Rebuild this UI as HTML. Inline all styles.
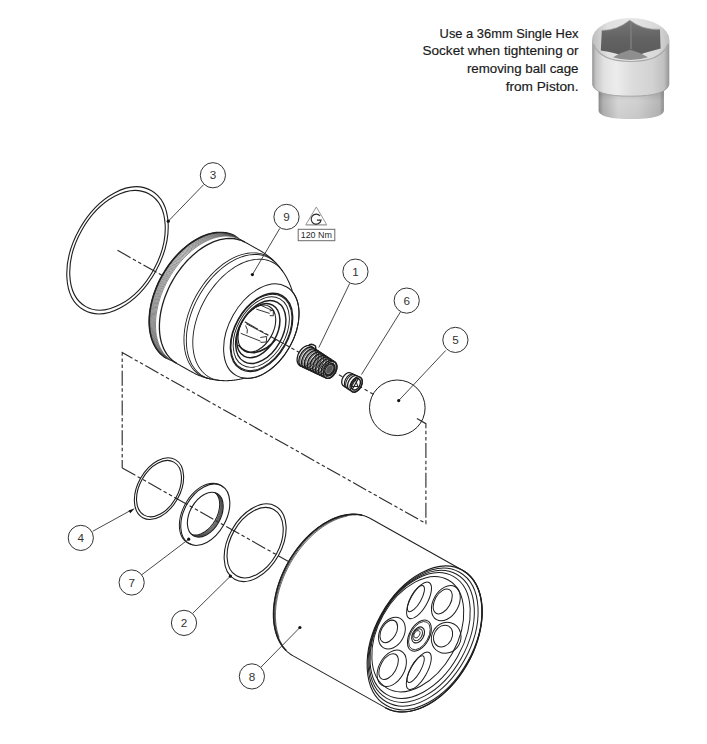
<!DOCTYPE html><html><head><meta charset="utf-8"><style>html,body{margin:0;padding:0;background:#fff;}svg{display:block;font-family:"Liberation Sans",sans-serif;}</style></head><body>
<svg width="707" height="744" viewBox="0 0 707 744">
<rect width="707" height="744" fill="#fff"/>
<text x="439.6" y="37.6" font-size="13.4" fill="#1a1a1a" stroke="#1a1a1a" stroke-width="0.18" textLength="138.9" lengthAdjust="spacingAndGlyphs">Use a 36mm Single Hex</text>
<text x="422.5" y="54.9" font-size="13.4" fill="#1a1a1a" stroke="#1a1a1a" stroke-width="0.18" textLength="156" lengthAdjust="spacingAndGlyphs">Socket when tightening or</text>
<text x="466.9" y="72.6" font-size="13.4" fill="#1a1a1a" stroke="#1a1a1a" stroke-width="0.18" textLength="111.6" lengthAdjust="spacingAndGlyphs">removing ball cage</text>
<text x="505.7" y="91.1" font-size="13.4" fill="#1a1a1a" stroke="#1a1a1a" stroke-width="0.18" textLength="72.8" lengthAdjust="spacingAndGlyphs">from Piston.</text>
<defs><linearGradient id="ug" x1="592" x2="669.5" y1="0" y2="0" gradientUnits="userSpaceOnUse"><stop offset="0" stop-color="#909090"/><stop offset="0.05" stop-color="#c4c4c4"/><stop offset="0.16" stop-color="#e2e2e2"/><stop offset="0.32" stop-color="#ececec"/><stop offset="0.52" stop-color="#dcdcdc"/><stop offset="0.78" stop-color="#d2d2d2"/><stop offset="0.93" stop-color="#c0c0c0"/><stop offset="1" stop-color="#929292"/></linearGradient><linearGradient id="lg" x1="598.5" x2="664" y1="0" y2="0" gradientUnits="userSpaceOnUse"><stop offset="0" stop-color="#8c8c8c"/><stop offset="0.07" stop-color="#b4b4b4"/><stop offset="0.3" stop-color="#dadada"/><stop offset="0.6" stop-color="#d4d4d4"/><stop offset="0.93" stop-color="#bababa"/><stop offset="1" stop-color="#909090"/></linearGradient><linearGradient id="lgs" x1="0" x2="0" y1="86" y2="119" gradientUnits="userSpaceOnUse"><stop offset="0" stop-color="#000" stop-opacity="0.18"/><stop offset="0.45" stop-color="#000" stop-opacity="0.02"/><stop offset="1" stop-color="#000" stop-opacity="0.06"/></linearGradient><linearGradient id="tg" x1="0" x2="1" y1="0" y2="0"><stop offset="0" stop-color="#bcbcbc"/><stop offset="0.2" stop-color="#e0e0e0"/><stop offset="0.5" stop-color="#e6e6e6"/><stop offset="0.85" stop-color="#d8d8d8"/><stop offset="1" stop-color="#c0c0c0"/></linearGradient><linearGradient id="hg" x1="0" x2="0" y1="20" y2="58" gradientUnits="userSpaceOnUse"><stop offset="0" stop-color="#767676"/><stop offset="0.5" stop-color="#626262"/><stop offset="1" stop-color="#5a5a5a"/></linearGradient></defs>
<path d="M598.6,84 L598.6,111 Q600.5,119 631.2,119 Q662,119 663.9,111 L663.9,84 Z" fill="url(#lg)"/>
<path d="M598.6,84 L598.6,111 Q600.5,119 631.2,119 Q662,119 663.9,111 L663.9,84 Z" fill="url(#lgs)"/>
<path d="M592.2,39.8 L592.2,84 Q594,96.2 630.6,96.2 Q667.5,96.2 669.3,84 L669.3,39.8 Z" fill="url(#ug)"/>
<path d="M592.6,84 Q594.3,96.2 630.6,96.2 Q667.2,96.2 668.9,84" fill="none" stroke="#9a9a9a" stroke-width="0.8"/>
<ellipse cx="630.7" cy="39.8" rx="38.6" ry="21.7" fill="url(#tg)"/>
<path d="M593.5,44 Q600,61.5 630.7,61.5 Q661,61.5 668,44" fill="none" stroke="#a8a8a8" stroke-width="1.2"/>
<path d="M629.8,20.3 Q617,30.5 601.8,30.5 L600.8,50.5 Q616,52.5 629.8,58.5 Q644,52.5 660.6,48.6 L660,29.3 Q643,30.5 629.8,20.3 Z" fill="url(#hg)"/>
<path d="M613,57.2 Q622,52 630.3,49.8 Q639,52 648,57.2 Q640,59.8 630.3,60.1 Q621,59.8 613,57.2 Z" fill="#8e8e8e"/>
<line x1="631" y1="22" x2="631" y2="49" stroke="#7c7c7c" stroke-width="1.6"/>
<path d="M601.8,30.5 Q617,30.5 629.8,20.3 Q643,30.5 660,29.3" fill="none" stroke="#9a9a9a" stroke-width="0.8"/>
<g fill="none" stroke="#2e2e2e" stroke-width="1.15" stroke-dasharray="15 2.6 3.5 2.6 3.5 2.6">
<path d="M416.9,418.4 L425.9,423.7 L425.9,523.5 L122.2,352.6 L122.2,468"/>
</g>
<g transform="translate(122.3,468.0) rotate(29.35)" fill="none" stroke="#1e1e1e" >
<path d="M0,0 L230,0" stroke="#2e2e2e" stroke-width="1.15" stroke-dasharray="15 2.6 3.5 2.6 3.5 2.6"/>
<ellipse cx="42.1" cy="0" rx="21.15" ry="33.3" stroke-width="1.1" />
<ellipse cx="42.1" cy="0" rx="19.3" ry="30.4" stroke-width="1.1" />
<ellipse cx="95.2" cy="0" rx="21.08" ry="33.2" stroke-width="1.1" />
<path d="M97.26,32.7 94.55,33.17 91.83,33.08 89.14,32.45 86.52,31.27 84.02,29.57 81.68,27.38 79.53,24.73 77.63,21.67 75.99,18.24 74.64,14.52 73.61,10.54 72.91,6.4 72.56,2.14 72.56,-2.14 72.91,-6.4 73.61,-10.54 74.64,-14.52 75.99,-18.24 77.63,-21.67 79.53,-24.73 81.68,-27.38 84.02,-29.57 86.52,-31.27 89.14,-32.45 91.83,-33.08 94.55,-33.17 97.26,-32.7" stroke-width="1.0" />
<defs><clipPath id="w7c"><ellipse cx="95.2" cy="0" rx="15.37" ry="24.2"/></clipPath></defs>
<ellipse cx="95.2" cy="0" rx="15.37" ry="24.2" stroke-width="1.1" />
<g clip-path="url(#w7c)"><path d="M93.41,-24.11 96.09,-24.11 98.73,-23.38 101.24,-21.93 103.56,-19.82 105.62,-17.11 107.34,-13.88 108.68,-10.23 109.59,-6.26 110.06,-2.11 110.06,2.11 109.59,6.26 108.68,10.23 107.34,13.88 105.62,17.11 103.56,19.82 101.24,21.93 98.73,23.38 96.09,24.11 93.41,24.11" stroke-width="0.5" stroke="#333"/><path d="M92.96,-24.11 95.64,-24.11 98.28,-23.38 100.79,-21.93 103.11,-19.82 105.17,-17.11 106.89,-13.88 108.23,-10.23 109.14,-6.26 109.61,-2.11 109.61,2.11 109.14,6.26 108.23,10.23 106.89,13.88 105.17,17.11 103.11,19.82 100.79,21.93 98.28,23.38 95.64,24.11 92.96,24.11" stroke-width="0.5" stroke="#333"/><path d="M92.51,-24.11 95.19,-24.11 97.83,-23.38 100.34,-21.93 102.66,-19.82 104.72,-17.11 106.44,-13.88 107.78,-10.23 108.69,-6.26 109.16,-2.11 109.16,2.11 108.69,6.26 107.78,10.23 106.44,13.88 104.72,17.11 102.66,19.82 100.34,21.93 97.83,23.38 95.19,24.11 92.51,24.11" stroke-width="0.5" stroke="#333"/><path d="M92.06,-24.11 94.74,-24.11 97.38,-23.38 99.89,-21.93 102.21,-19.82 104.27,-17.11 105.99,-13.88 107.33,-10.23 108.24,-6.26 108.71,-2.11 108.71,2.11 108.24,6.26 107.33,10.23 105.99,13.88 104.27,17.11 102.21,19.82 99.89,21.93 97.38,23.38 94.74,24.11 92.06,24.11" stroke-width="0.5" stroke="#333"/><path d="M91.61,-24.11 94.29,-24.11 96.93,-23.38 99.44,-21.93 101.76,-19.82 103.82,-17.11 105.54,-13.88 106.88,-10.23 107.79,-6.26 108.26,-2.11 108.26,2.11 107.79,6.26 106.88,10.23 105.54,13.88 103.82,17.11 101.76,19.82 99.44,21.93 96.93,23.38 94.29,24.11 91.61,24.11" stroke-width="0.5" stroke="#333"/><path d="M91.16,-24.11 93.84,-24.11 96.48,-23.38 98.99,-21.93 101.31,-19.82 103.37,-17.11 105.09,-13.88 106.43,-10.23 107.34,-6.26 107.81,-2.11 107.81,2.11 107.34,6.26 106.43,10.23 105.09,13.88 103.37,17.11 101.31,19.82 98.99,21.93 96.48,23.38 93.84,24.11 91.16,24.11" stroke-width="0.5" stroke="#333"/><path d="M90.71,-24.11 93.39,-24.11 96.03,-23.38 98.54,-21.93 100.86,-19.82 102.92,-17.11 104.64,-13.88 105.98,-10.23 106.89,-6.26 107.36,-2.11 107.36,2.11 106.89,6.26 105.98,10.23 104.64,13.88 102.92,17.11 100.86,19.82 98.54,21.93 96.03,23.38 93.39,24.11 90.71,24.11" stroke-width="0.5" stroke="#333"/><path d="M88.53,-23.83 91.2,-24.2 93.87,-23.83 96.46,-22.74 98.88,-20.96 101.08,-18.54 102.97,-15.56 104.51,-12.1 105.64,-8.28 106.33,-4.2 106.57,0 106.33,4.2 105.64,8.28 104.51,12.1 102.97,15.56 101.08,18.54 98.88,20.96 96.46,22.74 93.87,23.83 91.2,24.2 88.53,23.83" stroke-width="1.0" /></g>
<ellipse cx="152.4" cy="0" rx="26.61" ry="41.9" stroke-width="1.1" />
<ellipse cx="152.4" cy="0" rx="24.13" ry="38" stroke-width="1.1" />
<path d="M241,80 239.25,79.95 237.51,79.81 235.77,79.57 234.04,79.23 232.31,78.8 230.6,78.28 228.89,77.66 227.21,76.95 225.54,76.14 223.89,75.25 222.26,74.26 220.65,73.19 219.06,72.02 217.51,70.78 215.98,69.44 214.48,68.03 213.02,66.53 211.59,64.95 210.19,63.3 208.84,61.56 207.52,59.76 206.24,57.88 205.01,55.94 203.81,53.93 202.67,51.85 201.57,49.71 200.52,47.52 199.52,45.26 198.57,42.96 197.67,40.6 196.82,38.19 196.03,35.74 195.29,33.25 194.61,30.72 193.98,28.15 193.41,25.55 192.9,22.92 192.45,20.26 192.06,17.58 191.72,14.88 191.45,12.17 191.24,9.44 191.08,6.7 190.99,3.95 190.96,1.2 190.99,-1.55 191.08,-4.3 191.24,-7.04 191.45,-9.77 191.72,-12.48 192.06,-15.18 192.45,-17.86 192.9,-20.52 193.41,-23.15 193.98,-25.75 194.61,-28.32 195.29,-30.85 196.03,-33.34 196.82,-35.79 197.67,-38.2 198.57,-40.56 199.52,-42.86 200.52,-45.12 201.57,-47.31 202.67,-49.45 203.81,-51.53 205.01,-53.54 206.24,-55.48 207.52,-57.36 208.84,-59.16 210.19,-60.9 211.59,-62.55 213.02,-64.13 214.48,-65.63 215.98,-67.04 217.51,-68.38 219.06,-69.62 220.65,-70.79 222.26,-71.86 223.89,-72.85 225.54,-73.74 227.21,-74.55 228.89,-75.26 230.6,-75.88 232.31,-76.4 234.04,-76.83 235.77,-77.17 237.51,-77.41 239.25,-77.55 241,-77.6 346.7,-77.6 346.7,-77.6 348.45,-77.55 350.19,-77.41 351.93,-77.17 353.66,-76.83 355.39,-76.4 357.1,-75.88 358.81,-75.26 360.49,-74.55 362.16,-73.74 363.81,-72.85 365.44,-71.86 367.05,-70.79 368.64,-69.62 370.19,-68.38 371.72,-67.04 373.22,-65.63 374.68,-64.13 376.11,-62.55 377.51,-60.9 378.86,-59.16 380.18,-57.36 381.46,-55.48 382.69,-53.54 383.89,-51.53 385.03,-49.45 386.13,-47.31 387.18,-45.12 388.18,-42.86 389.13,-40.56 390.03,-38.2 390.88,-35.79 391.67,-33.34 392.41,-30.85 393.09,-28.32 393.72,-25.75 394.29,-23.15 394.8,-20.52 395.25,-17.86 395.64,-15.18 395.98,-12.48 396.25,-9.77 396.46,-7.04 396.62,-4.3 396.71,-1.55 396.74,1.2 396.71,3.95 396.62,6.7 396.46,9.44 396.25,12.17 395.98,14.88 395.64,17.58 395.25,20.26 394.8,22.92 394.29,25.55 393.72,28.15 393.09,30.72 392.41,33.25 391.67,35.74 390.88,38.19 390.03,40.6 389.13,42.96 388.18,45.26 387.18,47.52 386.13,49.71 385.03,51.85 383.89,53.93 382.69,55.94 381.46,57.88 380.18,59.76 378.86,61.56 377.51,63.3 376.11,64.95 374.68,66.53 373.22,68.03 371.72,69.44 370.19,70.78 368.64,72.02 367.05,73.19 365.44,74.26 363.81,75.25 362.16,76.14 360.49,76.95 358.81,77.66 357.1,78.28 355.39,78.8 353.66,79.23 351.93,79.57 350.19,79.81 348.45,79.95 346.7,80 241,80Z" fill="#fff" stroke-width="1.0"/>
<path d="M232.31,78.8 230.03,78.08 227.77,77.2 225.54,76.14 223.34,74.93 221.18,73.56 219.06,72.02 217,70.34 214.98,68.51 213.02,66.53 211.12,64.41 209.28,62.15 207.52,59.76 205.82,57.24 204.21,54.61 202.67,51.85 201.21,48.99 199.84,46.02 198.57,42.96 197.38,39.8 196.28,36.57 195.29,33.25 194.39,29.87 193.59,26.42 192.9,22.92 192.31,19.37 191.83,15.79 191.45,12.17 191.18,8.52 191.02,4.87 190.96,1.2 191.02,-2.47 191.18,-6.12 191.45,-9.77 191.83,-13.39 192.31,-16.97 192.9,-20.52 193.59,-24.02 194.39,-27.47 195.29,-30.85 196.28,-34.17 197.38,-37.4 198.57,-40.56 199.84,-43.62 201.21,-46.59 202.67,-49.45 204.21,-52.21 205.82,-54.84 207.52,-57.36 209.28,-59.75 211.12,-62.01 213.02,-64.13 214.98,-66.11 217,-67.94 219.06,-69.62 221.18,-71.16 223.34,-72.53 225.54,-73.74 227.77,-74.8 230.03,-75.68 232.31,-76.4" stroke-width="1.5" />
<path d="M226.74,76.14 224.76,75.06 222.81,73.84 220.89,72.5 219.02,71.03 217.18,69.44 215.39,67.73 213.64,65.91 211.95,63.97 210.3,61.92 208.72,59.76 207.19,57.5 205.72,55.14 204.32,52.69 202.99,50.15 201.72,47.52 200.52,44.81 199.4,42.02 198.35,39.16 197.38,36.24 196.49,33.25 195.68,30.21 194.95,27.11 194.3,23.98 193.73,20.8 193.26,17.58 192.86,14.34 192.56,11.08 192.34,7.79 192.21,4.5 192.16,1.2 192.21,-2.1 192.34,-5.39 192.56,-8.68 192.86,-11.94 193.26,-15.18 193.73,-18.4 194.3,-21.58 194.95,-24.71 195.68,-27.81 196.49,-30.85 197.38,-33.84 198.35,-36.76 199.4,-39.62 200.52,-42.41 201.72,-45.12 202.99,-47.75 204.32,-50.29 205.72,-52.74 207.19,-55.1 208.72,-57.36 210.3,-59.52 211.95,-61.57 213.64,-63.51 215.39,-65.33 217.18,-67.04 219.02,-68.63 220.89,-70.1 222.81,-71.44 224.76,-72.66 226.74,-73.74" stroke-width="0.7" />
<path d="M219.71,70.78 218.13,69.4 216.59,67.93 215.07,66.37 213.6,64.73 212.16,63.01 210.77,61.21 209.42,59.33 208.11,57.37 206.84,55.34 205.63,53.24 204.46,51.07 203.34,48.84 202.28,46.55 201.27,44.19 200.31,41.79 199.41,39.32 198.56,36.81 197.78,34.25 197.05,31.65 196.38,29.01 195.78,26.33 195.23,23.62 194.75,20.89 194.33,18.12 193.97,15.33 193.68,12.53 193.45,9.71 193.29,6.88 193.19,4.04 193.16,1.2 193.19,-1.64 193.29,-4.48 193.45,-7.31 193.68,-10.13 193.97,-12.93 194.33,-15.72 194.75,-18.49 195.23,-21.22 195.78,-23.93 196.38,-26.61 197.05,-29.25 197.78,-31.85 198.56,-34.41 199.41,-36.92 200.31,-39.39 201.27,-41.79 202.28,-44.15 203.34,-46.44 204.46,-48.67 205.63,-50.84 206.84,-52.94 208.11,-54.97 209.42,-56.93 210.77,-58.81 212.16,-60.61 213.6,-62.33 215.07,-63.97 216.59,-65.53 218.13,-67 219.71,-68.38" stroke-width="0.6" />
<path d="M346.7,-77.6 348.45,-77.55 350.19,-77.41 351.93,-77.17 353.66,-76.83 355.39,-76.4 357.1,-75.88 358.81,-75.26 360.49,-74.55 362.16,-73.74 363.81,-72.85 365.44,-71.86 367.05,-70.79 368.64,-69.62 370.19,-68.38 371.72,-67.04 373.22,-65.63 374.68,-64.13 376.11,-62.55 377.51,-60.9 378.86,-59.16 380.18,-57.36 381.46,-55.48 382.69,-53.54 383.89,-51.53 385.03,-49.45 386.13,-47.31 387.18,-45.12 388.18,-42.86 389.13,-40.56 390.03,-38.2 390.88,-35.79 391.67,-33.34 392.41,-30.85 393.09,-28.32 393.72,-25.75 394.29,-23.15 394.8,-20.52 395.25,-17.86 395.64,-15.18 395.98,-12.48 396.25,-9.77 396.46,-7.04 396.62,-4.3 396.71,-1.55 396.74,1.2 396.71,3.95 396.62,6.7 396.46,9.44 396.25,12.17 395.98,14.88 395.64,17.58 395.25,20.26 394.8,22.92 394.29,25.55 393.72,28.15 393.09,30.72 392.41,33.25 391.67,35.74 390.88,38.19 390.03,40.6 389.13,42.96 388.18,45.26 387.18,47.52 386.13,49.71 385.03,51.85 383.89,53.93 382.69,55.94 381.46,57.88 380.18,59.76 378.86,61.56 377.51,63.3 376.11,64.95 374.68,66.53 373.22,68.03 371.72,69.44 370.19,70.78 368.64,72.02 367.05,73.19 365.44,74.26 363.81,75.25 362.16,76.14 360.49,76.95 358.81,77.66 357.1,78.28 355.39,78.8 353.66,79.23 351.93,79.57 350.19,79.81 348.45,79.95 346.7,80" stroke-width="1.3" />
<ellipse cx="346.7" cy="0" rx="49.28" ry="77.6" stroke-width="1.1" />
<ellipse cx="345.1" cy="0" rx="47.24" ry="74.4" stroke-width="1.0" />
<ellipse cx="343.5" cy="0" rx="45.21" ry="71.2" stroke-width="1.0" />
<ellipse cx="341.7" cy="0" rx="43.05" ry="67.8" stroke-width="1.0" />
<ellipse cx="339" cy="0" rx="39.5" ry="62.2" stroke-width="1.0" />
</g>
<g fill="none" stroke="#1e1e1e"><g transform="translate(419.05,600.35) rotate(29.35)"><ellipse cx="0" cy="0" rx="8.4" ry="20.5" stroke-width="1.0"/><ellipse cx="-3.6" cy="0" rx="5.21" ry="14.76" stroke-width="1.0"/></g>
<g transform="translate(445.85,603.2) rotate(29.35)"><ellipse cx="0" cy="0" rx="12.7" ry="18.9" stroke-width="1.0"/><ellipse cx="-3.6" cy="0" rx="7.87" ry="13.61" stroke-width="1.0"/></g>
<g transform="translate(446.2,637.8) rotate(29.35)"><ellipse cx="0" cy="0" rx="14.5" ry="15.8" stroke-width="1.0"/><ellipse cx="-3.6" cy="0" rx="8.99" ry="11.38" stroke-width="1.0"/></g>
<g transform="translate(418.8,670.85) rotate(29.35)"><ellipse cx="0" cy="0" rx="8.1" ry="21" stroke-width="1.0"/><ellipse cx="-3.6" cy="0" rx="5.02" ry="15.12" stroke-width="1.0"/></g>
<g transform="translate(391.75,668.35) rotate(29.35)"><ellipse cx="0" cy="0" rx="12.7" ry="19.6" stroke-width="1.0"/><ellipse cx="-3.6" cy="0" rx="7.87" ry="14.11" stroke-width="1.0"/></g>
<g transform="translate(391.9,633.15) rotate(29.35)"><ellipse cx="0" cy="0" rx="12.1" ry="16.9" stroke-width="1.0"/><ellipse cx="-3.6" cy="0" rx="7.5" ry="12.17" stroke-width="1.0"/></g>
<g transform="translate(419.4,635.65) rotate(29.35)"><ellipse rx="9.9" ry="16.9" stroke-width="1.0"/><ellipse rx="8.9" ry="15.4" stroke-width="0.8"/><ellipse cx="-1.5" rx="5.6" ry="8.6" stroke-width="1.1"/><ellipse cx="-2" rx="4.2" ry="6.4" stroke-width="0.9"/><ellipse cx="-2.8" rx="2.6" ry="4" stroke-width="0.8"/></g></g>
<g transform="translate(117.5,250.3) rotate(29.35)" fill="none" stroke="#1e1e1e" >
<path d="M0,0 L51,0" stroke="#2e2e2e" stroke-width="1.15" stroke-dasharray="15 2.6 3.5 2.6 3.5 2.6"/>
<ellipse cx="0" cy="0" rx="43.56" ry="68.6" stroke-width="1.1" />
<ellipse cx="0" cy="0" rx="41.02" ry="64.6" stroke-width="1.1" />
<path d="M197.38,0 197.38,0.59 197.38,1.18 197.37,1.76 197.35,2.35 197.33,2.94 197.31,3.53 197.28,4.11 197.25,4.7 197.21,5.29 197.17,5.88 197.12,6.46 197.07,7.05 197.02,7.64 196.96,8.22 196.9,8.81 196.83,9.39 196.76,9.98 196.68,10.56 196.6,11.15 196.52,11.73 196.43,12.31 196.33,12.89 196.23,13.48 196.13,14.06 196.02,14.64 195.91,15.22 195.79,15.8 195.67,16.37 195.54,16.95 195.41,17.53 195.28,18.1 195.14,18.68 194.99,19.25 194.84,19.82 194.68,20.39 194.52,20.96 194.36,21.53 194.19,22.1 194.01,22.67 193.83,23.23 193.64,23.8 193.45,24.36 193.26,24.92 193.06,25.48 192.85,26.03 192.64,26.59 192.42,27.14 192.2,27.69 191.97,28.24 191.73,28.79 191.49,29.33 191.25,29.87 191,30.41 190.74,30.95 190.48,31.48 190.21,32.01 189.94,32.54 189.66,33.07 189.37,33.59 189.08,34.11 188.78,34.62 188.47,35.13 188.16,35.64 187.85,36.15 187.52,36.65 187.19,37.14 186.86,37.63 186.51,38.12 186.17,38.6 185.81,39.08 185.45,39.55 185.08,40.02 184.7,40.48 184.32,40.93 183.93,41.38 183.53,41.82 183.13,42.26 182.72,42.69 182.3,43.11 181.88,43.53 181.44,43.94 181,44.34 180.56,44.73 180.1,45.11 179.64,45.49 179.17,45.86 178.7,46.21 178.22,46.56 177.72,46.9 177.23,47.23 176.72,47.54 176.21,47.85 175.69,48.14 175.16,48.43 174.62,48.7 174.08,48.95 173.53,49.2 172.98,49.45 172.57,49.85 172.16,50.25 171.75,50.64 171.33,51.03 170.9,51.42 170.48,51.81 170.05,52.19 169.61,52.57 169.18,52.95 168.74,53.32 168.29,53.69 167.85,54.05 167.4,54.41 166.94,54.77 166.49,55.13 166.03,55.48 165.56,55.83 165.1,56.17 164.63,56.51 164.16,56.85 163.68,57.18 163.2,57.51 162.72,57.83 162.24,58.16 161.75,58.47 161.26,58.79 160.76,59.1 160.27,59.4 159.77,59.71 159.27,60 158.76,60.3 158.25,60.59 157.74,60.87 157.23,61.16 156.71,61.43 156.19,61.71 155.67,61.98 155.15,62.24 154.62,62.5 154.09,62.76 153.56,63.01 153.02,63.26 152.49,63.5 151.95,63.74 151.41,63.98 150.86,64.21 150.32,64.43 149.77,64.65 149.22,64.87 148.66,65.08 148.11,65.29 147.55,65.49 146.99,65.69 146.43,65.89 145.86,66.08 145.3,66.26 144.73,66.44 144.16,66.62 143.59,66.79 143.01,66.95 142.44,67.11 141.86,67.27 141.28,67.42 140.7,67.57 140.12,67.71 139.53,67.84 138.95,67.98 138.36,68.1 137.77,68.22 137.18,68.34 136.59,68.45 136,68.56 135.4,68.66 134.81,68.76 134.21,68.85 133.61,68.93 133.01,69.01 132.41,69.09 131.81,69.16 131.21,69.23 130.6,69.29 130,69.34 129.39,69.39 128.79,69.44 128.18,69.47 127.57,69.51 126.96,69.54 126.35,69.56 125.74,69.58 125.13,69.59 124.52,69.6 123.91,69.6 123.3,69.6 122.68,69.6 122.07,69.6 121.45,69.6 120.84,69.6 120.22,69.6 119.6,69.6 118.98,69.6 118.35,69.6 117.73,69.6 117.1,69.6 116.47,69.6 115.84,69.6 115.21,69.6 114.57,69.6 113.93,69.6 113.29,69.6 112.65,69.6 112,69.6 111.35,69.6 110.7,69.6 110.04,69.6 109.38,69.6 108.72,69.6 108.06,69.6 107.39,69.6 106.71,69.6 106.03,69.6 105.35,69.6 104.67,69.6 103.98,69.6 103.28,69.6 102.58,69.6 101.88,69.6 101.17,69.6 100.45,69.62 99.68,69.73 98.91,69.83 98.14,69.9 97.38,69.96 96.62,69.99 95.86,70 95.1,69.99 94.35,69.96 93.6,69.91 92.86,69.85 92.12,69.76 91.39,69.65 90.66,69.53 89.94,69.39 89.22,69.23 88.51,69.05 87.8,68.86 87.1,68.65 86.41,68.42 85.72,68.18 85.04,67.92 84.37,67.65 83.71,67.36 83.05,67.06 82.39,66.74 81.75,66.41 81.11,66.07 80.48,65.71 79.86,65.34 79.24,64.96 78.64,64.57 78.04,64.17 77.45,63.75 76.86,63.33 76.28,62.89 75.72,62.45 75.15,61.99 74.6,61.53 74.06,61.05 73.52,60.57 72.99,60.08 72.47,59.58 71.95,59.07 71.44,58.56 70.94,58.03 70.45,57.5 69.97,56.97 69.49,56.42 69.02,55.87 68.56,55.32 68.11,54.76 67.66,54.19 67.22,53.62 66.79,53.04 66.37,52.46 65.95,51.87 65.54,51.27 65.14,50.68 64.74,50.08 64.35,49.47 63.97,48.86 63.59,48.25 63.23,47.63 62.86,47.01 62.51,46.38 62.16,45.76 61.82,45.13 61.48,44.49 61.16,43.86 60.83,43.22 60.52,42.58 60.21,41.93 59.91,41.29 59.61,40.64 59.32,39.99 59.03,39.34 58.75,38.68 58.48,38.03 58.21,37.37 57.95,36.71 57.7,36.05 57.45,35.39 57.2,34.72 56.97,34.06 56.73,33.39 56.51,32.72 56.28,32.05 56.07,31.38 55.86,30.71 55.65,30.04 55.45,29.37 55.26,28.69 55.07,28.02 54.88,27.34 54.7,26.66 54.53,25.99 54.36,25.31 54.19,24.63 54.03,23.95 53.88,23.27 53.73,22.59 53.58,21.91 53.44,21.23 53.31,20.55 53.18,19.87 53.05,19.19 52.93,18.5 52.81,17.82 52.7,17.14 52.6,16.45 52.49,15.77 52.39,15.08 52.3,14.4 52.21,13.72 52.13,13.03 52.05,12.35 51.97,11.66 51.9,10.98 51.83,10.29 51.77,9.61 51.71,8.92 51.66,8.23 51.61,7.55 51.56,6.86 51.52,6.18 51.49,5.49 51.45,4.8 51.43,4.12 51.4,3.43 51.38,2.75 51.37,2.06 51.36,1.37 51.35,0.69 51.35,0 51.35,-0.69 51.36,-1.37 51.37,-2.06 51.38,-2.75 51.4,-3.43 51.43,-4.12 51.45,-4.8 51.49,-5.49 51.52,-6.18 51.56,-6.86 51.61,-7.55 51.66,-8.23 51.71,-8.92 51.77,-9.61 51.83,-10.29 51.9,-10.98 51.97,-11.66 52.05,-12.35 52.13,-13.03 52.21,-13.72 52.3,-14.4 52.39,-15.08 52.49,-15.77 52.6,-16.45 52.7,-17.14 52.81,-17.82 52.93,-18.5 53.05,-19.19 53.18,-19.87 53.31,-20.55 53.44,-21.23 53.58,-21.91 53.73,-22.59 53.88,-23.27 54.03,-23.95 54.19,-24.63 54.36,-25.31 54.53,-25.99 54.7,-26.66 54.88,-27.34 55.07,-28.02 55.26,-28.69 55.45,-29.37 55.65,-30.04 55.86,-30.71 56.07,-31.38 56.28,-32.05 56.51,-32.72 56.73,-33.39 56.97,-34.06 57.2,-34.72 57.45,-35.39 57.7,-36.05 57.95,-36.71 58.21,-37.37 58.48,-38.03 58.75,-38.68 59.03,-39.34 59.32,-39.99 59.61,-40.64 59.91,-41.29 60.21,-41.93 60.52,-42.58 60.83,-43.22 61.16,-43.86 61.48,-44.49 61.82,-45.13 62.16,-45.76 62.51,-46.38 62.86,-47.01 63.23,-47.63 63.59,-48.25 63.97,-48.86 64.35,-49.47 64.74,-50.08 65.14,-50.68 65.54,-51.27 65.95,-51.87 66.37,-52.46 66.79,-53.04 67.22,-53.62 67.66,-54.19 68.11,-54.76 68.56,-55.32 69.02,-55.87 69.49,-56.42 69.97,-56.97 70.45,-57.5 70.94,-58.03 71.44,-58.56 71.95,-59.07 72.47,-59.58 72.99,-60.08 73.52,-60.57 74.06,-61.05 74.6,-61.53 75.15,-61.99 75.72,-62.45 76.28,-62.89 76.86,-63.33 77.45,-63.75 78.04,-64.17 78.64,-64.57 79.24,-64.96 79.86,-65.34 80.48,-65.71 81.11,-66.07 81.75,-66.41 82.39,-66.74 83.05,-67.06 83.71,-67.36 84.37,-67.65 85.04,-67.92 85.72,-68.18 86.41,-68.42 87.1,-68.65 87.8,-68.86 88.51,-69.05 89.22,-69.23 89.94,-69.39 90.66,-69.53 91.39,-69.65 92.12,-69.76 92.86,-69.85 93.6,-69.91 94.35,-69.96 95.1,-69.99 95.86,-70 96.62,-69.99 97.38,-69.96 98.14,-69.9 98.91,-69.83 99.68,-69.73 100.45,-69.62 101.17,-69.6 101.88,-69.6 102.58,-69.6 103.28,-69.6 103.98,-69.6 104.67,-69.6 105.35,-69.6 106.03,-69.6 106.71,-69.6 107.39,-69.6 108.06,-69.6 108.72,-69.6 109.38,-69.6 110.04,-69.6 110.7,-69.6 111.35,-69.6 112,-69.6 112.65,-69.6 113.29,-69.6 113.93,-69.6 114.57,-69.6 115.21,-69.6 115.84,-69.6 116.47,-69.6 117.1,-69.6 117.73,-69.6 118.35,-69.6 118.98,-69.6 119.6,-69.6 120.22,-69.6 120.84,-69.6 121.45,-69.6 122.07,-69.6 122.68,-69.6 123.3,-69.6 123.91,-69.6 124.52,-69.6 125.13,-69.59 125.74,-69.58 126.35,-69.56 126.96,-69.54 127.57,-69.51 128.18,-69.47 128.79,-69.44 129.39,-69.39 130,-69.34 130.6,-69.29 131.21,-69.23 131.81,-69.16 132.41,-69.09 133.01,-69.01 133.61,-68.93 134.21,-68.85 134.81,-68.76 135.4,-68.66 136,-68.56 136.59,-68.45 137.18,-68.34 137.77,-68.22 138.36,-68.1 138.95,-67.98 139.53,-67.84 140.12,-67.71 140.7,-67.57 141.28,-67.42 141.86,-67.27 142.44,-67.11 143.01,-66.95 143.59,-66.79 144.16,-66.62 144.73,-66.44 145.3,-66.26 145.86,-66.08 146.43,-65.89 146.99,-65.69 147.55,-65.49 148.11,-65.29 148.66,-65.08 149.22,-64.87 149.77,-64.65 150.32,-64.43 150.86,-64.21 151.41,-63.98 151.95,-63.74 152.49,-63.5 153.02,-63.26 153.56,-63.01 154.09,-62.76 154.62,-62.5 155.15,-62.24 155.67,-61.98 156.19,-61.71 156.71,-61.43 157.23,-61.16 157.74,-60.87 158.25,-60.59 158.76,-60.3 159.27,-60 159.77,-59.71 160.27,-59.4 160.76,-59.1 161.26,-58.79 161.75,-58.47 162.24,-58.16 162.72,-57.83 163.2,-57.51 163.68,-57.18 164.16,-56.85 164.63,-56.51 165.1,-56.17 165.56,-55.83 166.03,-55.48 166.49,-55.13 166.94,-54.77 167.4,-54.41 167.85,-54.05 168.29,-53.69 168.74,-53.32 169.18,-52.95 169.61,-52.57 170.05,-52.19 170.48,-51.81 170.9,-51.42 171.33,-51.03 171.75,-50.64 172.16,-50.25 172.57,-49.85 172.98,-49.45 173.53,-49.2 174.08,-48.95 174.62,-48.7 175.16,-48.43 175.69,-48.14 176.21,-47.85 176.72,-47.54 177.23,-47.23 177.72,-46.9 178.22,-46.56 178.7,-46.21 179.17,-45.86 179.64,-45.49 180.1,-45.11 180.56,-44.73 181,-44.34 181.44,-43.94 181.88,-43.53 182.3,-43.11 182.72,-42.69 183.13,-42.26 183.53,-41.82 183.93,-41.38 184.32,-40.93 184.7,-40.48 185.08,-40.02 185.45,-39.55 185.81,-39.08 186.17,-38.6 186.51,-38.12 186.86,-37.63 187.19,-37.14 187.52,-36.65 187.85,-36.15 188.16,-35.64 188.47,-35.13 188.78,-34.62 189.08,-34.11 189.37,-33.59 189.66,-33.07 189.94,-32.54 190.21,-32.01 190.48,-31.48 190.74,-30.95 191,-30.41 191.25,-29.87 191.49,-29.33 191.73,-28.79 191.97,-28.24 192.2,-27.69 192.42,-27.14 192.64,-26.59 192.85,-26.03 193.06,-25.48 193.26,-24.92 193.45,-24.36 193.64,-23.8 193.83,-23.23 194.01,-22.67 194.19,-22.1 194.36,-21.53 194.52,-20.96 194.68,-20.39 194.84,-19.82 194.99,-19.25 195.14,-18.68 195.28,-18.1 195.41,-17.53 195.54,-16.95 195.67,-16.37 195.79,-15.8 195.91,-15.22 196.02,-14.64 196.13,-14.06 196.23,-13.48 196.33,-12.89 196.43,-12.31 196.52,-11.73 196.6,-11.15 196.68,-10.56 196.76,-9.98 196.83,-9.39 196.9,-8.81 196.96,-8.22 197.02,-7.64 197.07,-7.05 197.12,-6.46 197.17,-5.88 197.21,-5.29 197.25,-4.7 197.28,-4.11 197.31,-3.53 197.33,-2.94 197.35,-2.35 197.37,-1.76 197.38,-1.18 197.38,-0.59Z" fill="#fff" stroke-width="1.05"/>
<path d="M95.8,70 93.12,69.87 90.44,69.49 87.79,68.85 85.16,67.97 82.58,66.83 80.04,65.45 77.56,63.83 75.14,61.98 72.8,59.9 70.55,57.61 68.39,55.1 66.32,52.4 64.37,49.5 62.53,46.42 60.81,43.17 59.22,39.76 57.76,36.21 56.44,32.53 55.27,28.73 54.24,24.82 53.36,20.83 52.64,16.75 52.08,12.62 51.67,8.44 51.43,4.23 51.35,0 51.43,-4.23 51.67,-8.44 52.08,-12.62 52.64,-16.75 53.36,-20.83 54.24,-24.82 55.27,-28.73 56.44,-32.53 57.76,-36.21 59.22,-39.76 60.81,-43.17 62.53,-46.42 64.37,-49.5 66.32,-52.4 68.39,-55.1 70.55,-57.61 72.8,-59.9 75.14,-61.98 77.56,-63.83 80.04,-65.45 82.58,-66.83 85.16,-67.97 87.79,-68.85 90.44,-69.49 93.12,-69.87 95.8,-70" stroke-width="1.7" />
<path d="M94.48,69.7 91.8,69.35 89.13,68.75 86.5,67.89 83.9,66.78 81.35,65.42 78.86,63.82 76.43,61.99 74.08,59.93 71.81,57.65 69.63,55.15 67.56,52.45 65.59,49.56 63.74,46.49 62.01,43.24 60.4,39.84 58.94,36.28 57.61,32.6 56.42,28.79 55.39,24.88 54.51,20.87 53.78,16.79 53.21,12.65 52.8,8.46 52.56,4.24 52.48,0 52.56,-4.24 52.8,-8.46 53.21,-12.65 53.78,-16.79 54.51,-20.87 55.39,-24.88 56.42,-28.79 57.61,-32.6 58.94,-36.28 60.4,-39.84 62.01,-43.24 63.74,-46.49 65.59,-49.56 67.56,-52.45 69.63,-55.15 71.81,-57.65 74.08,-59.93 76.43,-61.99 78.86,-63.82 81.35,-65.42 83.9,-66.78 86.5,-67.89 89.13,-68.75 91.8,-69.35 94.48,-69.7" stroke-width="0.55" stroke="#444"/>
<path d="M95.48,69.7 92.8,69.35 90.13,68.75 87.5,67.89 84.9,66.78 82.35,65.42 79.86,63.82 77.43,61.99 75.08,59.93 72.81,57.65 70.63,55.15 68.56,52.45 66.59,49.56 64.74,46.49 63.01,43.24 61.4,39.84 59.94,36.28 58.61,32.6 57.42,28.79 56.39,24.88 55.51,20.87 54.78,16.79 54.21,12.65 53.8,8.46 53.56,4.24 53.48,0 53.56,-4.24 53.8,-8.46 54.21,-12.65 54.78,-16.79 55.51,-20.87 56.39,-24.88 57.42,-28.79 58.61,-32.6 59.94,-36.28 61.4,-39.84 63.01,-43.24 64.74,-46.49 66.59,-49.56 68.56,-52.45 70.63,-55.15 72.81,-57.65 75.08,-59.93 77.43,-61.99 79.86,-63.82 82.35,-65.42 84.9,-66.78 87.5,-67.89 90.13,-68.75 92.8,-69.35 95.48,-69.7" stroke-width="0.55" stroke="#444"/>
<path d="M96.48,69.7 93.8,69.35 91.13,68.75 88.5,67.89 85.9,66.78 83.35,65.42 80.86,63.82 78.43,61.99 76.08,59.93 73.81,57.65 71.63,55.15 69.56,52.45 67.59,49.56 65.74,46.49 64.01,43.24 62.4,39.84 60.94,36.28 59.61,32.6 58.42,28.79 57.39,24.88 56.51,20.87 55.78,16.79 55.21,12.65 54.8,8.46 54.56,4.24 54.48,0 54.56,-4.24 54.8,-8.46 55.21,-12.65 55.78,-16.79 56.51,-20.87 57.39,-24.88 58.42,-28.79 59.61,-32.6 60.94,-36.28 62.4,-39.84 64.01,-43.24 65.74,-46.49 67.59,-49.56 69.56,-52.45 71.63,-55.15 73.81,-57.65 76.08,-59.93 78.43,-61.99 80.86,-63.82 83.35,-65.42 85.9,-66.78 88.5,-67.89 91.13,-68.75 93.8,-69.35 96.48,-69.7" stroke-width="0.55" stroke="#444"/>
<path d="M97.48,69.7 94.8,69.35 92.13,68.75 89.5,67.89 86.9,66.78 84.35,65.42 81.86,63.82 79.43,61.99 77.08,59.93 74.81,57.65 72.63,55.15 70.56,52.45 68.59,49.56 66.74,46.49 65.01,43.24 63.4,39.84 61.94,36.28 60.61,32.6 59.42,28.79 58.39,24.88 57.51,20.87 56.78,16.79 56.21,12.65 55.8,8.46 55.56,4.24 55.48,0 55.56,-4.24 55.8,-8.46 56.21,-12.65 56.78,-16.79 57.51,-20.87 58.39,-24.88 59.42,-28.79 60.61,-32.6 61.94,-36.28 63.4,-39.84 65.01,-43.24 66.74,-46.49 68.59,-49.56 70.56,-52.45 72.63,-55.15 74.81,-57.65 77.08,-59.93 79.43,-61.99 81.86,-63.82 84.35,-65.42 86.9,-66.78 89.5,-67.89 92.13,-68.75 94.8,-69.35 97.48,-69.7" stroke-width="0.55" stroke="#444"/>
<path d="M98.48,69.7 95.8,69.35 93.13,68.75 90.5,67.89 87.9,66.78 85.35,65.42 82.86,63.82 80.43,61.99 78.08,59.93 75.81,57.65 73.63,55.15 71.56,52.45 69.59,49.56 67.74,46.49 66.01,43.24 64.4,39.84 62.94,36.28 61.61,32.6 60.42,28.79 59.39,24.88 58.51,20.87 57.78,16.79 57.21,12.65 56.8,8.46 56.56,4.24 56.48,0 56.56,-4.24 56.8,-8.46 57.21,-12.65 57.78,-16.79 58.51,-20.87 59.39,-24.88 60.42,-28.79 61.61,-32.6 62.94,-36.28 64.4,-39.84 66.01,-43.24 67.74,-46.49 69.59,-49.56 71.56,-52.45 73.63,-55.15 75.81,-57.65 78.08,-59.93 80.43,-61.99 82.86,-63.82 85.35,-65.42 87.9,-66.78 90.5,-67.89 93.13,-68.75 95.8,-69.35 98.48,-69.7" stroke-width="0.55" stroke="#444"/>
<path d="M99.48,69.7 96.8,69.35 94.13,68.75 91.5,67.89 88.9,66.78 86.35,65.42 83.86,63.82 81.43,61.99 79.08,59.93 76.81,57.65 74.63,55.15 72.56,52.45 70.59,49.56 68.74,46.49 67.01,43.24 65.4,39.84 63.94,36.28 62.61,32.6 61.42,28.79 60.39,24.88 59.51,20.87 58.78,16.79 58.21,12.65 57.8,8.46 57.56,4.24 57.48,0 57.56,-4.24 57.8,-8.46 58.21,-12.65 58.78,-16.79 59.51,-20.87 60.39,-24.88 61.42,-28.79 62.61,-32.6 63.94,-36.28 65.4,-39.84 67.01,-43.24 68.74,-46.49 70.59,-49.56 72.56,-52.45 74.63,-55.15 76.81,-57.65 79.08,-59.93 81.43,-61.99 83.86,-63.82 86.35,-65.42 88.9,-66.78 91.5,-67.89 94.13,-68.75 96.8,-69.35 99.48,-69.7" stroke-width="0.55" stroke="#444"/>
<path d="M100.48,69.7 97.8,69.35 95.13,68.75 92.5,67.89 89.9,66.78 87.35,65.42 84.86,63.82 82.43,61.99 80.08,59.93 77.81,57.65 75.63,55.15 73.56,52.45 71.59,49.56 69.74,46.49 68.01,43.24 66.4,39.84 64.94,36.28 63.61,32.6 62.42,28.79 61.39,24.88 60.51,20.87 59.78,16.79 59.21,12.65 58.8,8.46 58.56,4.24 58.48,0 58.56,-4.24 58.8,-8.46 59.21,-12.65 59.78,-16.79 60.51,-20.87 61.39,-24.88 62.42,-28.79 63.61,-32.6 64.94,-36.28 66.4,-39.84 68.01,-43.24 69.74,-46.49 71.59,-49.56 73.56,-52.45 75.63,-55.15 77.81,-57.65 80.08,-59.93 82.43,-61.99 84.86,-63.82 87.35,-65.42 89.9,-66.78 92.5,-67.89 95.13,-68.75 97.8,-69.35 100.48,-69.7" stroke-width="0.55" stroke="#444"/>
<path d="M107,69.5 104.34,69.37 101.68,68.99 99.04,68.36 96.44,67.48 93.87,66.35 91.35,64.98 88.89,63.38 86.49,61.54 84.17,59.48 81.93,57.2 79.78,54.71 77.73,52.02 75.79,49.14 73.97,46.09 72.26,42.86 70.68,39.48 69.23,35.95 67.92,32.3 66.76,28.52 65.74,24.65 64.87,20.68 64.15,16.63 63.59,12.53 63.19,8.38 62.95,4.2 62.87,0 62.95,-4.2 63.19,-8.38 63.59,-12.53 64.15,-16.63 64.87,-20.68 65.74,-24.65 66.76,-28.52 67.92,-32.3 69.23,-35.95 70.68,-39.48 72.26,-42.86 73.97,-46.09 75.79,-49.14 77.73,-52.02 79.78,-54.71 81.93,-57.2 84.17,-59.48 86.49,-61.54 88.89,-63.38 91.35,-64.98 93.87,-66.35 96.44,-67.48 99.04,-68.36 101.68,-68.99 104.34,-69.37 107,-69.5" stroke-width="1.3" />
<path d="M141.09,67.47 138.43,68.01 135.76,68.29 133.08,68.31 130.4,68.07 127.74,67.57 125.1,66.82 122.5,65.8 119.94,64.54 117.44,63.03 115,61.28 112.63,59.29 110.34,57.08 108.15,54.65 106.06,52.02 104.07,49.18 102.2,46.16 100.45,42.96 98.83,39.59 97.35,36.08 96,32.42 94.8,28.65 93.76,24.76 92.86,20.78 92.13,16.72 91.55,12.6 91.14,8.42 90.89,4.22 90.81,0 90.89,-4.22 91.14,-8.42 91.55,-12.6 92.13,-16.72 92.86,-20.78 93.76,-24.76 94.8,-28.65 96,-32.42 97.35,-36.08 98.83,-39.59 100.45,-42.96 102.2,-46.16 104.07,-49.18 106.06,-52.02 108.15,-54.65 110.34,-57.08 112.63,-59.29 115,-61.28 117.44,-63.03 119.94,-64.54 122.5,-65.8 125.1,-66.82 127.74,-67.57 130.4,-68.07 133.08,-68.31 135.76,-68.29 138.43,-68.01 141.09,-67.47" stroke-width="0.9" />
<path d="M144.78,66.43 142.15,67.12 139.5,67.55 136.83,67.72 134.17,67.63 131.51,67.28 128.87,66.68 126.27,65.82 123.7,64.7 121.17,63.34 118.71,61.73 116.32,59.89 114,57.81 111.77,55.51 109.63,53.01 107.6,50.29 105.67,47.38 103.87,44.3 102.19,41.04 100.64,37.62 99.23,34.06 97.96,30.37 96.84,26.56 95.87,22.65 95.06,18.65 94.4,14.58 93.91,10.45 93.58,6.29 93.42,2.1 93.42,-2.1 93.58,-6.29 93.91,-10.45 94.4,-14.58 95.06,-18.65 95.87,-22.65 96.84,-26.56 97.96,-30.37 99.23,-34.06 100.64,-37.62 102.19,-41.04 103.87,-44.3 105.67,-47.38 107.6,-50.29 109.63,-53.01 111.77,-55.51 114,-57.81 116.32,-59.89 118.71,-61.73 121.17,-63.34 123.7,-64.7 126.27,-65.82 128.87,-66.68 131.51,-67.28 134.17,-67.63 136.83,-67.72 139.5,-67.55 142.15,-67.12 144.78,-66.43" stroke-width="0.9" />
<path d="M154.16,62.72 151.57,63.83 148.95,64.67 146.29,65.23 143.62,65.53 140.94,65.56 138.26,65.32 135.6,64.8 132.96,64.02 130.37,62.97 127.82,61.66 125.33,60.1 122.91,58.29 120.57,56.23 118.31,53.94 116.16,51.43 114.11,48.71 112.18,45.78 110.37,42.66 108.69,39.37 107.15,35.91 105.76,32.31 104.51,28.57 103.42,24.71 102.49,20.75 101.73,16.7 101.13,12.59 100.7,8.42 100.44,4.22 100.35,0 100.44,-4.22 100.7,-8.42 101.13,-12.59 101.73,-16.7 102.49,-20.75 103.42,-24.71 104.51,-28.57 105.76,-32.31 107.15,-35.91 108.69,-39.37 110.37,-42.66 112.18,-45.78 114.11,-48.71 116.16,-51.43 118.31,-53.94 120.57,-56.23 122.91,-58.29 125.33,-60.1 127.82,-61.66 130.37,-62.97 132.96,-64.02 135.6,-64.8 138.26,-65.32 140.94,-65.56 143.62,-65.53 146.29,-65.23 148.95,-64.67 151.57,-63.83 154.16,-62.72" stroke-width="0.9" />
<ellipse cx="165" cy="0" rx="32.38" ry="51" stroke-width="1.0" />
<defs><clipPath id="bc3"><ellipse cx="164.9" cy="1" rx="21.59" ry="34"/></clipPath><clipPath id="bc4"><ellipse cx="162.1" cy="1" rx="18.54" ry="29.2"/></clipPath></defs>
<ellipse cx="165.8" cy="1" rx="26.8" ry="42.2" stroke-width="1.3" />
<ellipse cx="165.7" cy="1" rx="26.16" ry="41.2" stroke-width="1.0" />
<ellipse cx="165.4" cy="0.8" rx="24.13" ry="38" stroke-width="0.9" />
<ellipse cx="164.9" cy="1" rx="21.59" ry="34" stroke-width="1.4" />
<g clip-path="url(#bc3)"><ellipse cx="162.1" cy="1" rx="18.54" ry="29.2" stroke-width="1.5" /></g>
<g clip-path="url(#bc4)"><ellipse cx="159.9" cy="0" rx="16.19" ry="25.5" stroke-width="1.1" /></g>
</g>
<g fill="none" stroke="#1e1e1e" stroke-width="0.9">
<path d="M256.4,309.2 L269.7,313.4 M261.3,305.5 L272.1,310.4 M269.7,311 L273.3,310.2 L273.3,315.8 L269.7,315.6"/>
<path d="M246.1,323.7 L267.9,335.2 M240.7,333.3 L260.6,341.2 M245.5,325.5 Q248.5,330 247,333.5 M260.3,337.5 L266.7,336.5 L266.3,342 L260.6,342.4"/>
<path d="M238.5,345 Q244,352.5 254,352.8 Q268,350 276,339" stroke-width="1.6"/>
</g>
<g transform="translate(117.5,250.3) rotate(29.35)" fill="none" stroke="#1e1e1e" >
<path d="M146,0 L213,0" stroke="#2e2e2e" stroke-width="1.15" stroke-dasharray="15 2.6 3.5 2.6 3.5 2.6"/>
<path d="M247,0 L251,0 M254,0 L258,0 M277,0 L280.5,0 M283.5,0 L287,0 M290,0 L293.5,0" stroke="#2e2e2e" stroke-width="1.15"/>
<path d="M215.5,11.2 213.66,10.82 211.94,9.7 210.47,7.92 209.34,5.6 208.63,2.9 208.39,0 208.63,-2.9 209.34,-5.6 210.47,-7.92 211.94,-9.7 213.66,-10.82 215.5,-11.2 244,-9.2 244,-9.2 245.51,-8.89 246.92,-7.97 248.13,-6.51 249.06,-4.6 249.64,-2.38 249.84,0 249.64,2.38 249.06,4.6 248.13,6.51 246.92,7.97 245.51,8.89 244,9.2 215.5,11.2Z" fill="#fff" stroke-width="1.3"/>
<path d="M223.19,0 223.19,0.1 223.19,0.19 223.19,0.29 223.2,0.39 223.2,0.49 223.2,0.58 223.2,0.68 223.2,0.78 223.2,0.88 223.2,0.97 223.2,1.07 223.19,1.17 223.19,1.26 223.19,1.36 223.18,1.46 223.18,1.55 223.18,1.65 223.17,1.74 223.16,1.84 223.16,1.94 223.15,2.03 223.14,2.13 223.13,2.22 223.13,2.32 223.12,2.41 223.11,2.51 223.1,2.6 223.09,2.7 223.08,2.79 223.06,2.89 223.05,2.98 223.04,3.07 223.03,3.17 223.01,3.26 223,3.35 222.98,3.44 222.97,3.54 222.95,3.63 222.93,3.72 222.92,3.81 222.9,3.9 222.88,3.99 222.86,4.08 222.85,4.18 222.83,4.26 222.81,4.35 222.79,4.44 222.76,4.53 222.74,4.62 222.72,4.71 222.7,4.8 222.68,4.88 222.65,4.97 222.63,5.06 222.6,5.14 222.58,5.23 222.55,5.32 222.53,5.4 222.5,5.49 222.48,5.57 222.45,5.65 222.42,5.74 222.39,5.82 222.37,5.9 222.34,5.98 222.31,6.07 222.28,6.15 222.25,6.23 222.22,6.31 222.18,6.39 222.15,6.47 222.12,6.55 222.09,6.62 222.06,6.7 222.02,6.78 221.99,6.86 221.95,6.93 221.92,7.01 221.89,7.08 221.85,7.16 221.81,7.23 221.78,7.3 221.74,7.38 221.7,7.45 221.67,7.52 221.63,7.59 221.59,7.66 221.55,7.73 221.51,7.8 221.47,7.87 221.43,7.94 221.39,8.01 221.35,8.07 221.31,8.14 221.27,8.21 221.23,8.27 221.19,8.34 221.14,8.4 221.1,8.46 221.06,8.53 221.02,8.59 220.97,8.65 220.93,8.71 220.88,8.77 220.84,8.83 220.79,8.89 220.75,8.94 220.7,9 220.66,9.06 220.61,9.11 220.56,9.17 220.52,9.22 220.47,9.28 220.42,9.33 220.37,9.38 220.33,9.43 220.28,9.48 220.23,9.53 220.18,9.58 220.13,9.63 220.08,9.68 220.03,9.73 219.98,9.77 219.93,9.82 219.88,9.86 219.83,9.91 219.78,9.95 219.73,10 219.68,10.04 219.63,10.08 219.57,10.12 219.52,10.16 219.47,10.2 219.42,10.23 219.36,10.27 219.31,10.31 219.26,10.34 219.2,10.38 219.15,10.41 219.1,10.45 219.04,10.48 218.99,10.51 218.94,10.54 218.88,10.57 218.83,10.6 218.77,10.63 218.72,10.66 218.66,10.68 218.61,10.71 218.55,10.74 218.5,10.76 218.44,10.78 218.38,10.81 218.33,10.83 218.27,10.85 218.22,10.87 218.16,10.89 218.1,10.91 218.05,10.93 217.99,10.94 217.94,10.96 217.88,10.97 217.82,10.99 217.77,11 217.71,11.01 217.65,11.03 217.59,11.04 217.54,11.05 217.48,11.06 217.42,11.07 217.37,11.07 217.31,11.08 217.25,11.09 217.19,11.09 217.14,11.1 217.08,11.1 217.02,11.1 216.96,11.1 216.91,11.11 216.85,11.11 216.79,11.1 216.74,11.1" stroke-width="0.9" stroke="#3a3a3a"/><path d="M218.22,-11 218.28,-11 218.35,-11 218.42,-11 218.48,-11 218.55,-11 218.61,-10.99 218.68,-10.99 218.74,-10.98 218.81,-10.98 218.87,-10.97 218.94,-10.96 219,-10.96 219.07,-10.95 219.13,-10.94 219.19,-10.93 219.26,-10.91 219.32,-10.9 219.39,-10.89 219.45,-10.87 219.52,-10.86 219.58,-10.84 219.65,-10.83 219.71,-10.81 219.77,-10.79 219.84,-10.77 219.9,-10.75 219.96,-10.73 220.03,-10.71 220.09,-10.69 220.16,-10.67 220.22,-10.64 220.28,-10.62 220.34,-10.59 220.41,-10.56 220.47,-10.54 220.53,-10.51 220.59,-10.48 220.66,-10.45 220.72,-10.42 220.78,-10.39 220.84,-10.36 220.9,-10.33 220.96,-10.29 221.03,-10.26 221.09,-10.22 221.15,-10.19 221.21,-10.15 221.27,-10.11 221.33,-10.08 221.39,-10.04 221.45,-10 221.51,-9.96 221.57,-9.91 221.62,-9.87 221.68,-9.83 221.74,-9.79 221.8,-9.74 221.86,-9.7 221.92,-9.65 221.97,-9.61 222.03,-9.56 222.09,-9.51 222.14,-9.46 222.2,-9.41 222.26,-9.36 222.31,-9.31 222.37,-9.26 222.42,-9.21 222.48,-9.16 222.53,-9.1 222.59,-9.05 222.64,-8.99 222.69,-8.94 222.75,-8.88 222.8,-8.83 222.85,-8.77 222.91,-8.71 222.96,-8.65 223.01,-8.59 223.06,-8.53 223.11,-8.47 223.16,-8.41 223.21,-8.35 223.26,-8.28 223.31,-8.22 223.36,-8.16 223.41,-8.09 223.46,-8.03 223.51,-7.96 223.56,-7.89 223.61,-7.83 223.65,-7.76 223.7,-7.69 223.75,-7.62 223.79,-7.55 223.84,-7.48 223.88,-7.41 223.93,-7.34 223.97,-7.27 224.02,-7.2 224.06,-7.13 224.1,-7.05 224.15,-6.98 224.19,-6.9 224.23,-6.83 224.27,-6.75 224.31,-6.68 224.35,-6.6 224.39,-6.52 224.43,-6.45 224.47,-6.37 224.51,-6.29 224.55,-6.21 224.59,-6.13 224.63,-6.05 224.67,-5.97 224.7,-5.89 224.74,-5.81 224.77,-5.73 224.81,-5.65 224.85,-5.57 224.88,-5.48 224.91,-5.4 224.95,-5.32 224.98,-5.23 225.01,-5.15 225.05,-5.06 225.08,-4.98 225.11,-4.89 225.14,-4.81 225.17,-4.72 225.2,-4.63 225.23,-4.55 225.26,-4.46 225.29,-4.37 225.32,-4.28 225.34,-4.19 225.37,-4.11 225.4,-4.02 225.42,-3.93 225.45,-3.84 225.47,-3.75 225.5,-3.66 225.52,-3.57 225.54,-3.48 225.57,-3.39 225.59,-3.3 225.61,-3.2 225.63,-3.11 225.65,-3.02 225.68,-2.93 225.7,-2.84 225.71,-2.74 225.73,-2.65 225.75,-2.56 225.77,-2.46 225.79,-2.37 225.8,-2.28 225.82,-2.18 225.84,-2.09 225.85,-2 225.87,-1.9 225.88,-1.81 225.89,-1.71 225.91,-1.62 225.92,-1.52 225.93,-1.43 225.94,-1.33 225.96,-1.24 225.97,-1.14 225.98,-1.05 225.99,-0.95 225.99,-0.86 226,-0.76 226.01,-0.67 226.02,-0.57 226.03,-0.48 226.03,-0.38 226.04,-0.29 226.04,-0.19 226.05,-0.1 226.05,-0 226.06,0.1 226.06,0.19 226.06,0.29 226.06,0.38 226.06,0.48 226.07,0.57 226.07,0.67 226.07,0.76 226.07,0.86 226.06,0.95 226.06,1.05 226.06,1.14 226.06,1.24 226.06,1.33 226.05,1.43 226.05,1.52 226.04,1.62 226.04,1.71 226.03,1.81 226.03,1.9 226.02,1.99 226.01,2.09 226,2.18 226,2.27 225.99,2.37 225.98,2.46 225.97,2.55 225.96,2.65 225.95,2.74 225.93,2.83 225.92,2.92 225.91,3.01 225.9,3.11 225.88,3.2 225.87,3.29 225.85,3.38 225.84,3.47 225.82,3.56 225.81,3.65 225.79,3.74 225.78,3.83 225.76,3.92 225.74,4.01 225.72,4.1 225.7,4.18 225.68,4.27 225.66,4.36 225.64,4.45 225.62,4.53 225.6,4.62 225.58,4.71 225.56,4.79 225.53,4.88 225.51,4.96 225.49,5.05 225.46,5.13 225.44,5.22 225.41,5.3 225.39,5.38 225.36,5.46 225.33,5.55 225.31,5.63 225.28,5.71 225.25,5.79 225.22,5.87 225.19,5.95 225.17,6.03 225.14,6.11 225.11,6.19 225.08,6.27 225.04,6.35 225.01,6.42 224.98,6.5 224.95,6.58 224.92,6.65 224.88,6.73 224.85,6.8 224.82,6.88 224.78,6.95 224.75,7.02 224.71,7.09 224.68,7.17 224.64,7.24 224.6,7.31 224.57,7.38 224.53,7.45 224.49,7.52 224.46,7.59 224.42,7.65 224.38,7.72 224.34,7.79 224.3,7.86 224.26,7.92 224.22,7.99 224.18,8.05 224.14,8.11 224.1,8.18 224.06,8.24 224.02,8.3 223.97,8.36 223.93,8.42 223.89,8.48 223.84,8.54 223.8,8.6 223.76,8.66 223.71,8.72 223.67,8.77 223.62,8.83 223.58,8.89 223.53,8.94 223.49,9 223.44,9.05 223.4,9.1 223.35,9.15 223.3,9.2 223.26,9.26 223.21,9.3 223.16,9.35 223.11,9.4 223.06,9.45 223.02,9.5 222.97,9.54 222.92,9.59 222.87,9.63 222.82,9.68 222.77,9.72 222.72,9.76 222.67,9.81 222.62,9.85 222.57,9.89 222.52,9.93 222.47,9.97 222.42,10 222.36,10.04 222.31,10.08 222.26,10.11 222.21,10.15 222.16,10.18 222.1,10.22 222.05,10.25 222,10.28 221.95,10.31 221.89,10.34 221.84,10.37 221.79,10.4 221.73,10.43 221.68,10.46 221.63,10.48 221.57,10.51 221.52,10.53 221.46,10.56 221.41,10.58 221.35,10.6 221.3,10.62 221.24,10.64 221.19,10.66 221.13,10.68 221.08,10.7 221.02,10.72 220.97,10.73 220.91,10.75 220.86,10.77 220.8,10.78 220.75,10.79 220.69,10.81 220.64,10.82 220.58,10.83 220.52,10.84 220.47,10.85 220.41,10.86 220.36,10.86 220.3,10.87 220.24,10.88 220.19,10.88 220.13,10.89 220.07,10.89 220.02,10.89 219.96,10.89 219.91,10.89 219.85,10.89 219.79,10.89 219.74,10.89" stroke-width="0.9" stroke="#3a3a3a"/><path d="M221.22,-10.79 221.29,-10.79 221.35,-10.79 221.41,-10.79 221.48,-10.79 221.54,-10.78 221.61,-10.78 221.67,-10.78 221.73,-10.77 221.8,-10.77 221.86,-10.76 221.92,-10.75 221.99,-10.75 222.05,-10.74 222.12,-10.73 222.18,-10.72 222.24,-10.7 222.31,-10.69 222.37,-10.68 222.43,-10.67 222.5,-10.65 222.56,-10.64 222.62,-10.62 222.69,-10.6 222.75,-10.58 222.81,-10.57 222.87,-10.55 222.94,-10.53 223,-10.51 223.06,-10.48 223.12,-10.46 223.18,-10.44 223.25,-10.41 223.31,-10.39 223.37,-10.36 223.43,-10.34 223.49,-10.31 223.55,-10.28 223.62,-10.25 223.68,-10.22 223.74,-10.19 223.8,-10.16 223.86,-10.13 223.92,-10.09 223.98,-10.06 224.04,-10.03 224.1,-9.99 224.16,-9.96 224.22,-9.92 224.27,-9.88 224.33,-9.84 224.39,-9.8 224.45,-9.77 224.51,-9.72 224.57,-9.68 224.62,-9.64 224.68,-9.6 224.74,-9.56 224.79,-9.51 224.85,-9.47 224.91,-9.42 224.96,-9.38 225.02,-9.33 225.08,-9.28 225.13,-9.23 225.19,-9.18 225.24,-9.13 225.3,-9.08 225.35,-9.03 225.4,-8.98 225.46,-8.93 225.51,-8.88 225.56,-8.82 225.62,-8.77 225.67,-8.71 225.72,-8.66 225.77,-8.6 225.82,-8.54 225.88,-8.48 225.93,-8.43 225.98,-8.37 226.03,-8.31 226.08,-8.25 226.13,-8.19 226.18,-8.12 226.23,-8.06 226.27,-8 226.32,-7.94 226.37,-7.87 226.42,-7.81 226.46,-7.74 226.51,-7.68 226.56,-7.61 226.6,-7.54 226.65,-7.48 226.69,-7.41 226.74,-7.34 226.78,-7.27 226.83,-7.2 226.87,-7.13 226.92,-7.06 226.96,-6.99 227,-6.92 227.04,-6.84 227.08,-6.77 227.13,-6.7 227.17,-6.62 227.21,-6.55 227.25,-6.47 227.29,-6.4 227.33,-6.32 227.37,-6.25 227.4,-6.17 227.44,-6.09 227.48,-6.02 227.52,-5.94 227.55,-5.86 227.59,-5.78 227.63,-5.7 227.66,-5.62 227.7,-5.54 227.73,-5.46 227.76,-5.38 227.8,-5.3 227.83,-5.21 227.86,-5.13 227.9,-5.05 227.93,-4.97 227.96,-4.88 227.99,-4.8 228.02,-4.71 228.05,-4.63 228.08,-4.54 228.11,-4.46 228.14,-4.37 228.16,-4.29 228.19,-4.2 228.22,-4.11 228.25,-4.03 228.27,-3.94 228.3,-3.85 228.32,-3.76 228.35,-3.68 228.37,-3.59 228.39,-3.5 228.42,-3.41 228.44,-3.32 228.46,-3.23 228.48,-3.14 228.51,-3.05 228.53,-2.96 228.55,-2.87 228.57,-2.78 228.59,-2.69 228.6,-2.6 228.62,-2.51 228.64,-2.42 228.66,-2.33 228.67,-2.23 228.69,-2.14 228.7,-2.05 228.72,-1.96 228.73,-1.87 228.75,-1.77 228.76,-1.68 228.78,-1.59 228.79,-1.49 228.8,-1.4 228.81,-1.31 228.82,-1.22 228.83,-1.12 228.84,-1.03 228.85,-0.94 228.86,-0.84 228.87,-0.75 228.88,-0.66 228.88,-0.56 228.89,-0.47 228.9,-0.37 228.9,-0.28 228.91,-0.19 228.91,-0.09 228.92,-0 228.92,0.09 228.92,0.19 228.93,0.28 228.93,0.37 228.93,0.47 228.93,0.56 228.93,0.66 228.93,0.75 228.93,0.84 228.93,0.94 228.93,1.03 228.93,1.12 228.93,1.22 228.92,1.31 228.92,1.4 228.92,1.49 228.91,1.59 228.91,1.68 228.9,1.77 228.89,1.86 228.89,1.96 228.88,2.05 228.87,2.14 228.86,2.23 228.86,2.32 228.85,2.41 228.84,2.5 228.83,2.6 228.82,2.69 228.81,2.78 228.79,2.87 228.78,2.96 228.77,3.05 228.76,3.14 228.74,3.23 228.73,3.31 228.71,3.4 228.7,3.49 228.68,3.58 228.67,3.67 228.65,3.76 228.63,3.84 228.62,3.93 228.6,4.02 228.58,4.1 228.56,4.19 228.54,4.28 228.52,4.36 228.5,4.45 228.48,4.53 228.46,4.62 228.44,4.7 228.41,4.78 228.39,4.87 228.37,4.95 228.34,5.03 228.32,5.12 228.3,5.2 228.27,5.28 228.24,5.36 228.22,5.44 228.19,5.52 228.17,5.6 228.14,5.68 228.11,5.76 228.08,5.84 228.05,5.92 228.03,5.99 228,6.07 227.97,6.15 227.94,6.22 227.9,6.3 227.87,6.37 227.84,6.45 227.81,6.52 227.78,6.6 227.75,6.67 227.71,6.74 227.68,6.81 227.64,6.89 227.61,6.96 227.58,7.03 227.54,7.1 227.51,7.17 227.47,7.24 227.43,7.31 227.4,7.37 227.36,7.44 227.32,7.51 227.28,7.57 227.25,7.64 227.21,7.7 227.17,7.77 227.13,7.83 227.09,7.9 227.05,7.96 227.01,8.02 226.97,8.08 226.93,8.14 226.89,8.2 226.85,8.26 226.8,8.32 226.76,8.38 226.72,8.44 226.68,8.49 226.63,8.55 226.59,8.61 226.55,8.66 226.5,8.72 226.46,8.77 226.41,8.82 226.37,8.87 226.32,8.93 226.28,8.98 226.23,9.03 226.18,9.08 226.14,9.13 226.09,9.17 226.04,9.22 226,9.27 225.95,9.31 225.9,9.36 225.85,9.4 225.81,9.45 225.76,9.49 225.71,9.53 225.66,9.58 225.61,9.62 225.56,9.66 225.51,9.7 225.46,9.74 225.41,9.77 225.36,9.81 225.31,9.85 225.26,9.88 225.21,9.92 225.16,9.95 225.11,9.99 225.06,10.02 225.01,10.05 224.95,10.08 224.9,10.11 224.85,10.14 224.8,10.17 224.75,10.2 224.69,10.23 224.64,10.25 224.59,10.28 224.54,10.3 224.48,10.33 224.43,10.35 224.38,10.37 224.32,10.4 224.27,10.42 224.22,10.44 224.16,10.46 224.11,10.48 224.05,10.49 224,10.51 223.95,10.53 223.89,10.54 223.84,10.56 223.78,10.57 223.73,10.58 223.67,10.6 223.62,10.61 223.56,10.62 223.51,10.63 223.45,10.64 223.4,10.65 223.34,10.65 223.29,10.66 223.24,10.67 223.18,10.67 223.13,10.68 223.07,10.68 223.02,10.68 222.96,10.68 222.91,10.68 222.85,10.68 222.79,10.68 222.74,10.68" stroke-width="0.9" stroke="#3a3a3a"/><path d="M224.22,-10.58 224.29,-10.58 224.35,-10.58 224.41,-10.58 224.48,-10.58 224.54,-10.57 224.6,-10.57 224.66,-10.57 224.73,-10.56 224.79,-10.56 224.85,-10.55 224.91,-10.54 224.98,-10.54 225.04,-10.53 225.1,-10.52 225.16,-10.51 225.23,-10.5 225.29,-10.48 225.35,-10.47 225.41,-10.46 225.48,-10.44 225.54,-10.43 225.6,-10.41 225.66,-10.4 225.72,-10.38 225.78,-10.36 225.85,-10.34 225.91,-10.32 225.97,-10.3 226.03,-10.28 226.09,-10.26 226.15,-10.23 226.21,-10.21 226.27,-10.19 226.33,-10.16 226.39,-10.13 226.45,-10.11 226.51,-10.08 226.57,-10.05 226.63,-10.02 226.69,-9.99 226.75,-9.96 226.81,-9.93 226.87,-9.9 226.93,-9.86 226.99,-9.83 227.05,-9.8 227.11,-9.76 227.16,-9.73 227.22,-9.69 227.28,-9.65 227.34,-9.61 227.39,-9.57 227.45,-9.53 227.51,-9.49 227.56,-9.45 227.62,-9.41 227.68,-9.37 227.73,-9.33 227.79,-9.28 227.84,-9.24 227.9,-9.19 227.95,-9.15 228.01,-9.1 228.06,-9.05 228.12,-9 228.17,-8.96 228.22,-8.91 228.28,-8.86 228.33,-8.81 228.38,-8.75 228.44,-8.7 228.49,-8.65 228.54,-8.6 228.59,-8.54 228.64,-8.49 228.69,-8.43 228.74,-8.38 228.79,-8.32 228.84,-8.26 228.89,-8.2 228.94,-8.15 228.99,-8.09 229.04,-8.03 229.09,-7.97 229.14,-7.9 229.18,-7.84 229.23,-7.78 229.28,-7.72 229.33,-7.66 229.37,-7.59 229.42,-7.53 229.46,-7.46 229.51,-7.4 229.55,-7.33 229.6,-7.26 229.64,-7.2 229.69,-7.13 229.73,-7.06 229.77,-6.99 229.81,-6.92 229.86,-6.85 229.9,-6.78 229.94,-6.71 229.98,-6.64 230.02,-6.57 230.06,-6.49 230.1,-6.42 230.14,-6.35 230.18,-6.27 230.22,-6.2 230.26,-6.12 230.29,-6.05 230.33,-5.97 230.37,-5.9 230.41,-5.82 230.44,-5.74 230.48,-5.67 230.51,-5.59 230.55,-5.51 230.58,-5.43 230.61,-5.35 230.65,-5.27 230.68,-5.19 230.71,-5.11 230.75,-5.03 230.78,-4.95 230.81,-4.87 230.84,-4.79 230.87,-4.7 230.9,-4.62 230.93,-4.54 230.96,-4.45 230.99,-4.37 231.01,-4.29 231.04,-4.2 231.07,-4.12 231.1,-4.03 231.12,-3.95 231.15,-3.86 231.17,-3.78 231.2,-3.69 231.22,-3.6 231.25,-3.52 231.27,-3.43 231.29,-3.34 231.31,-3.26 231.34,-3.17 231.36,-3.08 231.38,-2.99 231.4,-2.9 231.42,-2.82 231.44,-2.73 231.46,-2.64 231.47,-2.55 231.49,-2.46 231.51,-2.37 231.53,-2.28 231.54,-2.19 231.56,-2.1 231.57,-2.01 231.59,-1.92 231.6,-1.83 231.62,-1.74 231.63,-1.65 231.64,-1.56 231.66,-1.47 231.67,-1.37 231.68,-1.28 231.69,-1.19 231.7,-1.1 231.71,-1.01 231.72,-0.92 231.73,-0.83 231.74,-0.73 231.74,-0.64 231.75,-0.55 231.76,-0.46 231.76,-0.37 231.77,-0.28 231.78,-0.18 231.78,-0.09 231.78,-0 231.79,0.09 231.79,0.18 231.79,0.28 231.8,0.37 231.8,0.46 231.8,0.55 231.8,0.64 231.8,0.73 231.8,0.83 231.8,0.92 231.8,1.01 231.8,1.1 231.79,1.19 231.79,1.28 231.79,1.37 231.78,1.46 231.78,1.56 231.77,1.65 231.77,1.74 231.76,1.83 231.76,1.92 231.75,2.01 231.74,2.1 231.73,2.19 231.73,2.28 231.72,2.37 231.71,2.46 231.7,2.54 231.69,2.63 231.68,2.72 231.66,2.81 231.65,2.9 231.64,2.99 231.63,3.07 231.61,3.16 231.6,3.25 231.59,3.34 231.57,3.42 231.56,3.51 231.54,3.6 231.52,3.68 231.51,3.77 231.49,3.85 231.47,3.94 231.46,4.02 231.44,4.11 231.42,4.19 231.4,4.28 231.38,4.36 231.36,4.44 231.34,4.53 231.32,4.61 231.29,4.69 231.27,4.77 231.25,4.85 231.23,4.93 231.2,5.01 231.18,5.1 231.15,5.17 231.13,5.25 231.1,5.33 231.08,5.41 231.05,5.49 231.03,5.57 231,5.65 230.97,5.72 230.94,5.8 230.91,5.88 230.89,5.95 230.86,6.03 230.83,6.1 230.8,6.17 230.77,6.25 230.74,6.32 230.7,6.39 230.67,6.47 230.64,6.54 230.61,6.61 230.58,6.68 230.54,6.75 230.51,6.82 230.47,6.89 230.44,6.96 230.41,7.03 230.37,7.09 230.34,7.16 230.3,7.23 230.26,7.29 230.23,7.36 230.19,7.42 230.15,7.49 230.11,7.55 230.08,7.62 230.04,7.68 230,7.74 229.96,7.8 229.92,7.86 229.88,7.92 229.84,7.98 229.8,8.04 229.76,8.1 229.72,8.16 229.68,8.21 229.64,8.27 229.59,8.33 229.55,8.38 229.51,8.44 229.47,8.49 229.42,8.54 229.38,8.6 229.34,8.65 229.29,8.7 229.25,8.75 229.2,8.8 229.16,8.85 229.11,8.9 229.07,8.95 229.02,8.99 228.98,9.04 228.93,9.09 228.88,9.13 228.84,9.18 228.79,9.22 228.74,9.26 228.7,9.3 228.65,9.35 228.6,9.39 228.55,9.43 228.5,9.47 228.46,9.51 228.41,9.54 228.36,9.58 228.31,9.62 228.26,9.65 228.21,9.69 228.16,9.72 228.11,9.76 228.06,9.79 228.01,9.82 227.96,9.85 227.91,9.88 227.86,9.91 227.81,9.94 227.76,9.97 227.71,10 227.65,10.03 227.6,10.05 227.55,10.08 227.5,10.1 227.45,10.13 227.4,10.15 227.34,10.17 227.29,10.19 227.24,10.21 227.19,10.23 227.13,10.25 227.08,10.27 227.03,10.29 226.98,10.3 226.92,10.32 226.87,10.34 226.82,10.35 226.76,10.36 226.71,10.38 226.66,10.39 226.6,10.4 226.55,10.41 226.5,10.42 226.44,10.43 226.39,10.44 226.33,10.44 226.28,10.45 226.23,10.46 226.17,10.46 226.12,10.47 226.07,10.47 226.01,10.47 225.96,10.47 225.9,10.47 225.85,10.47 225.8,10.47 225.74,10.47" stroke-width="0.9" stroke="#3a3a3a"/><path d="M227.23,-10.37 227.29,-10.37 227.35,-10.37 227.41,-10.37 227.47,-10.37 227.53,-10.36 227.6,-10.36 227.66,-10.36 227.72,-10.35 227.78,-10.35 227.84,-10.34 227.9,-10.33 227.97,-10.33 228.03,-10.32 228.09,-10.31 228.15,-10.3 228.21,-10.29 228.27,-10.28 228.33,-10.26 228.39,-10.25 228.45,-10.24 228.52,-10.22 228.58,-10.21 228.64,-10.19 228.7,-10.17 228.76,-10.15 228.82,-10.13 228.88,-10.12 228.94,-10.1 229,-10.07 229.06,-10.05 229.12,-10.03 229.18,-10.01 229.24,-9.98 229.3,-9.96 229.36,-9.93 229.41,-9.91 229.47,-9.88 229.53,-9.85 229.59,-9.82 229.65,-9.79 229.71,-9.76 229.77,-9.73 229.82,-9.7 229.88,-9.67 229.94,-9.64 230,-9.6 230.05,-9.57 230.11,-9.53 230.17,-9.5 230.22,-9.46 230.28,-9.42 230.34,-9.38 230.39,-9.34 230.45,-9.31 230.5,-9.27 230.56,-9.22 230.61,-9.18 230.67,-9.14 230.72,-9.1 230.78,-9.05 230.83,-9.01 230.89,-8.96 230.94,-8.92 230.99,-8.87 231.05,-8.82 231.1,-8.78 231.15,-8.73 231.2,-8.68 231.26,-8.63 231.31,-8.58 231.36,-8.53 231.41,-8.48 231.46,-8.42 231.51,-8.37 231.56,-8.32 231.61,-8.26 231.66,-8.21 231.71,-8.15 231.76,-8.1 231.81,-8.04 231.86,-7.98 231.91,-7.92 231.95,-7.87 232,-7.81 232.05,-7.75 232.1,-7.69 232.14,-7.63 232.19,-7.56 232.23,-7.5 232.28,-7.44 232.32,-7.38 232.37,-7.31 232.41,-7.25 232.46,-7.18 232.5,-7.12 232.54,-7.05 232.59,-6.99 232.63,-6.92 232.67,-6.85 232.71,-6.78 232.75,-6.71 232.8,-6.65 232.84,-6.58 232.88,-6.51 232.92,-6.44 232.96,-6.36 233,-6.29 233.03,-6.22 233.07,-6.15 233.11,-6.08 233.15,-6 233.18,-5.93 233.22,-5.85 233.26,-5.78 233.29,-5.7 233.33,-5.63 233.36,-5.55 233.4,-5.48 233.43,-5.4 233.47,-5.32 233.5,-5.24 233.53,-5.17 233.56,-5.09 233.6,-5.01 233.63,-4.93 233.66,-4.85 233.69,-4.77 233.72,-4.69 233.75,-4.61 233.78,-4.53 233.81,-4.45 233.84,-4.37 233.86,-4.28 233.89,-4.2 233.92,-4.12 233.95,-4.04 233.97,-3.95 234,-3.87 234.02,-3.79 234.05,-3.7 234.07,-3.62 234.1,-3.53 234.12,-3.45 234.14,-3.36 234.16,-3.28 234.19,-3.19 234.21,-3.11 234.23,-3.02 234.25,-2.93 234.27,-2.85 234.29,-2.76 234.31,-2.67 234.33,-2.58 234.34,-2.5 234.36,-2.41 234.38,-2.32 234.4,-2.23 234.41,-2.15 234.43,-2.06 234.44,-1.97 234.46,-1.88 234.47,-1.79 234.49,-1.7 234.5,-1.61 234.51,-1.53 234.52,-1.44 234.53,-1.35 234.55,-1.26 234.56,-1.17 234.57,-1.08 234.58,-0.99 234.59,-0.9 234.59,-0.81 234.6,-0.72 234.61,-0.63 234.62,-0.54 234.62,-0.45 234.63,-0.36 234.64,-0.27 234.64,-0.18 234.65,-0.09 234.65,-0 234.65,0.09 234.66,0.18 234.66,0.27 234.66,0.36 234.66,0.45 234.67,0.54 234.67,0.63 234.67,0.72 234.67,0.81 234.67,0.9 234.66,0.99 234.66,1.08 234.66,1.17 234.66,1.26 234.65,1.35 234.65,1.44 234.65,1.52 234.64,1.61 234.64,1.7 234.63,1.79 234.62,1.88 234.62,1.97 234.61,2.06 234.6,2.14 234.59,2.23 234.59,2.32 234.58,2.41 234.57,2.49 234.56,2.58 234.55,2.67 234.54,2.75 234.52,2.84 234.51,2.93 234.5,3.01 234.49,3.1 234.47,3.18 234.46,3.27 234.45,3.35 234.43,3.44 234.42,3.52 234.4,3.61 234.38,3.69 234.37,3.78 234.35,3.86 234.33,3.94 234.31,4.03 234.3,4.11 234.28,4.19 234.26,4.27 234.24,4.35 234.22,4.43 234.2,4.52 234.17,4.6 234.15,4.68 234.13,4.76 234.11,4.84 234.08,4.91 234.06,4.99 234.04,5.07 234.01,5.15 233.99,5.23 233.96,5.3 233.94,5.38 233.91,5.46 233.89,5.53 233.86,5.61 233.83,5.68 233.8,5.76 233.78,5.83 233.75,5.91 233.72,5.98 233.69,6.05 233.66,6.12 233.63,6.2 233.6,6.27 233.57,6.34 233.54,6.41 233.5,6.48 233.47,6.55 233.44,6.62 233.41,6.68 233.37,6.75 233.34,6.82 233.31,6.89 233.27,6.95 233.24,7.02 233.2,7.08 233.17,7.15 233.13,7.21 233.1,7.28 233.06,7.34 233.02,7.4 232.98,7.46 232.95,7.52 232.91,7.59 232.87,7.65 232.83,7.7 232.79,7.76 232.75,7.82 232.72,7.88 232.68,7.94 232.64,7.99 232.6,8.05 232.55,8.1 232.51,8.16 232.47,8.21 232.43,8.27 232.39,8.32 232.35,8.37 232.3,8.42 232.26,8.47 232.22,8.53 232.17,8.57 232.13,8.62 232.09,8.67 232.04,8.72 232,8.77 231.95,8.81 231.91,8.86 231.86,8.9 231.82,8.95 231.77,8.99 231.73,9.03 231.68,9.08 231.63,9.12 231.59,9.16 231.54,9.2 231.49,9.24 231.45,9.28 231.4,9.31 231.35,9.35 231.3,9.39 231.26,9.42 231.21,9.46 231.16,9.49 231.11,9.53 231.06,9.56 231.01,9.59 230.96,9.62 230.91,9.66 230.87,9.69 230.82,9.71 230.77,9.74 230.72,9.77 230.67,9.8 230.62,9.82 230.57,9.85 230.51,9.87 230.46,9.9 230.41,9.92 230.36,9.94 230.31,9.97 230.26,9.99 230.21,10.01 230.16,10.03 230.11,10.05 230.05,10.06 230,10.08 229.95,10.1 229.9,10.11 229.85,10.13 229.8,10.14 229.74,10.16 229.69,10.17 229.64,10.18 229.59,10.19 229.53,10.2 229.48,10.21 229.43,10.22 229.38,10.23 229.32,10.23 229.27,10.24 229.22,10.25 229.17,10.25 229.11,10.25 229.06,10.26 229.01,10.26 228.96,10.26 228.9,10.26 228.85,10.26 228.8,10.26 228.74,10.26" stroke-width="0.9" stroke="#3a3a3a"/><path d="M230.23,-10.16 230.29,-10.16 230.35,-10.16 230.41,-10.16 230.47,-10.16 230.53,-10.15 230.59,-10.15 230.65,-10.15 230.71,-10.14 230.77,-10.14 230.83,-10.13 230.89,-10.12 230.95,-10.12 231.01,-10.11 231.07,-10.1 231.13,-10.09 231.19,-10.08 231.25,-10.07 231.31,-10.05 231.37,-10.04 231.43,-10.03 231.49,-10.01 231.55,-10 231.61,-9.98 231.67,-9.96 231.73,-9.95 231.79,-9.93 231.85,-9.91 231.91,-9.89 231.97,-9.87 232.03,-9.85 232.08,-9.83 232.14,-9.8 232.2,-9.78 232.26,-9.76 232.32,-9.73 232.38,-9.7 232.43,-9.68 232.49,-9.65 232.55,-9.62 232.61,-9.59 232.66,-9.56 232.72,-9.53 232.78,-9.5 232.83,-9.47 232.89,-9.44 232.95,-9.41 233,-9.37 233.06,-9.34 233.11,-9.3 233.17,-9.27 233.23,-9.23 233.28,-9.19 233.34,-9.15 233.39,-9.12 233.44,-9.08 233.5,-9.04 233.55,-9 233.61,-8.95 233.66,-8.91 233.71,-8.87 233.77,-8.83 233.82,-8.78 233.87,-8.74 233.92,-8.69 233.98,-8.65 234.03,-8.6 234.08,-8.55 234.13,-8.5 234.18,-8.45 234.23,-8.4 234.28,-8.35 234.33,-8.3 234.38,-8.25 234.43,-8.2 234.48,-8.15 234.53,-8.1 234.58,-8.04 234.63,-7.99 234.68,-7.93 234.73,-7.88 234.77,-7.82 234.82,-7.76 234.87,-7.71 234.91,-7.65 234.96,-7.59 235.01,-7.53 235.05,-7.47 235.1,-7.41 235.14,-7.35 235.19,-7.29 235.23,-7.23 235.27,-7.16 235.32,-7.1 235.36,-7.04 235.4,-6.97 235.45,-6.91 235.49,-6.84 235.53,-6.78 235.57,-6.71 235.61,-6.65 235.65,-6.58 235.69,-6.51 235.73,-6.44 235.77,-6.37 235.81,-6.3 235.85,-6.24 235.89,-6.17 235.93,-6.09 235.96,-6.02 236,-5.95 236.04,-5.88 236.08,-5.81 236.11,-5.74 236.15,-5.66 236.18,-5.59 236.22,-5.51 236.25,-5.44 236.29,-5.36 236.32,-5.29 236.35,-5.21 236.38,-5.14 236.42,-5.06 236.45,-4.98 236.48,-4.91 236.51,-4.83 236.54,-4.75 236.57,-4.67 236.6,-4.59 236.63,-4.52 236.66,-4.44 236.69,-4.36 236.72,-4.28 236.74,-4.2 236.77,-4.12 236.8,-4.03 236.82,-3.95 236.85,-3.87 236.87,-3.79 236.9,-3.71 236.92,-3.63 236.95,-3.54 236.97,-3.46 236.99,-3.38 237.02,-3.29 237.04,-3.21 237.06,-3.13 237.08,-3.04 237.1,-2.96 237.12,-2.87 237.14,-2.79 237.16,-2.7 237.18,-2.62 237.2,-2.53 237.21,-2.45 237.23,-2.36 237.25,-2.27 237.27,-2.19 237.28,-2.1 237.3,-2.02 237.31,-1.93 237.33,-1.84 237.34,-1.76 237.35,-1.67 237.37,-1.58 237.38,-1.49 237.39,-1.41 237.4,-1.32 237.41,-1.23 237.42,-1.14 237.43,-1.06 237.44,-0.97 237.45,-0.88 237.46,-0.79 237.47,-0.71 237.48,-0.62 237.48,-0.53 237.49,-0.44 237.5,-0.35 237.5,-0.26 237.51,-0.18 237.51,-0.09 237.52,-0 237.52,0.09 237.52,0.18 237.53,0.26 237.53,0.35 237.53,0.44 237.53,0.53 237.53,0.62 237.53,0.7 237.53,0.79 237.53,0.88 237.53,0.97 237.53,1.06 237.53,1.14 237.52,1.23 237.52,1.32 237.52,1.41 237.51,1.49 237.51,1.58 237.5,1.67 237.5,1.75 237.49,1.84 237.49,1.93 237.48,2.01 237.47,2.1 237.46,2.19 237.46,2.27 237.45,2.36 237.44,2.44 237.43,2.53 237.42,2.61 237.41,2.7 237.4,2.78 237.38,2.87 237.37,2.95 237.36,3.04 237.35,3.12 237.33,3.2 237.32,3.29 237.3,3.37 237.29,3.45 237.27,3.53 237.26,3.62 237.24,3.7 237.23,3.78 237.21,3.86 237.19,3.94 237.17,4.02 237.15,4.1 237.13,4.18 237.12,4.26 237.1,4.34 237.08,4.42 237.05,4.5 237.03,4.58 237.01,4.66 236.99,4.74 236.97,4.81 236.94,4.89 236.92,4.97 236.9,5.04 236.87,5.12 236.85,5.2 236.82,5.27 236.8,5.35 236.77,5.42 236.75,5.49 236.72,5.57 236.69,5.64 236.67,5.71 236.64,5.78 236.61,5.86 236.58,5.93 236.55,6 236.52,6.07 236.49,6.14 236.46,6.21 236.43,6.28 236.4,6.35 236.37,6.41 236.34,6.48 236.31,6.55 236.27,6.61 236.24,6.68 236.21,6.75 236.17,6.81 236.14,6.87 236.11,6.94 236.07,7 236.04,7.06 236,7.13 235.96,7.19 235.93,7.25 235.89,7.31 235.86,7.37 235.82,7.43 235.78,7.49 235.74,7.55 235.71,7.6 235.67,7.66 235.63,7.72 235.59,7.77 235.55,7.83 235.51,7.88 235.47,7.94 235.43,7.99 235.39,8.05 235.35,8.1 235.31,8.15 235.27,8.2 235.23,8.25 235.19,8.3 235.14,8.35 235.1,8.4 235.06,8.45 235.02,8.49 234.97,8.54 234.93,8.59 234.89,8.63 234.84,8.68 234.8,8.72 234.75,8.76 234.71,8.81 234.66,8.85 234.62,8.89 234.57,8.93 234.53,8.97 234.48,9.01 234.44,9.05 234.39,9.09 234.34,9.12 234.3,9.16 234.25,9.2 234.2,9.23 234.16,9.27 234.11,9.3 234.06,9.33 234.01,9.36 233.97,9.4 233.92,9.43 233.87,9.46 233.82,9.49 233.77,9.52 233.72,9.54 233.67,9.57 233.63,9.6 233.58,9.62 233.53,9.65 233.48,9.67 233.43,9.7 233.38,9.72 233.33,9.74 233.28,9.76 233.23,9.78 233.18,9.8 233.13,9.82 233.08,9.84 233.03,9.86 232.98,9.87 232.93,9.89 232.88,9.91 232.82,9.92 232.77,9.93 232.72,9.95 232.67,9.96 232.62,9.97 232.57,9.98 232.52,9.99 232.47,10 232.42,10.01 232.36,10.02 232.31,10.02 232.26,10.03 232.21,10.04 232.16,10.04 232.11,10.04 232.06,10.05 232,10.05 231.95,10.05 231.9,10.05 231.85,10.05 231.8,10.05 231.75,10.05" stroke-width="0.9" stroke="#3a3a3a"/><path d="M233.23,-9.95 233.29,-9.95 233.35,-9.95 233.41,-9.95 233.47,-9.95 233.53,-9.94 233.59,-9.94 233.65,-9.94 233.71,-9.93 233.76,-9.93 233.82,-9.92 233.88,-9.91 233.94,-9.91 234,-9.9 234.06,-9.89 234.12,-9.88 234.18,-9.87 234.24,-9.86 234.3,-9.85 234.35,-9.83 234.41,-9.82 234.47,-9.81 234.53,-9.79 234.59,-9.77 234.65,-9.76 234.7,-9.74 234.76,-9.72 234.82,-9.7 234.88,-9.69 234.94,-9.66 234.99,-9.64 235.05,-9.62 235.11,-9.6 235.17,-9.58 235.22,-9.55 235.28,-9.53 235.34,-9.5 235.39,-9.48 235.45,-9.45 235.51,-9.42 235.56,-9.39 235.62,-9.37 235.67,-9.34 235.73,-9.31 235.79,-9.28 235.84,-9.24 235.9,-9.21 235.95,-9.18 236.01,-9.14 236.06,-9.11 236.12,-9.07 236.17,-9.04 236.22,-9 236.28,-8.96 236.33,-8.93 236.38,-8.89 236.44,-8.85 236.49,-8.81 236.54,-8.77 236.6,-8.73 236.65,-8.69 236.7,-8.64 236.75,-8.6 236.8,-8.56 236.86,-8.51 236.91,-8.47 236.96,-8.42 237.01,-8.37 237.06,-8.33 237.11,-8.28 237.16,-8.23 237.21,-8.18 237.26,-8.13 237.31,-8.08 237.35,-8.03 237.4,-7.98 237.45,-7.93 237.5,-7.87 237.55,-7.82 237.59,-7.77 237.64,-7.71 237.69,-7.66 237.73,-7.6 237.78,-7.55 237.83,-7.49 237.87,-7.43 237.92,-7.37 237.96,-7.32 238.01,-7.26 238.05,-7.2 238.09,-7.14 238.14,-7.08 238.18,-7.02 238.22,-6.95 238.26,-6.89 238.31,-6.83 238.35,-6.77 238.39,-6.7 238.43,-6.64 238.47,-6.57 238.51,-6.51 238.55,-6.44 238.59,-6.38 238.63,-6.31 238.67,-6.24 238.71,-6.17 238.75,-6.11 238.78,-6.04 238.82,-5.97 238.86,-5.9 238.89,-5.83 238.93,-5.76 238.97,-5.69 239,-5.62 239.04,-5.54 239.07,-5.47 239.1,-5.4 239.14,-5.33 239.17,-5.25 239.2,-5.18 239.24,-5.11 239.27,-5.03 239.3,-4.96 239.33,-4.88 239.36,-4.81 239.39,-4.73 239.42,-4.65 239.45,-4.58 239.48,-4.5 239.51,-4.42 239.54,-4.34 239.57,-4.27 239.59,-4.19 239.62,-4.11 239.65,-4.03 239.67,-3.95 239.7,-3.87 239.73,-3.79 239.75,-3.71 239.77,-3.63 239.8,-3.55 239.82,-3.47 239.84,-3.39 239.87,-3.31 239.89,-3.23 239.91,-3.14 239.93,-3.06 239.95,-2.98 239.97,-2.9 239.99,-2.81 240.01,-2.73 240.03,-2.65 240.05,-2.56 240.07,-2.48 240.08,-2.4 240.1,-2.31 240.12,-2.23 240.13,-2.14 240.15,-2.06 240.17,-1.97 240.18,-1.89 240.19,-1.8 240.21,-1.72 240.22,-1.63 240.23,-1.55 240.25,-1.46 240.26,-1.38 240.27,-1.29 240.28,-1.21 240.29,-1.12 240.3,-1.03 240.31,-0.95 240.32,-0.86 240.33,-0.78 240.34,-0.69 240.34,-0.6 240.35,-0.52 240.36,-0.43 240.36,-0.35 240.37,-0.26 240.37,-0.17 240.38,-0.09 240.38,-0 240.39,0.09 240.39,0.17 240.39,0.26 240.4,0.35 240.4,0.43 240.4,0.52 240.4,0.6 240.4,0.69 240.4,0.78 240.4,0.86 240.4,0.95 240.4,1.03 240.39,1.12 240.39,1.21 240.39,1.29 240.39,1.38 240.38,1.46 240.38,1.55 240.37,1.63 240.37,1.72 240.36,1.8 240.36,1.89 240.35,1.97 240.34,2.06 240.33,2.14 240.33,2.22 240.32,2.31 240.31,2.39 240.3,2.48 240.29,2.56 240.28,2.64 240.27,2.72 240.26,2.81 240.24,2.89 240.23,2.97 240.22,3.05 240.21,3.14 240.19,3.22 240.18,3.3 240.16,3.38 240.15,3.46 240.13,3.54 240.12,3.62 240.1,3.7 240.08,3.78 240.07,3.86 240.05,3.94 240.03,4.02 240.01,4.1 239.99,4.18 239.98,4.25 239.96,4.33 239.94,4.41 239.91,4.48 239.89,4.56 239.87,4.64 239.85,4.71 239.83,4.79 239.8,4.86 239.78,4.94 239.76,5.01 239.73,5.09 239.71,5.16 239.69,5.23 239.66,5.31 239.63,5.38 239.61,5.45 239.58,5.52 239.56,5.59 239.53,5.66 239.5,5.73 239.47,5.8 239.44,5.87 239.42,5.94 239.39,6.01 239.36,6.08 239.33,6.15 239.3,6.21 239.27,6.28 239.24,6.35 239.2,6.41 239.17,6.48 239.14,6.54 239.11,6.6 239.07,6.67 239.04,6.73 239.01,6.79 238.97,6.86 238.94,6.92 238.91,6.98 238.87,7.04 238.84,7.1 238.8,7.16 238.76,7.22 238.73,7.27 238.69,7.33 238.66,7.39 238.62,7.45 238.58,7.5 238.54,7.56 238.51,7.61 238.47,7.67 238.43,7.72 238.39,7.77 238.35,7.83 238.31,7.88 238.27,7.93 238.23,7.98 238.19,8.03 238.15,8.08 238.11,8.13 238.07,8.18 238.03,8.22 237.99,8.27 237.94,8.32 237.9,8.36 237.86,8.41 237.82,8.45 237.77,8.5 237.73,8.54 237.69,8.58 237.64,8.62 237.6,8.66 237.56,8.7 237.51,8.74 237.47,8.78 237.42,8.82 237.38,8.86 237.33,8.9 237.29,8.93 237.24,8.97 237.2,9 237.15,9.04 237.1,9.07 237.06,9.11 237.01,9.14 236.96,9.17 236.92,9.2 236.87,9.23 236.82,9.26 236.78,9.29 236.73,9.32 236.68,9.34 236.63,9.37 236.59,9.4 236.54,9.42 236.49,9.45 236.44,9.47 236.39,9.49 236.34,9.52 236.3,9.54 236.25,9.56 236.2,9.58 236.15,9.6 236.1,9.62 236.05,9.63 236,9.65 235.95,9.67 235.9,9.68 235.85,9.7 235.8,9.71 235.75,9.73 235.7,9.74 235.65,9.75 235.6,9.76 235.55,9.77 235.5,9.78 235.45,9.79 235.4,9.8 235.35,9.81 235.3,9.81 235.25,9.82 235.2,9.83 235.15,9.83 235.1,9.83 235.05,9.84 235,9.84 234.95,9.84 234.9,9.84 234.85,9.84 234.8,9.84 234.75,9.84" stroke-width="0.9" stroke="#3a3a3a"/><path d="M236.23,-9.74 236.29,-9.74 236.35,-9.74 236.41,-9.74 236.47,-9.73 236.52,-9.73 236.58,-9.73 236.64,-9.73 236.7,-9.72 236.76,-9.72 236.81,-9.71 236.87,-9.7 236.93,-9.7 236.99,-9.69 237.05,-9.68 237.1,-9.67 237.16,-9.66 237.22,-9.65 237.28,-9.64 237.33,-9.62 237.39,-9.61 237.45,-9.6 237.51,-9.58 237.56,-9.57 237.62,-9.55 237.68,-9.53 237.73,-9.52 237.79,-9.5 237.85,-9.48 237.9,-9.46 237.96,-9.44 238.02,-9.42 238.07,-9.4 238.13,-9.37 238.19,-9.35 238.24,-9.33 238.3,-9.3 238.35,-9.28 238.41,-9.25 238.46,-9.22 238.52,-9.2 238.57,-9.17 238.63,-9.14 238.68,-9.11 238.74,-9.08 238.79,-9.05 238.85,-9.02 238.9,-8.98 238.95,-8.95 239.01,-8.92 239.06,-8.88 239.11,-8.85 239.17,-8.81 239.22,-8.77 239.27,-8.74 239.33,-8.7 239.38,-8.66 239.43,-8.62 239.48,-8.58 239.53,-8.54 239.58,-8.5 239.64,-8.46 239.69,-8.42 239.74,-8.37 239.79,-8.33 239.84,-8.29 239.89,-8.24 239.94,-8.2 239.99,-8.15 240.03,-8.1 240.08,-8.06 240.13,-8.01 240.18,-7.96 240.23,-7.91 240.28,-7.86 240.32,-7.81 240.37,-7.76 240.42,-7.71 240.46,-7.66 240.51,-7.6 240.56,-7.55 240.6,-7.5 240.65,-7.44 240.69,-7.39 240.74,-7.33 240.78,-7.27 240.83,-7.22 240.87,-7.16 240.91,-7.1 240.96,-7.04 241,-6.99 241.04,-6.93 241.09,-6.87 241.13,-6.81 241.17,-6.75 241.21,-6.68 241.25,-6.62 241.29,-6.56 241.33,-6.5 241.37,-6.43 241.41,-6.37 241.45,-6.3 241.49,-6.24 241.53,-6.17 241.57,-6.11 241.6,-6.04 241.64,-5.98 241.68,-5.91 241.71,-5.84 241.75,-5.77 241.79,-5.7 241.82,-5.64 241.86,-5.57 241.89,-5.5 241.93,-5.43 241.96,-5.36 241.99,-5.28 242.03,-5.21 242.06,-5.14 242.09,-5.07 242.12,-5 242.15,-4.92 242.19,-4.85 242.22,-4.78 242.25,-4.7 242.28,-4.63 242.31,-4.55 242.33,-4.48 242.36,-4.4 242.39,-4.33 242.42,-4.25 242.45,-4.18 242.47,-4.1 242.5,-4.02 242.53,-3.94 242.55,-3.87 242.58,-3.79 242.6,-3.71 242.63,-3.63 242.65,-3.55 242.67,-3.47 242.7,-3.4 242.72,-3.32 242.74,-3.24 242.76,-3.16 242.78,-3.08 242.8,-3 242.83,-2.92 242.85,-2.83 242.86,-2.75 242.88,-2.67 242.9,-2.59 242.92,-2.51 242.94,-2.43 242.96,-2.34 242.97,-2.26 242.99,-2.18 243,-2.1 243.02,-2.01 243.03,-1.93 243.05,-1.85 243.06,-1.77 243.08,-1.68 243.09,-1.6 243.1,-1.52 243.11,-1.43 243.13,-1.35 243.14,-1.26 243.15,-1.18 243.16,-1.1 243.17,-1.01 243.18,-0.93 243.19,-0.84 243.19,-0.76 243.2,-0.68 243.21,-0.59 243.22,-0.51 243.22,-0.42 243.23,-0.34 243.24,-0.25 243.24,-0.17 243.25,-0.08 243.25,-0 243.25,0.08 243.26,0.17 243.26,0.25 243.26,0.34 243.26,0.42 243.26,0.51 243.27,0.59 243.27,0.68 243.27,0.76 243.27,0.84 243.26,0.93 243.26,1.01 243.26,1.1 243.26,1.18 243.26,1.26 243.25,1.35 243.25,1.43 243.25,1.51 243.24,1.6 243.24,1.68 243.23,1.76 243.22,1.85 243.22,1.93 243.21,2.01 243.2,2.09 243.2,2.18 243.19,2.26 243.18,2.34 243.17,2.42 243.16,2.5 243.15,2.59 243.14,2.67 243.13,2.75 243.12,2.83 243.1,2.91 243.09,2.99 243.08,3.07 243.07,3.15 243.05,3.23 243.04,3.31 243.02,3.39 243.01,3.47 242.99,3.54 242.98,3.62 242.96,3.7 242.94,3.78 242.93,3.86 242.91,3.93 242.89,4.01 242.87,4.09 242.85,4.16 242.84,4.24 242.82,4.31 242.8,4.39 242.77,4.46 242.75,4.54 242.73,4.61 242.71,4.69 242.69,4.76 242.67,4.83 242.64,4.91 242.62,4.98 242.6,5.05 242.57,5.12 242.55,5.19 242.52,5.26 242.5,5.33 242.47,5.4 242.44,5.47 242.42,5.54 242.39,5.61 242.36,5.68 242.34,5.75 242.31,5.82 242.28,5.88 242.25,5.95 242.22,6.01 242.19,6.08 242.16,6.15 242.13,6.21 242.1,6.27 242.07,6.34 242.04,6.4 242.01,6.46 241.98,6.53 241.94,6.59 241.91,6.65 241.88,6.71 241.85,6.77 241.81,6.83 241.78,6.89 241.74,6.95 241.71,7 241.67,7.06 241.64,7.12 241.6,7.18 241.57,7.23 241.53,7.29 241.49,7.34 241.46,7.4 241.42,7.45 241.38,7.5 241.35,7.56 241.31,7.61 241.27,7.66 241.23,7.71 241.19,7.76 241.15,7.81 241.11,7.86 241.07,7.91 241.03,7.95 240.99,8 240.95,8.05 240.91,8.09 240.87,8.14 240.83,8.18 240.79,8.23 240.75,8.27 240.71,8.31 240.66,8.36 240.62,8.4 240.58,8.44 240.54,8.48 240.49,8.52 240.45,8.56 240.41,8.6 240.36,8.63 240.32,8.67 240.27,8.71 240.23,8.74 240.19,8.78 240.14,8.81 240.1,8.85 240.05,8.88 240.01,8.91 239.96,8.94 239.92,8.97 239.87,9 239.82,9.03 239.78,9.06 239.73,9.09 239.69,9.12 239.64,9.14 239.59,9.17 239.55,9.2 239.5,9.22 239.45,9.24 239.4,9.27 239.36,9.29 239.31,9.31 239.26,9.33 239.21,9.35 239.17,9.37 239.12,9.39 239.07,9.41 239.02,9.43 238.97,9.44 238.93,9.46 238.88,9.48 238.83,9.49 238.78,9.5 238.73,9.52 238.68,9.53 238.63,9.54 238.59,9.55 238.54,9.56 238.49,9.57 238.44,9.58 238.39,9.59 238.34,9.6 238.29,9.6 238.24,9.61 238.19,9.62 238.15,9.62 238.1,9.62 238.05,9.63 238,9.63 237.95,9.63 237.9,9.63 237.85,9.63 237.8,9.63 237.75,9.63" stroke-width="0.9" stroke="#3a3a3a"/><path d="M239.24,-9.53 239.29,-9.53 239.35,-9.53 239.41,-9.53 239.46,-9.52 239.52,-9.52 239.58,-9.52 239.63,-9.52 239.69,-9.51 239.75,-9.51 239.81,-9.5 239.86,-9.49 239.92,-9.49 239.98,-9.48 240.03,-9.47 240.09,-9.46 240.15,-9.45 240.2,-9.44 240.26,-9.43 240.31,-9.42 240.37,-9.4 240.43,-9.39 240.48,-9.38 240.54,-9.36 240.6,-9.34 240.65,-9.33 240.71,-9.31 240.76,-9.29 240.82,-9.27 240.87,-9.26 240.93,-9.24 240.98,-9.21 241.04,-9.19 241.09,-9.17 241.15,-9.15 241.2,-9.12 241.26,-9.1 241.31,-9.08 241.37,-9.05 241.42,-9.02 241.48,-9 241.53,-8.97 241.58,-8.94 241.64,-8.91 241.69,-8.88 241.74,-8.85 241.8,-8.82 241.85,-8.79 241.9,-8.76 241.95,-8.72 242.01,-8.69 242.06,-8.66 242.11,-8.62 242.16,-8.58 242.21,-8.55 242.27,-8.51 242.32,-8.47 242.37,-8.44 242.42,-8.4 242.47,-8.36 242.52,-8.32 242.57,-8.28 242.62,-8.23 242.67,-8.19 242.72,-8.15 242.77,-8.11 242.82,-8.06 242.86,-8.02 242.91,-7.97 242.96,-7.93 243.01,-7.88 243.06,-7.83 243.1,-7.79 243.15,-7.74 243.2,-7.69 243.24,-7.64 243.29,-7.59 243.34,-7.54 243.38,-7.49 243.43,-7.44 243.47,-7.39 243.52,-7.33 243.56,-7.28 243.61,-7.23 243.65,-7.17 243.69,-7.12 243.74,-7.06 243.78,-7.01 243.82,-6.95 243.87,-6.89 243.91,-6.83 243.95,-6.78 243.99,-6.72 244.03,-6.66 244.07,-6.6 244.11,-6.54 244.15,-6.48 244.19,-6.42 244.23,-6.36 244.27,-6.29 244.31,-6.23 244.35,-6.17 244.39,-6.1 244.42,-6.04 244.46,-5.98 244.5,-5.91 244.53,-5.85 244.57,-5.78 244.61,-5.71 244.64,-5.65 244.68,-5.58 244.71,-5.51 244.75,-5.45 244.78,-5.38 244.81,-5.31 244.85,-5.24 244.88,-5.17 244.91,-5.1 244.95,-5.03 244.98,-4.96 245.01,-4.89 245.04,-4.82 245.07,-4.75 245.1,-4.67 245.13,-4.6 245.16,-4.53 245.19,-4.46 245.22,-4.38 245.24,-4.31 245.27,-4.23 245.3,-4.16 245.33,-4.08 245.35,-4.01 245.38,-3.93 245.4,-3.86 245.43,-3.78 245.45,-3.71 245.48,-3.63 245.5,-3.55 245.53,-3.48 245.55,-3.4 245.57,-3.32 245.59,-3.24 245.62,-3.17 245.64,-3.09 245.66,-3.01 245.68,-2.93 245.7,-2.85 245.72,-2.77 245.74,-2.69 245.76,-2.61 245.77,-2.53 245.79,-2.45 245.81,-2.37 245.83,-2.29 245.84,-2.21 245.86,-2.13 245.87,-2.05 245.89,-1.97 245.9,-1.89 245.92,-1.81 245.93,-1.73 245.94,-1.65 245.96,-1.56 245.97,-1.48 245.98,-1.4 245.99,-1.32 246,-1.24 246.02,-1.16 246.03,-1.07 246.04,-0.99 246.04,-0.91 246.05,-0.83 246.06,-0.74 246.07,-0.66 246.08,-0.58 246.08,-0.5 246.09,-0.41 246.1,-0.33 246.1,-0.25 246.11,-0.17 246.11,-0.08 246.12,-0 246.12,0.08 246.12,0.17 246.13,0.25 246.13,0.33 246.13,0.41 246.13,0.5 246.13,0.58 246.13,0.66 246.13,0.74 246.13,0.83 246.13,0.91 246.13,0.99 246.13,1.07 246.13,1.15 246.12,1.24 246.12,1.32 246.12,1.4 246.11,1.48 246.11,1.56 246.1,1.64 246.1,1.73 246.09,1.81 246.09,1.89 246.08,1.97 246.07,2.05 246.07,2.13 246.06,2.21 246.05,2.29 246.04,2.37 246.03,2.45 246.02,2.53 246.01,2.61 246,2.69 245.99,2.77 245.98,2.85 245.96,2.92 245.95,3 245.94,3.08 245.93,3.16 245.91,3.24 245.9,3.31 245.88,3.39 245.87,3.47 245.85,3.54 245.84,3.62 245.82,3.7 245.8,3.77 245.79,3.85 245.77,3.92 245.75,4 245.73,4.07 245.71,4.15 245.7,4.22 245.68,4.29 245.66,4.37 245.64,4.44 245.61,4.51 245.59,4.58 245.57,4.66 245.55,4.73 245.53,4.8 245.51,4.87 245.48,4.94 245.46,5.01 245.43,5.08 245.41,5.15 245.39,5.22 245.36,5.29 245.33,5.35 245.31,5.42 245.28,5.49 245.26,5.56 245.23,5.62 245.2,5.69 245.17,5.75 245.15,5.82 245.12,5.88 245.09,5.95 245.06,6.01 245.03,6.07 245,6.14 244.97,6.2 244.94,6.26 244.91,6.32 244.88,6.38 244.85,6.44 244.81,6.5 244.78,6.56 244.75,6.62 244.72,6.68 244.68,6.74 244.65,6.8 244.62,6.85 244.58,6.91 244.55,6.96 244.51,7.02 244.48,7.07 244.44,7.13 244.41,7.18 244.37,7.23 244.34,7.29 244.3,7.34 244.26,7.39 244.23,7.44 244.19,7.49 244.15,7.54 244.11,7.59 244.07,7.64 244.04,7.69 244,7.73 243.96,7.78 243.92,7.83 243.88,7.87 243.84,7.92 243.8,7.96 243.76,8.01 243.72,8.05 243.68,8.09 243.64,8.13 243.6,8.17 243.56,8.21 243.51,8.25 243.47,8.29 243.43,8.33 243.39,8.37 243.35,8.41 243.3,8.45 243.26,8.48 243.22,8.52 243.17,8.55 243.13,8.59 243.09,8.62 243.04,8.65 243,8.68 242.96,8.72 242.91,8.75 242.87,8.78 242.82,8.81 242.78,8.84 242.73,8.86 242.69,8.89 242.64,8.92 242.6,8.94 242.55,8.97 242.51,8.99 242.46,9.02 242.41,9.04 242.37,9.07 242.32,9.09 242.27,9.11 242.23,9.13 242.18,9.15 242.14,9.17 242.09,9.19 242.04,9.2 241.99,9.22 241.95,9.24 241.9,9.25 241.85,9.27 241.81,9.28 241.76,9.3 241.71,9.31 241.66,9.32 241.62,9.33 241.57,9.34 241.52,9.35 241.47,9.36 241.43,9.37 241.38,9.38 241.33,9.39 241.28,9.39 241.23,9.4 241.19,9.41 241.14,9.41 241.09,9.41 241.04,9.42 240.99,9.42 240.95,9.42 240.9,9.42 240.85,9.42 240.8,9.42 240.75,9.42" stroke-width="0.9" stroke="#3a3a3a"/><path d="M242.24,-9.31 242.29,-9.32 242.35,-9.32 242.41,-9.32 242.46,-9.31 242.52,-9.31 242.57,-9.31 242.63,-9.31 242.68,-9.3 242.74,-9.3 242.8,-9.29 242.85,-9.28 242.91,-9.28 242.96,-9.27 243.02,-9.26 243.07,-9.25 243.13,-9.24 243.18,-9.23 243.24,-9.22 243.29,-9.21 243.35,-9.2 243.4,-9.18 243.46,-9.17 243.51,-9.15 243.57,-9.14 243.62,-9.12 243.68,-9.11 243.73,-9.09 243.79,-9.07 243.84,-9.05 243.9,-9.03 243.95,-9.01 244,-8.99 244.06,-8.97 244.11,-8.95 244.17,-8.92 244.22,-8.9 244.27,-8.87 244.33,-8.85 244.38,-8.82 244.43,-8.8 244.48,-8.77 244.54,-8.74 244.59,-8.71 244.64,-8.69 244.69,-8.66 244.75,-8.63 244.8,-8.59 244.85,-8.56 244.9,-8.53 244.95,-8.5 245,-8.46 245.05,-8.43 245.11,-8.39 245.16,-8.36 245.21,-8.32 245.26,-8.29 245.31,-8.25 245.36,-8.21 245.41,-8.17 245.45,-8.13 245.5,-8.09 245.55,-8.05 245.6,-8.01 245.65,-7.97 245.7,-7.93 245.75,-7.88 245.79,-7.84 245.84,-7.8 245.89,-7.75 245.93,-7.71 245.98,-7.66 246.03,-7.61 246.07,-7.57 246.12,-7.52 246.16,-7.47 246.21,-7.42 246.26,-7.37 246.3,-7.32 246.34,-7.27 246.39,-7.22 246.43,-7.17 246.48,-7.12 246.52,-7.07 246.56,-7.01 246.61,-6.96 246.65,-6.9 246.69,-6.85 246.73,-6.79 246.77,-6.74 246.81,-6.68 246.86,-6.63 246.9,-6.57 246.94,-6.51 246.98,-6.45 247.02,-6.39 247.06,-6.33 247.09,-6.27 247.13,-6.21 247.17,-6.15 247.21,-6.09 247.25,-6.03 247.28,-5.97 247.32,-5.91 247.36,-5.84 247.39,-5.78 247.43,-5.72 247.47,-5.65 247.5,-5.59 247.54,-5.52 247.57,-5.46 247.6,-5.39 247.64,-5.32 247.67,-5.26 247.7,-5.19 247.74,-5.12 247.77,-5.06 247.8,-4.99 247.83,-4.92 247.86,-4.85 247.89,-4.78 247.92,-4.71 247.95,-4.64 247.98,-4.57 248.01,-4.5 248.04,-4.43 248.07,-4.36 248.1,-4.28 248.12,-4.21 248.15,-4.14 248.18,-4.07 248.21,-3.99 248.23,-3.92 248.26,-3.85 248.28,-3.77 248.31,-3.7 248.33,-3.62 248.35,-3.55 248.38,-3.47 248.4,-3.4 248.42,-3.32 248.45,-3.25 248.47,-3.17 248.49,-3.1 248.51,-3.02 248.53,-2.94 248.55,-2.87 248.57,-2.79 248.59,-2.71 248.61,-2.63 248.63,-2.56 248.64,-2.48 248.66,-2.4 248.68,-2.32 248.7,-2.24 248.71,-2.16 248.73,-2.09 248.74,-2.01 248.76,-1.93 248.77,-1.85 248.79,-1.77 248.8,-1.69 248.81,-1.61 248.83,-1.53 248.84,-1.45 248.85,-1.37 248.86,-1.29 248.87,-1.21 248.88,-1.13 248.89,-1.05 248.9,-0.97 248.91,-0.89 248.92,-0.81 248.93,-0.73 248.94,-0.65 248.94,-0.57 248.95,-0.48 248.96,-0.4 248.96,-0.32 248.97,-0.24 248.97,-0.16 248.98,-0.08 248.98,-0 248.99,0.08 248.99,0.16 248.99,0.24 248.99,0.32 249,0.4 249,0.48 249,0.57 249,0.65 249,0.73 249,0.81 249,0.89 249,0.97 249,1.05 248.99,1.13 248.99,1.21 248.99,1.29 248.99,1.37 248.98,1.45 248.98,1.53 248.97,1.61 248.97,1.69 248.96,1.77 248.96,1.85 248.95,1.92 248.94,2 248.93,2.08 248.93,2.16 248.92,2.24 248.91,2.32 248.9,2.4 248.89,2.47 248.88,2.55 248.87,2.63 248.86,2.71 248.85,2.78 248.84,2.86 248.83,2.94 248.81,3.01 248.8,3.09 248.79,3.16 248.77,3.24 248.76,3.32 248.74,3.39 248.73,3.47 248.71,3.54 248.7,3.61 248.68,3.69 248.67,3.76 248.65,3.84 248.63,3.91 248.61,3.98 248.59,4.05 248.58,4.13 248.56,4.2 248.54,4.27 248.52,4.34 248.5,4.41 248.48,4.48 248.46,4.55 248.43,4.62 248.41,4.69 248.39,4.76 248.37,4.83 248.34,4.9 248.32,4.97 248.3,5.03 248.27,5.1 248.25,5.17 248.22,5.24 248.2,5.3 248.17,5.37 248.15,5.43 248.12,5.5 248.1,5.56 248.07,5.63 248.04,5.69 248.01,5.75 247.98,5.82 247.96,5.88 247.93,5.94 247.9,6 247.87,6.06 247.84,6.12 247.81,6.18 247.78,6.24 247.75,6.3 247.72,6.36 247.69,6.42 247.65,6.47 247.62,6.53 247.59,6.59 247.56,6.64 247.52,6.7 247.49,6.75 247.46,6.81 247.42,6.86" stroke-width="0.9" stroke="#3a3a3a"/>
<path d="M217.16,11.09 217.11,11.09 217.05,11.09 216.99,11.09 216.94,11.09 216.88,11.09 216.82,11.08 216.76,11.08 216.71,11.07 216.65,11.07 216.59,11.06 216.54,11.05 216.48,11.05 216.42,11.04 216.36,11.03 216.31,11.02 216.25,11 216.19,10.99 216.14,10.98 216.08,10.96 216.02,10.95 215.97,10.93 215.91,10.92 215.85,10.9 215.8,10.88 215.74,10.86 215.69,10.84 215.63,10.82 215.58,10.8 215.52,10.78 215.46,10.75 215.41,10.73 215.35,10.7 215.3,10.68 215.24,10.65 215.19,10.63 215.13,10.6 215.08,10.57 215.03,10.54 214.97,10.51 214.92,10.48 214.86,10.44 214.81,10.41 214.76,10.38 214.7,10.34 214.65,10.31 214.6,10.27 214.55,10.23 214.49,10.2 214.44,10.16 214.39,10.12 214.34,10.08 214.29,10.04 214.23,10 214.18,9.96 214.13,9.91 214.08,9.87 214.03,9.82 213.98,9.78 213.93,9.73 213.88,9.69 213.83,9.64 213.78,9.59 213.74,9.54 213.69,9.49 213.64,9.44 213.59,9.39 213.54,9.34 213.5,9.29 213.45,9.23 213.4,9.18 213.36,9.12 213.31,9.07 213.26,9.01 213.22,8.96 213.17,8.9 213.13,8.84 213.08,8.78 213.04,8.72 213,8.66 212.95,8.6 212.91,8.54 212.87,8.48 212.82,8.42 212.78,8.35 212.74,8.29 212.7,8.22 212.66,8.16 212.62,8.09 212.58,8.03 212.54,7.96 212.5,7.89 212.46,7.82 212.42,7.76 212.38,7.69 212.34,7.62 212.3,7.55 212.27,7.47 212.23,7.4 212.19,7.33 212.16,7.26 212.12,7.18 212.09,7.11 212.05,7.04 212.02,6.96 211.98,6.89 211.95,6.81 211.92,6.73 211.88,6.66 211.85,6.58 211.82,6.5 211.79,6.42 211.76,6.34 211.73,6.26 211.7,6.18 211.67,6.1 211.64,6.02 211.61,5.94 211.58,5.86 211.55,5.78 211.52,5.69 211.5,5.61 211.47,5.53 211.44,5.44 211.42,5.36 211.39,5.28 211.37,5.19 211.34,5.1 211.32,5.02 211.3,4.93 211.27,4.85 211.25,4.76 211.23,4.67 211.21,4.58 211.19,4.5 211.17,4.41 211.15,4.32 211.13,4.23 211.11,4.14 211.09,4.05 211.07,3.96 211.06,3.87 211.04,3.78 211.02,3.69 211.01,3.6 210.99,3.51 210.98,3.41 210.96,3.32 210.95,3.23 210.94,3.14 210.92,3.05 210.91,2.95 210.9,2.86 210.89,2.77 210.88,2.67 210.87,2.58 210.86,2.48 210.85,2.39 210.84,2.3 210.83,2.2 210.82,2.11 210.82,2.01 210.81,1.92 210.8,1.82 210.8,1.73 210.79,1.63 210.79,1.54 210.79,1.44 210.78,1.35 210.78,1.25 210.78,1.15 210.77,1.06 210.77,0.96 210.77,0.87 210.77,0.77 210.77,0.67 210.77,0.58 210.78,0.48 210.78,0.39 210.78,0.29 210.78,0.19 210.79,0.1 210.79,0 210.8,-0.1 210.8,-0.19 210.81,-0.29 210.81,-0.39 210.82,-0.48 210.83,-0.58 210.83,-0.67 210.84,-0.77 210.85,-0.87 210.86,-0.96 210.87,-1.06 210.88,-1.15 210.89,-1.25 210.9,-1.34 210.92,-1.44 210.93,-1.54 210.94,-1.63 210.96,-1.73 210.97,-1.82 210.98,-1.92 211,-2.01 211.01,-2.11 211.03,-2.2 211.05,-2.29 211.07,-2.39 211.08,-2.48 211.1,-2.58 211.12,-2.67 211.14,-2.76 211.16,-2.85 211.18,-2.95 211.2,-3.04 211.22,-3.13 211.24,-3.22 211.27,-3.32 211.29,-3.41 211.31,-3.5 211.34,-3.59 211.36,-3.68 211.39,-3.77 211.41,-3.86 211.44,-3.95 211.46,-4.04 211.49,-4.13 211.52,-4.22 211.55,-4.31 211.58,-4.4 211.6,-4.48 211.63,-4.57 211.66,-4.66 211.69,-4.75 211.73,-4.83 211.76,-4.92 211.79,-5 211.82,-5.09 211.85,-5.17 211.89,-5.26 211.92,-5.34 211.95,-5.43 211.99,-5.51 212.02,-5.59 212.06,-5.68 212.1,-5.76 212.13,-5.84 212.17,-5.92 212.21,-6 212.24,-6.08 212.28,-6.16 212.32,-6.24 212.36,-6.32 212.4,-6.4 212.44,-6.48 212.48,-6.55 212.52,-6.63 212.56,-6.71 212.6,-6.78 212.65,-6.86 212.69,-6.93 212.73,-7.01 212.78,-7.08 212.82,-7.15 212.86,-7.23 212.91,-7.3 212.95,-7.37 213,-7.44 213.04,-7.51 213.09,-7.58 213.14,-7.65 213.18,-7.72 213.23,-7.79 213.28,-7.85 213.33,-7.92 213.37,-7.99 213.42,-8.05 213.47,-8.12 213.52,-8.18 213.57,-8.25 213.62,-8.31 213.67,-8.37 213.72,-8.43 213.77,-8.49 213.83,-8.56 213.88,-8.62 213.93,-8.67 213.98,-8.73 214.04,-8.79 214.09,-8.85 214.14,-8.9 214.2,-8.96 214.25,-9.02 214.3,-9.07 214.36,-9.12 214.41,-9.18 214.47,-9.23 214.52,-9.28 214.58,-9.33 214.64,-9.38 214.69,-9.43 214.75,-9.48 214.81,-9.53 214.86,-9.58 214.92,-9.62 214.98,-9.67 215.04,-9.71 215.09,-9.76 215.15,-9.8 215.21,-9.85 215.27,-9.89 215.33,-9.93 215.39,-9.97 215.45,-10.01 215.51,-10.05 215.57,-10.09 215.63,-10.13 215.69,-10.16 215.75,-10.2 215.81,-10.23 215.87,-10.27 215.93,-10.3 215.99,-10.33 216.06,-10.37 216.12,-10.4 216.18,-10.43 216.24,-10.46 216.3,-10.49 216.37,-10.52 216.43,-10.54 216.49,-10.57 216.56,-10.6 216.62,-10.62 216.68,-10.64 216.74,-10.67 216.81,-10.69 216.87,-10.71 216.93,-10.73 217,-10.75 217.06,-10.77 217.13,-10.79 217.19,-10.81 217.25,-10.82 217.32,-10.84 217.38,-10.86 217.45,-10.87 217.51,-10.88 217.58,-10.9 217.64,-10.91 217.71,-10.92 217.77,-10.93 217.84,-10.94 217.9,-10.95 217.97,-10.95 218.03,-10.96 218.09,-10.97 218.16,-10.97 218.22,-10.98 218.29,-10.98 218.35,-10.98 218.42,-10.98 218.48,-10.99 218.55,-10.99 218.62,-10.99 218.68,-10.98" stroke-width="1.35" stroke="#1a1a1a"/><path d="M220.16,10.88 220.11,10.88 220.05,10.88 219.99,10.88 219.94,10.88 219.88,10.88 219.83,10.87 219.77,10.87 219.71,10.86 219.66,10.86 219.6,10.85 219.55,10.84 219.49,10.84 219.43,10.83 219.38,10.82 219.32,10.81 219.27,10.8 219.21,10.78 219.16,10.77 219.1,10.76 219.04,10.74 218.99,10.73 218.93,10.71 218.88,10.69 218.82,10.67 218.77,10.66 218.71,10.64 218.66,10.62 218.61,10.59 218.55,10.57 218.5,10.55 218.44,10.53 218.39,10.5 218.33,10.48 218.28,10.45 218.23,10.42 218.17,10.4 218.12,10.37 218.07,10.34 218.01,10.31 217.96,10.28 217.91,10.25 217.86,10.21 217.8,10.18 217.75,10.15 217.7,10.11 217.65,10.08 217.6,10.04 217.55,10 217.49,9.97 217.44,9.93 217.39,9.89 217.34,9.85 217.29,9.81 217.24,9.77 217.19,9.72 217.14,9.68 217.09,9.64 217.04,9.59 217,9.55 216.95,9.5 216.9,9.46 216.85,9.41 216.8,9.36 216.76,9.31 216.71,9.26 216.66,9.21 216.61,9.16 216.57,9.11 216.52,9.06 216.48,9 216.43,8.95 216.39,8.9 216.34,8.84 216.3,8.79 216.25,8.73 216.21,8.67 216.16,8.61 216.12,8.56 216.08,8.5 216.04,8.44 215.99,8.38 215.95,8.32 215.91,8.26 215.87,8.19 215.83,8.13 215.79,8.07 215.75,8 215.71,7.94 215.67,7.87 215.63,7.81 215.59,7.74 215.55,7.68 215.51,7.61 215.48,7.54 215.44,7.47 215.4,7.4 215.36,7.33 215.33,7.26 215.29,7.19 215.26,7.12 215.22,7.05 215.19,6.98 215.15,6.9 215.12,6.83 215.09,6.75 215.05,6.68 215.02,6.61 214.99,6.53 214.96,6.45 214.93,6.38 214.9,6.3 214.87,6.22 214.84,6.14 214.81,6.07 214.78,5.99 214.75,5.91 214.72,5.83 214.69,5.75 214.66,5.67 214.64,5.59 214.61,5.5 214.59,5.42 214.56,5.34 214.54,5.26 214.51,5.17 214.49,5.09 214.46,5.01 214.44,4.92 214.42,4.84 214.39,4.75 214.37,4.67 214.35,4.58 214.33,4.5 214.31,4.41 214.29,4.32 214.27,4.24 214.25,4.15 214.23,4.06 214.22,3.97 214.2,3.88 214.18,3.8 214.17,3.71 214.15,3.62 214.13,3.53 214.12,3.44 214.1,3.35 214.09,3.26 214.08,3.17 214.06,3.08 214.05,2.99 214.04,2.9 214.03,2.8 214.02,2.71 214.01,2.62 214,2.53 213.99,2.44 213.98,2.35 213.97,2.25 213.96,2.16 213.95,2.07 213.95,1.97 213.94,1.88 213.94,1.79 213.93,1.69 213.93,1.6 213.92,1.51 213.92,1.41 213.91,1.32 213.91,1.23 213.91,1.13 213.91,1.04 213.91,0.94 213.91,0.85 213.91,0.76 213.91,0.66 213.91,0.57 213.91,0.47 213.91,0.38 213.91,0.28 213.92,0.19 213.92,0.09 213.92,0 213.93,-0.09 213.93,-0.19 213.94,-0.28 213.95,-0.38 213.95,-0.47 213.96,-0.57 213.97,-0.66 213.98,-0.76 213.98,-0.85 213.99,-0.94 214,-1.04 214.01,-1.13 214.02,-1.23 214.04,-1.32 214.05,-1.41 214.06,-1.51 214.07,-1.6 214.09,-1.69 214.1,-1.79 214.12,-1.88 214.13,-1.97 214.15,-2.06 214.16,-2.16 214.18,-2.25 214.2,-2.34 214.21,-2.43 214.23,-2.53 214.25,-2.62 214.27,-2.71 214.29,-2.8 214.31,-2.89 214.33,-2.98 214.35,-3.07 214.37,-3.16 214.39,-3.25 214.42,-3.34 214.44,-3.43 214.46,-3.52 214.49,-3.61 214.51,-3.7 214.54,-3.79 214.56,-3.88 214.59,-3.96 214.62,-4.05 214.64,-4.14 214.67,-4.23 214.7,-4.31 214.73,-4.4 214.76,-4.48 214.79,-4.57 214.82,-4.66 214.85,-4.74 214.88,-4.82 214.91,-4.91 214.94,-4.99 214.97,-5.08 215,-5.16 215.04,-5.24 215.07,-5.32 215.11,-5.41 215.14,-5.49 215.17,-5.57 215.21,-5.65 215.25,-5.73 215.28,-5.81 215.32,-5.89 215.36,-5.97 215.39,-6.04 215.43,-6.12 215.47,-6.2 215.51,-6.28 215.55,-6.35 215.59,-6.43 215.63,-6.5 215.67,-6.58 215.71,-6.65 215.75,-6.73 215.79,-6.8 215.83,-6.87 215.88,-6.95 215.92,-7.02 215.96,-7.09 216.01,-7.16 216.05,-7.23 216.1,-7.3 216.14,-7.37 216.19,-7.44 216.23,-7.5 216.28,-7.57 216.32,-7.64 216.37,-7.7 216.42,-7.77 216.47,-7.83 216.51,-7.9 216.56,-7.96 216.61,-8.03 216.66,-8.09 216.71,-8.15 216.76,-8.21 216.81,-8.27 216.86,-8.33 216.91,-8.39 216.96,-8.45 217.01,-8.51 217.06,-8.57 217.12,-8.62 217.17,-8.68 217.22,-8.73 217.27,-8.79 217.33,-8.84 217.38,-8.9 217.43,-8.95 217.49,-9 217.54,-9.05 217.6,-9.1 217.65,-9.15 217.71,-9.2 217.76,-9.25 217.82,-9.3 217.87,-9.35 217.93,-9.39 217.99,-9.44 218.04,-9.48 218.1,-9.53 218.16,-9.57 218.21,-9.62 218.27,-9.66 218.33,-9.7 218.39,-9.74 218.45,-9.78 218.5,-9.82 218.56,-9.86 218.62,-9.89 218.68,-9.93 218.74,-9.97 218.8,-10 218.86,-10.04 218.92,-10.07 218.98,-10.1 219.04,-10.14 219.1,-10.17 219.16,-10.2 219.22,-10.23 219.28,-10.26 219.34,-10.29 219.41,-10.31 219.47,-10.34 219.53,-10.37 219.59,-10.39 219.65,-10.42 219.71,-10.44 219.78,-10.46 219.84,-10.49 219.9,-10.51 219.96,-10.53 220.03,-10.55 220.09,-10.57 220.15,-10.58 220.21,-10.6 220.28,-10.62 220.34,-10.63 220.4,-10.65 220.47,-10.66 220.53,-10.68 220.59,-10.69 220.66,-10.7 220.72,-10.71 220.78,-10.72 220.85,-10.73 220.91,-10.74 220.98,-10.74 221.04,-10.75 221.1,-10.76 221.17,-10.76 221.23,-10.77 221.29,-10.77 221.36,-10.77 221.42,-10.77 221.49,-10.78 221.55,-10.78 221.61,-10.77 221.68,-10.77" stroke-width="1.35" stroke="#1a1a1a"/><path d="M223.16,10.67 223.1,10.67 223.05,10.67 223,10.67 222.94,10.67 222.89,10.67 222.83,10.66 222.78,10.66 222.72,10.65 222.67,10.65 222.61,10.64 222.56,10.63 222.5,10.63 222.45,10.62 222.39,10.61 222.34,10.6 222.28,10.59 222.23,10.57 222.17,10.56 222.12,10.55 222.07,10.53 222.01,10.52 221.96,10.5 221.9,10.49 221.85,10.47 221.8,10.45 221.74,10.43 221.69,10.41 221.64,10.39 221.58,10.37 221.53,10.35 221.48,10.32 221.42,10.3 221.37,10.27 221.32,10.25 221.26,10.22 221.21,10.19 221.16,10.17 221.11,10.14 221.06,10.11 221,10.08 220.95,10.05 220.9,10.02 220.85,9.98 220.8,9.95 220.75,9.92 220.7,9.88 220.65,9.85 220.6,9.81 220.55,9.77 220.5,9.73 220.45,9.7 220.4,9.66 220.35,9.62 220.3,9.58 220.25,9.54 220.2,9.49 220.16,9.45 220.11,9.41 220.06,9.36 220.01,9.32 219.96,9.27 219.92,9.23 219.87,9.18 219.82,9.13 219.78,9.08 219.73,9.03 219.69,8.98 219.64,8.93 219.6,8.88 219.55,8.83 219.51,8.78 219.46,8.72 219.42,8.67 219.38,8.62 219.33,8.56 219.29,8.5 219.25,8.45 219.2,8.39 219.16,8.33 219.12,8.27 219.08,8.22 219.04,8.16 219,8.1 218.96,8.03 218.92,7.97 218.88,7.91 218.84,7.85 218.8,7.79 218.76,7.72 218.72,7.66 218.68,7.59 218.65,7.53 218.61,7.46 218.57,7.39 218.54,7.33 218.5,7.26 218.46,7.19 218.43,7.12 218.39,7.05 218.36,6.98 218.32,6.91 218.29,6.84 218.26,6.77 218.22,6.7 218.19,6.62 218.16,6.55 218.13,6.48 218.1,6.4 218.07,6.33 218.03,6.25 218,6.18 217.97,6.1 217.95,6.03 217.92,5.95 217.89,5.87 217.86,5.79 217.83,5.72 217.81,5.64 217.78,5.56 217.75,5.48 217.73,5.4 217.7,5.32 217.68,5.24 217.65,5.16 217.63,5.07 217.6,4.99 217.58,4.91 217.56,4.83 217.54,4.74 217.51,4.66 217.49,4.58 217.47,4.49 217.45,4.41 217.43,4.32 217.41,4.24 217.39,4.15 217.38,4.07 217.36,3.98 217.34,3.9 217.32,3.81 217.31,3.72 217.29,3.64 217.28,3.55 217.26,3.46 217.25,3.37 217.23,3.28 217.22,3.2 217.2,3.11 217.19,3.02 217.18,2.93 217.17,2.84 217.16,2.75 217.15,2.66 217.14,2.57 217.13,2.48 217.12,2.39 217.11,2.3 217.1,2.21 217.09,2.12 217.09,2.03 217.08,1.94 217.07,1.84 217.07,1.75 217.06,1.66 217.06,1.57 217.05,1.48 217.05,1.39 217.05,1.29 217.04,1.2 217.04,1.11 217.04,1.02 217.04,0.93 217.04,0.83 217.04,0.74 217.04,0.65 217.04,0.56 217.04,0.46 217.04,0.37 217.05,0.28 217.05,0.19 217.05,0.09 217.06,0 217.06,-0.09 217.07,-0.19 217.07,-0.28 217.08,-0.37 217.09,-0.46 217.09,-0.56 217.1,-0.65 217.11,-0.74 217.12,-0.83 217.13,-0.93 217.14,-1.02 217.15,-1.11 217.16,-1.2 217.17,-1.29 217.18,-1.39 217.19,-1.48 217.21,-1.57 217.22,-1.66 217.23,-1.75 217.25,-1.84 217.26,-1.93 217.28,-2.02 217.29,-2.12 217.31,-2.21 217.33,-2.3 217.34,-2.39 217.36,-2.48 217.38,-2.57 217.4,-2.66 217.42,-2.75 217.44,-2.83 217.46,-2.92 217.48,-3.01 217.5,-3.1 217.52,-3.19 217.54,-3.28 217.57,-3.37 217.59,-3.45 217.61,-3.54 217.64,-3.63 217.66,-3.71 217.69,-3.8 217.71,-3.89 217.74,-3.97 217.77,-4.06 217.79,-4.14 217.82,-4.23 217.85,-4.31 217.88,-4.4 217.91,-4.48 217.94,-4.56 217.97,-4.65 218,-4.73 218.03,-4.81 218.06,-4.9 218.09,-4.98 218.12,-5.06 218.15,-5.14 218.19,-5.22 218.22,-5.3 218.25,-5.38 218.29,-5.46 218.32,-5.54 218.36,-5.62 218.39,-5.69 218.43,-5.77 218.47,-5.85 218.5,-5.93 218.54,-6 218.58,-6.08 218.62,-6.15 218.66,-6.23 218.7,-6.3 218.73,-6.38 218.77,-6.45 218.81,-6.52 218.86,-6.6 218.9,-6.67 218.94,-6.74 218.98,-6.81 219.02,-6.88 219.06,-6.95 219.11,-7.02 219.15,-7.09 219.19,-7.16 219.24,-7.22 219.28,-7.29 219.33,-7.36 219.37,-7.42 219.42,-7.49 219.47,-7.55 219.51,-7.62 219.56,-7.68 219.61,-7.75 219.65,-7.81 219.7,-7.87 219.75,-7.93 219.8,-7.99 219.85,-8.05 219.89,-8.11 219.94,-8.17 219.99,-8.23 220.04,-8.29 220.09,-8.34 220.15,-8.4 220.2,-8.45 220.25,-8.51 220.3,-8.56 220.35,-8.62 220.4,-8.67 220.46,-8.72 220.51,-8.78 220.56,-8.83 220.61,-8.88 220.67,-8.93 220.72,-8.98 220.78,-9.02 220.83,-9.07 220.89,-9.12 220.94,-9.16 221,-9.21 221.05,-9.26 221.11,-9.3 221.16,-9.34 221.22,-9.39 221.27,-9.43 221.33,-9.47 221.39,-9.51 221.45,-9.55 221.5,-9.59 221.56,-9.63 221.62,-9.66 221.68,-9.7 221.73,-9.74 221.79,-9.77 221.85,-9.81 221.91,-9.84 221.97,-9.87 222.03,-9.91 222.09,-9.94 222.15,-9.97 222.21,-10 222.26,-10.03 222.32,-10.06 222.38,-10.09 222.45,-10.11 222.51,-10.14 222.57,-10.16 222.63,-10.19 222.69,-10.21 222.75,-10.24 222.81,-10.26 222.87,-10.28 222.93,-10.3 222.99,-10.32 223.05,-10.34 223.12,-10.36 223.18,-10.38 223.24,-10.39 223.3,-10.41 223.36,-10.43 223.43,-10.44 223.49,-10.45 223.55,-10.47 223.61,-10.48 223.67,-10.49 223.74,-10.5 223.8,-10.51 223.86,-10.52 223.92,-10.53 223.99,-10.53 224.05,-10.54 224.11,-10.55 224.17,-10.55 224.24,-10.56 224.3,-10.56 224.36,-10.56 224.42,-10.56 224.49,-10.56 224.55,-10.56 224.61,-10.56 224.68,-10.56" stroke-width="1.35" stroke="#1a1a1a"/><path d="M226.16,10.46 226.1,10.46 226.05,10.46 226,10.46 225.94,10.46 225.89,10.46 225.83,10.45 225.78,10.45 225.73,10.44 225.67,10.44 225.62,10.43 225.57,10.42 225.51,10.42 225.46,10.41 225.41,10.4 225.35,10.39 225.3,10.38 225.25,10.37 225.19,10.35 225.14,10.34 225.09,10.33 225.03,10.31 224.98,10.29 224.93,10.28 224.88,10.26 224.82,10.24 224.77,10.22 224.72,10.2 224.67,10.18 224.61,10.16 224.56,10.14 224.51,10.12 224.46,10.09 224.41,10.07 224.35,10.05 224.3,10.02 224.25,9.99 224.2,9.97 224.15,9.94 224.1,9.91 224.05,9.88 224,9.85 223.95,9.82 223.9,9.79 223.85,9.75 223.8,9.72 223.75,9.69 223.7,9.65 223.65,9.62 223.6,9.58 223.55,9.54 223.5,9.5 223.46,9.47 223.41,9.43 223.36,9.39 223.31,9.35 223.26,9.31 223.22,9.26 223.17,9.22 223.12,9.18 223.08,9.13 223.03,9.09 222.98,9.04 222.94,9 222.89,8.95 222.85,8.9 222.8,8.85 222.76,8.81 222.71,8.76 222.67,8.71 222.63,8.65 222.58,8.6 222.54,8.55 222.5,8.5 222.45,8.45 222.41,8.39 222.37,8.34 222.33,8.28 222.29,8.22 222.25,8.17 222.2,8.11 222.16,8.05 222.12,7.99 222.08,7.94 222.04,7.88 222.01,7.82 221.97,7.75 221.93,7.69 221.89,7.63 221.85,7.57 221.81,7.51 221.78,7.44 221.74,7.38 221.7,7.31 221.67,7.25 221.63,7.18 221.6,7.11 221.56,7.05 221.53,6.98 221.49,6.91 221.46,6.84 221.43,6.77 221.39,6.7 221.36,6.63 221.33,6.56 221.3,6.49 221.26,6.42 221.23,6.35 221.2,6.28 221.17,6.2 221.14,6.13 221.11,6.06 221.08,5.98 221.06,5.91 221.03,5.83 221,5.75 220.97,5.68 220.95,5.6 220.92,5.52 220.89,5.45 220.87,5.37 220.84,5.29 220.82,5.21 220.79,5.13 220.77,5.05 220.75,4.97 220.72,4.89 220.7,4.81 220.68,4.73 220.66,4.65 220.64,4.57 220.61,4.49 220.59,4.4 220.57,4.32 220.55,4.24 220.54,4.16 220.52,4.07 220.5,3.99 220.48,3.9 220.46,3.82 220.45,3.73 220.43,3.65 220.42,3.56 220.4,3.48 220.39,3.39 220.37,3.31 220.36,3.22 220.35,3.13 220.33,3.05 220.32,2.96 220.31,2.87 220.3,2.78 220.29,2.7 220.28,2.61 220.27,2.52 220.26,2.43 220.25,2.34 220.24,2.25 220.23,2.17 220.22,2.08 220.22,1.99 220.21,1.9 220.2,1.81 220.2,1.72 220.19,1.63 220.19,1.54 220.19,1.45 220.18,1.36 220.18,1.27 220.18,1.18 220.18,1.09 220.17,1 220.17,0.91 220.17,0.82 220.17,0.73 220.17,0.64 220.17,0.54 220.18,0.45 220.18,0.36 220.18,0.27 220.18,0.18 220.19,0.09 220.19,0 220.2,-0.09 220.2,-0.18 220.21,-0.27 220.21,-0.36 220.22,-0.45 220.23,-0.54 220.23,-0.64 220.24,-0.73 220.25,-0.82 220.26,-0.91 220.27,-1 220.28,-1.09 220.29,-1.18 220.3,-1.27 220.31,-1.36 220.33,-1.45 220.34,-1.54 220.35,-1.63 220.36,-1.72 220.38,-1.81 220.39,-1.9 220.41,-1.98 220.42,-2.07 220.44,-2.16 220.46,-2.25 220.47,-2.34 220.49,-2.43 220.51,-2.52 220.53,-2.6 220.55,-2.69 220.57,-2.78 220.59,-2.87 220.61,-2.95 220.63,-3.04 220.65,-3.13 220.67,-3.21 220.69,-3.3 220.72,-3.38 220.74,-3.47 220.76,-3.56 220.79,-3.64 220.81,-3.73 220.84,-3.81 220.86,-3.89 220.89,-3.98 220.92,-4.06 220.94,-4.14 220.97,-4.23 221,-4.31 221.03,-4.39 221.06,-4.47 221.09,-4.56 221.12,-4.64 221.15,-4.72 221.18,-4.8 221.21,-4.88 221.24,-4.96 221.27,-5.04 221.3,-5.12 221.34,-5.19 221.37,-5.27 221.4,-5.35 221.44,-5.43 221.47,-5.5 221.51,-5.58 221.54,-5.66 221.58,-5.73 221.62,-5.81 221.65,-5.88 221.69,-5.96 221.73,-6.03 221.76,-6.1 221.8,-6.18 221.84,-6.25 221.88,-6.32 221.92,-6.39 221.96,-6.46 222,-6.53 222.04,-6.6 222.08,-6.67 222.12,-6.74 222.17,-6.81 222.21,-6.88 222.25,-6.95 222.29,-7.01 222.34,-7.08 222.38,-7.15 222.42,-7.21 222.47,-7.28 222.51,-7.34 222.56,-7.4 222.6,-7.47 222.65,-7.53 222.7,-7.59 222.74,-7.65 222.79,-7.71 222.84,-7.77 222.88,-7.83 222.93,-7.89 222.98,-7.95 223.03,-8.01 223.08,-8.06 223.13,-8.12 223.18,-8.18 223.23,-8.23 223.28,-8.29 223.33,-8.34 223.38,-8.39 223.43,-8.45 223.48,-8.5 223.53,-8.55 223.58,-8.6 223.63,-8.65 223.69,-8.7 223.74,-8.75 223.79,-8.8 223.85,-8.84 223.9,-8.89 223.95,-8.94 224.01,-8.98 224.06,-9.03 224.12,-9.07 224.17,-9.11 224.22,-9.16 224.28,-9.2 224.34,-9.24 224.39,-9.28 224.45,-9.32 224.5,-9.36 224.56,-9.4 224.62,-9.44 224.67,-9.47 224.73,-9.51 224.79,-9.54 224.84,-9.58 224.9,-9.61 224.96,-9.65 225.02,-9.68 225.07,-9.71 225.13,-9.74 225.19,-9.77 225.25,-9.8 225.31,-9.83 225.37,-9.86 225.43,-9.88 225.48,-9.91 225.54,-9.94 225.6,-9.96 225.66,-9.99 225.72,-10.01 225.78,-10.03 225.84,-10.05 225.9,-10.08 225.96,-10.1 226.02,-10.12 226.08,-10.13 226.14,-10.15 226.2,-10.17 226.26,-10.19 226.32,-10.2 226.39,-10.22 226.45,-10.23 226.51,-10.25 226.57,-10.26 226.63,-10.27 226.69,-10.28 226.75,-10.29 226.81,-10.3 226.87,-10.31 226.94,-10.32 227,-10.33 227.06,-10.33 227.12,-10.34 227.18,-10.34 227.24,-10.35 227.3,-10.35 227.37,-10.35 227.43,-10.35 227.49,-10.35 227.55,-10.35 227.61,-10.35 227.67,-10.35" stroke-width="1.35" stroke="#1a1a1a"/><path d="M229.16,10.25 229.1,10.25 229.05,10.25 229,10.25 228.94,10.25 228.89,10.24 228.84,10.24 228.79,10.24 228.73,10.23 228.68,10.23 228.63,10.22 228.58,10.21 228.52,10.21 228.47,10.2 228.42,10.19 228.37,10.18 228.32,10.17 228.26,10.16 228.21,10.14 228.16,10.13 228.11,10.12 228.06,10.1 228,10.09 227.95,10.07 227.9,10.05 227.85,10.04 227.8,10.02 227.75,10 227.7,9.98 227.64,9.96 227.59,9.94 227.54,9.91 227.49,9.89 227.44,9.87 227.39,9.84 227.34,9.82 227.29,9.79 227.24,9.77 227.19,9.74 227.14,9.71 227.09,9.68 227.04,9.65 226.99,9.62 226.94,9.59 226.9,9.56 226.85,9.52 226.8,9.49 226.75,9.46 226.7,9.42 226.65,9.39 226.61,9.35 226.56,9.31 226.51,9.28 226.46,9.24 226.42,9.2 226.37,9.16 226.32,9.12 226.28,9.08 226.23,9.03 226.19,8.99 226.14,8.95 226.1,8.91 226.05,8.86 226.01,8.82 225.96,8.77 225.92,8.72 225.87,8.68 225.83,8.63 225.79,8.58 225.74,8.53 225.7,8.48 225.66,8.43 225.62,8.38 225.57,8.33 225.53,8.27 225.49,8.22 225.45,8.17 225.41,8.11 225.37,8.06 225.33,8 225.29,7.95 225.25,7.89 225.21,7.83 225.17,7.78 225.13,7.72 225.09,7.66 225.06,7.6 225.02,7.54 224.98,7.48 224.94,7.42 224.91,7.35 224.87,7.29 224.83,7.23 224.8,7.17 224.76,7.1 224.73,7.04 224.69,6.97 224.66,6.91 224.63,6.84 224.59,6.77 224.56,6.71 224.53,6.64 224.5,6.57 224.46,6.5 224.43,6.43 224.4,6.36 224.37,6.29 224.34,6.22 224.31,6.15 224.28,6.08 224.25,6.01 224.22,5.93 224.19,5.86 224.17,5.79 224.14,5.71 224.11,5.64 224.08,5.56 224.06,5.49 224.03,5.41 224.01,5.34 223.98,5.26 223.96,5.18 223.93,5.11 223.91,5.03 223.89,4.95 223.86,4.87 223.84,4.79 223.82,4.72 223.8,4.64 223.78,4.56 223.76,4.48 223.73,4.4 223.72,4.32 223.7,4.23 223.68,4.15 223.66,4.07 223.64,3.99 223.62,3.91 223.61,3.82 223.59,3.74 223.57,3.66 223.56,3.58 223.54,3.49 223.53,3.41 223.51,3.32 223.5,3.24 223.49,3.15 223.47,3.07 223.46,2.98 223.45,2.9 223.44,2.81 223.43,2.73 223.42,2.64 223.41,2.56 223.4,2.47 223.39,2.38 223.38,2.3 223.37,2.21 223.36,2.12 223.36,2.03 223.35,1.95 223.34,1.86 223.34,1.77 223.33,1.68 223.33,1.6 223.32,1.51 223.32,1.42 223.32,1.33 223.31,1.24 223.31,1.15 223.31,1.07 223.31,0.98 223.31,0.89 223.31,0.8 223.31,0.71 223.31,0.62 223.31,0.53 223.31,0.44 223.31,0.36 223.31,0.27 223.32,0.18 223.32,0.09 223.33,0 223.33,-0.09 223.33,-0.18 223.34,-0.27 223.35,-0.36 223.35,-0.44 223.36,-0.53 223.37,-0.62 223.38,-0.71 223.38,-0.8 223.39,-0.89 223.4,-0.98 223.41,-1.07 223.42,-1.15 223.43,-1.24 223.45,-1.33 223.46,-1.42 223.47,-1.51 223.48,-1.59 223.5,-1.68 223.51,-1.77 223.52,-1.86 223.54,-1.94 223.56,-2.03 223.57,-2.12 223.59,-2.21 223.6,-2.29 223.62,-2.38 223.64,-2.46 223.66,-2.55 223.68,-2.64 223.7,-2.72 223.72,-2.81 223.74,-2.89 223.76,-2.98 223.78,-3.06 223.8,-3.15 223.82,-3.23 223.84,-3.32 223.87,-3.4 223.89,-3.48 223.91,-3.57 223.94,-3.65 223.96,-3.73 223.99,-3.81 224.01,-3.9 224.04,-3.98 224.07,-4.06 224.09,-4.14 224.12,-4.22 224.15,-4.3 224.18,-4.38 224.21,-4.46 224.24,-4.54 224.26,-4.62 224.3,-4.7 224.33,-4.78 224.36,-4.86 224.39,-4.94 224.42,-5.01 224.45,-5.09 224.49,-5.17 224.52,-5.24 224.55,-5.32 224.59,-5.39 224.62,-5.47 224.66,-5.54 224.69,-5.62 224.73,-5.69 224.76,-5.76 224.8,-5.84 224.84,-5.91 224.87,-5.98 224.91,-6.05 224.95,-6.12 224.99,-6.19 225.03,-6.26 225.06,-6.33 225.1,-6.4 225.14,-6.47 225.18,-6.54 225.23,-6.61 225.27,-6.67 225.31,-6.74 225.35,-6.81 225.39,-6.87 225.43,-6.94 225.48,-7 225.52,-7.07 225.56,-7.13 225.61,-7.19 225.65,-7.25 225.7,-7.32 225.74,-7.38 225.79,-7.44 225.83,-7.5 225.88,-7.56 225.93,-7.62 225.97,-7.67 226.02,-7.73 226.07,-7.79 226.11,-7.85 226.16,-7.9 226.21,-7.96 226.26,-8.01 226.31,-8.07 226.36,-8.12 226.41,-8.17 226.46,-8.22 226.51,-8.28 226.56,-8.33 226.61,-8.38 226.66,-8.43 226.71,-8.48 226.76,-8.52 226.81,-8.57 226.86,-8.62 226.92,-8.66 226.97,-8.71 227.02,-8.76 227.07,-8.8 227.13,-8.84 227.18,-8.89 227.23,-8.93 227.29,-8.97 227.34,-9.01 227.4,-9.05 227.45,-9.09 227.51,-9.13 227.56,-9.17 227.62,-9.21 227.67,-9.24 227.73,-9.28 227.78,-9.32 227.84,-9.35 227.89,-9.38 227.95,-9.42 228.01,-9.45 228.06,-9.48 228.12,-9.51 228.18,-9.54 228.23,-9.57 228.29,-9.6 228.35,-9.63 228.41,-9.66 228.47,-9.68 228.52,-9.71 228.58,-9.74 228.64,-9.76 228.7,-9.78 228.76,-9.81 228.82,-9.83 228.87,-9.85 228.93,-9.87 228.99,-9.89 229.05,-9.91 229.11,-9.93 229.17,-9.95 229.23,-9.96 229.29,-9.98 229.35,-10 229.41,-10.01 229.47,-10.02 229.53,-10.04 229.59,-10.05 229.65,-10.06 229.71,-10.07 229.77,-10.08 229.83,-10.09 229.89,-10.1 229.95,-10.11 230.01,-10.12 230.07,-10.12 230.13,-10.13 230.19,-10.13 230.25,-10.14 230.31,-10.14 230.37,-10.14 230.43,-10.14 230.49,-10.14 230.55,-10.14 230.61,-10.14 230.67,-10.14" stroke-width="1.35" stroke="#1a1a1a"/><path d="M232.15,10.04 232.1,10.04 232.05,10.04 232,10.04 231.95,10.04 231.9,10.03 231.84,10.03 231.79,10.03 231.74,10.02 231.69,10.02 231.64,10.01 231.59,10.01 231.54,10 231.49,9.99 231.43,9.98 231.38,9.97 231.33,9.96 231.28,9.95 231.23,9.94 231.18,9.92 231.13,9.91 231.08,9.9 231.03,9.88 230.98,9.86 230.93,9.85 230.88,9.83 230.83,9.81 230.78,9.79 230.73,9.77 230.68,9.75 230.63,9.73 230.58,9.71 230.53,9.69 230.48,9.66 230.43,9.64 230.38,9.62 230.33,9.59 230.28,9.56 230.23,9.54 230.18,9.51 230.14,9.48 230.09,9.45 230.04,9.42 229.99,9.39 229.94,9.36 229.9,9.33 229.85,9.3 229.8,9.26 229.75,9.23 229.71,9.19 229.66,9.16 229.61,9.12 229.57,9.08 229.52,9.05 229.48,9.01 229.43,8.97 229.39,8.93 229.34,8.89 229.3,8.85 229.25,8.81 229.21,8.77 229.16,8.72 229.12,8.68 229.07,8.63 229.03,8.59 228.99,8.54 228.94,8.5 228.9,8.45 228.86,8.4 228.82,8.35 228.78,8.31 228.73,8.26 228.69,8.21 228.65,8.16 228.61,8.1 228.57,8.05 228.53,8 228.49,7.95 228.45,7.89 228.41,7.84 228.37,7.78 228.33,7.73 228.3,7.67 228.26,7.62 228.22,7.56 228.18,7.5 228.15,7.44 228.11,7.38 228.07,7.32 228.04,7.26 228,7.2 227.96,7.14 227.93,7.08 227.89,7.02 227.86,6.95 227.83,6.89 227.79,6.83 227.76,6.76 227.73,6.7 227.69,6.63 227.66,6.57 227.63,6.5 227.6,6.43 227.57,6.37 227.54,6.3 227.51,6.23 227.48,6.16 227.45,6.09 227.42,6.02 227.39,5.95 227.36,5.88 227.33,5.81 227.3,5.74 227.28,5.67 227.25,5.6 227.22,5.52 227.2,5.45 227.17,5.38 227.15,5.3 227.12,5.23 227.1,5.15 227.07,5.08 227.05,5 227.03,4.93 227,4.85 226.98,4.77 226.96,4.7 226.94,4.62 226.92,4.54 226.9,4.46 226.88,4.38 226.86,4.31 226.84,4.23 226.82,4.15 226.8,4.07 226.78,3.99 226.76,3.91 226.75,3.83 226.73,3.75 226.71,3.66 226.7,3.58 226.68,3.5 226.67,3.42 226.65,3.34 226.64,3.25 226.63,3.17 226.61,3.09 226.6,3.01 226.59,2.92 226.58,2.84 226.57,2.76 226.55,2.67 226.54,2.59 226.53,2.5 226.53,2.42 226.52,2.33 226.51,2.25 226.5,2.16 226.49,2.08 226.49,1.99 226.48,1.91 226.47,1.82 226.47,1.74 226.46,1.65 226.46,1.56 226.45,1.48 226.45,1.39 226.45,1.3 226.45,1.22 226.44,1.13 226.44,1.04 226.44,0.96 226.44,0.87 226.44,0.78 226.44,0.7 226.44,0.61 226.44,0.52 226.44,0.44 226.45,0.35 226.45,0.26 226.45,0.17 226.45,0.09 226.46,-0 226.46,-0.09 226.47,-0.17 226.47,-0.26 226.48,-0.35 226.49,-0.44 226.49,-0.52 226.5,-0.61 226.51,-0.7 226.52,-0.78 226.53,-0.87 226.54,-0.96 226.55,-1.04 226.56,-1.13 226.57,-1.22 226.58,-1.3 226.59,-1.39 226.6,-1.48 226.62,-1.56 226.63,-1.65 226.64,-1.73 226.66,-1.82 226.67,-1.9 226.69,-1.99 226.7,-2.07 226.72,-2.16 226.73,-2.24 226.75,-2.33 226.77,-2.41 226.79,-2.5 226.81,-2.58 226.82,-2.67 226.84,-2.75 226.86,-2.83 226.88,-2.92 226.9,-3 226.93,-3.08 226.95,-3.17 226.97,-3.25 226.99,-3.33 227.01,-3.41 227.04,-3.49 227.06,-3.57 227.09,-3.66 227.11,-3.74 227.14,-3.82 227.16,-3.9 227.19,-3.98 227.22,-4.06 227.24,-4.14 227.27,-4.21 227.3,-4.29 227.33,-4.37 227.35,-4.45 227.38,-4.53 227.41,-4.6 227.44,-4.68 227.47,-4.76 227.51,-4.83 227.54,-4.91 227.57,-4.98 227.6,-5.06 227.63,-5.13 227.67,-5.21 227.7,-5.28 227.73,-5.36 227.77,-5.43 227.8,-5.5 227.84,-5.57 227.87,-5.64 227.91,-5.72 227.94,-5.79 227.98,-5.86 228.02,-5.93 228.06,-6 228.09,-6.07 228.13,-6.13 228.17,-6.2 228.21,-6.27 228.25,-6.34 228.29,-6.4 228.33,-6.47 228.37,-6.54 228.41,-6.6 228.45,-6.67 228.49,-6.73 228.53,-6.79 228.57,-6.86 228.62,-6.92 228.66,-6.98 228.7,-7.04 228.75,-7.1 228.79,-7.16 228.83,-7.22 228.88,-7.28 228.92,-7.34 228.97,-7.4 229.01,-7.46 229.06,-7.51 229.11,-7.57 229.15,-7.63 229.2,-7.68 229.25,-7.74 229.29,-7.79 229.34,-7.85 229.39,-7.9 229.44,-7.95 229.49,-8 229.53,-8.05 229.58,-8.1 229.63,-8.15 229.68,-8.2 229.73,-8.25 229.78,-8.3 229.83,-8.35 229.88,-8.39 229.93,-8.44 229.99,-8.49 230.04,-8.53 230.09,-8.57 230.14,-8.62 230.19,-8.66 230.25,-8.7 230.3,-8.74 230.35,-8.79 230.4,-8.83 230.46,-8.86 230.51,-8.9 230.56,-8.94 230.62,-8.98 230.67,-9.02 230.73,-9.05 230.78,-9.09 230.84,-9.12 230.89,-9.16 230.95,-9.19 231,-9.22 231.06,-9.25 231.11,-9.29 231.17,-9.32 231.22,-9.35 231.28,-9.37 231.34,-9.4 231.39,-9.43 231.45,-9.46 231.51,-9.48 231.56,-9.51 231.62,-9.53 231.68,-9.56 231.73,-9.58 231.79,-9.6 231.85,-9.63 231.91,-9.65 231.96,-9.67 232.02,-9.69 232.08,-9.71 232.14,-9.72 232.2,-9.74 232.25,-9.76 232.31,-9.77 232.37,-9.79 232.43,-9.8 232.49,-9.82 232.55,-9.83 232.61,-9.84 232.66,-9.85 232.72,-9.86 232.78,-9.87 232.84,-9.88 232.9,-9.89 232.96,-9.9 233.02,-9.91 233.08,-9.91 233.14,-9.92 233.19,-9.92 233.25,-9.93 233.31,-9.93 233.37,-9.93 233.43,-9.93 233.49,-9.93 233.55,-9.93 233.61,-9.93 233.67,-9.93" stroke-width="1.35" stroke="#1a1a1a"/><path d="M235.15,9.83 235.1,9.83 235.05,9.83 235,9.83 234.95,9.83 234.9,9.82 234.85,9.82 234.8,9.82 234.75,9.81 234.7,9.81 234.65,9.8 234.6,9.8 234.55,9.79 234.5,9.78 234.45,9.77 234.4,9.76 234.35,9.75 234.3,9.74 234.25,9.73 234.2,9.72 234.15,9.7 234.1,9.69 234.05,9.67 234,9.66 233.95,9.64 233.9,9.62 233.85,9.61 233.8,9.59 233.76,9.57 233.71,9.55 233.66,9.53 233.61,9.51 233.56,9.48 233.51,9.46 233.46,9.44 233.42,9.41 233.37,9.39 233.32,9.36 233.27,9.34 233.23,9.31 233.18,9.28 233.13,9.25 233.08,9.22 233.04,9.19 232.99,9.16 232.94,9.13 232.9,9.1 232.85,9.07 232.81,9.03 232.76,9 232.72,8.97 232.67,8.93 232.62,8.89 232.58,8.86 232.54,8.82 232.49,8.78 232.45,8.74 232.4,8.7 232.36,8.66 232.31,8.62 232.27,8.58 232.23,8.54 232.19,8.5 232.14,8.45 232.1,8.41 232.06,8.36 232.02,8.32 231.97,8.27 231.93,8.23 231.89,8.18 231.85,8.13 231.81,8.08 231.77,8.03 231.73,7.98 231.69,7.93 231.65,7.88 231.61,7.83 231.57,7.78 231.53,7.73 231.49,7.67 231.46,7.62 231.42,7.57 231.38,7.51 231.34,7.46 231.31,7.4 231.27,7.34 231.23,7.29 231.2,7.23 231.16,7.17 231.13,7.11 231.09,7.05 231.06,6.99 231.02,6.93 230.99,6.87 230.96,6.81 230.92,6.75 230.89,6.68 230.86,6.62 230.83,6.56 230.79,6.49 230.76,6.43 230.73,6.36 230.7,6.3 230.67,6.23 230.64,6.17 230.61,6.1 230.58,6.03 230.55,5.96 230.52,5.9 230.5,5.83 230.47,5.76 230.44,5.69 230.41,5.62 230.39,5.55 230.36,5.48 230.33,5.41 230.31,5.33 230.28,5.26 230.26,5.19 230.23,5.12 230.21,5.04 230.19,4.97 230.16,4.9 230.14,4.82 230.12,4.75 230.1,4.67 230.08,4.6 230.06,4.52 230.04,4.45 230.02,4.37 230,4.29 229.98,4.21 229.96,4.14 229.94,4.06 229.92,3.98 229.9,3.9 229.89,3.82 229.87,3.75 229.85,3.67 229.84,3.59 229.82,3.51 229.81,3.43 229.79,3.35 229.78,3.27 229.77,3.19 229.75,3.11 229.74,3.02 229.73,2.94 229.72,2.86 229.7,2.78 229.69,2.7 229.68,2.61 229.67,2.53 229.66,2.45 229.66,2.37 229.65,2.28 229.64,2.2 229.63,2.12 229.62,2.03 229.62,1.95 229.61,1.87 229.61,1.78 229.6,1.7 229.6,1.61 229.59,1.53 229.59,1.45 229.58,1.36 229.58,1.28 229.58,1.19 229.58,1.11 229.57,1.02 229.57,0.94 229.57,0.85 229.57,0.77 229.57,0.68 229.57,0.6 229.57,0.51 229.58,0.43 229.58,0.34 229.58,0.26 229.58,0.17 229.59,0.09 229.59,-0 229.6,-0.09 229.6,-0.17 229.61,-0.26 229.61,-0.34 229.62,-0.43 229.63,-0.51 229.63,-0.6 229.64,-0.68 229.65,-0.77 229.66,-0.85 229.67,-0.94 229.68,-1.02 229.69,-1.11 229.7,-1.19 229.71,-1.28 229.72,-1.36 229.73,-1.44 229.75,-1.53 229.76,-1.61 229.77,-1.7 229.79,-1.78 229.8,-1.86 229.82,-1.95 229.83,-2.03 229.85,-2.11 229.86,-2.2 229.88,-2.28 229.9,-2.36 229.92,-2.45 229.93,-2.53 229.95,-2.61 229.97,-2.69 229.99,-2.77 230.01,-2.86 230.03,-2.94 230.05,-3.02 230.07,-3.1 230.1,-3.18 230.12,-3.26 230.14,-3.34 230.16,-3.42 230.19,-3.5 230.21,-3.58 230.24,-3.66 230.26,-3.74 230.29,-3.81 230.31,-3.89 230.34,-3.97 230.36,-4.05 230.39,-4.13 230.42,-4.2 230.45,-4.28 230.47,-4.35 230.5,-4.43 230.53,-4.51 230.56,-4.58 230.59,-4.66 230.62,-4.73 230.65,-4.81 230.68,-4.88 230.72,-4.95 230.75,-5.03 230.78,-5.1 230.81,-5.17 230.85,-5.24 230.88,-5.31 230.91,-5.38 230.95,-5.46 230.98,-5.53 231.02,-5.6 231.05,-5.66 231.09,-5.73 231.13,-5.8 231.16,-5.87 231.2,-5.94 231.24,-6 231.27,-6.07 231.31,-6.14 231.35,-6.2 231.39,-6.27 231.43,-6.33 231.47,-6.4 231.51,-6.46 231.55,-6.52 231.59,-6.59 231.63,-6.65 231.67,-6.71 231.71,-6.77 231.76,-6.83 231.8,-6.89 231.84,-6.95 231.88,-7.01 231.93,-7.07 231.97,-7.13 232.01,-7.19 232.06,-7.24 232.1,-7.3 232.15,-7.36 232.19,-7.41 232.24,-7.47 232.28,-7.52 232.33,-7.57 232.38,-7.63 232.42,-7.68 232.47,-7.73 232.52,-7.78 232.57,-7.83 232.61,-7.88 232.66,-7.93 232.71,-7.98 232.76,-8.03 232.81,-8.08 232.86,-8.12 232.91,-8.17 232.96,-8.22 233.01,-8.26 233.06,-8.31 233.11,-8.35 233.16,-8.39 233.21,-8.44 233.26,-8.48 233.31,-8.52 233.36,-8.56 233.41,-8.6 233.47,-8.64 233.52,-8.68 233.57,-8.72 233.62,-8.75 233.68,-8.79 233.73,-8.83 233.78,-8.86 233.84,-8.9 233.89,-8.93 233.94,-8.96 234,-8.99 234.05,-9.03 234.11,-9.06 234.16,-9.09 234.21,-9.12 234.27,-9.15 234.32,-9.18 234.38,-9.2 234.43,-9.23 234.49,-9.26 234.55,-9.28 234.6,-9.31 234.66,-9.33 234.71,-9.36 234.77,-9.38 234.83,-9.4 234.88,-9.42 234.94,-9.44 235,-9.46 235.05,-9.48 235.11,-9.5 235.17,-9.52 235.22,-9.53 235.28,-9.55 235.34,-9.57 235.39,-9.58 235.45,-9.59 235.51,-9.61 235.57,-9.62 235.62,-9.63 235.68,-9.64 235.74,-9.65 235.8,-9.66 235.85,-9.67 235.91,-9.68 235.97,-9.69 236.03,-9.7 236.09,-9.7 236.14,-9.71 236.2,-9.71 236.26,-9.72 236.32,-9.72 236.38,-9.72 236.43,-9.72 236.49,-9.72 236.55,-9.72 236.61,-9.72 236.67,-9.72" stroke-width="1.35" stroke="#1a1a1a"/><path d="M238.15,9.62 238.1,9.62 238.05,9.62 238,9.62 237.95,9.62 237.9,9.61 237.85,9.61 237.8,9.61 237.76,9.6 237.71,9.6 237.66,9.59 237.61,9.59 237.56,9.58 237.51,9.57 237.46,9.56 237.41,9.55 237.36,9.54 237.32,9.53 237.27,9.52 237.22,9.51 237.17,9.49 237.12,9.48 237.07,9.47 237.03,9.45 236.98,9.43 236.93,9.42 236.88,9.4 236.83,9.38 236.79,9.36 236.74,9.34 236.69,9.32 236.64,9.3 236.6,9.28 236.55,9.26 236.5,9.24 236.45,9.21 236.41,9.19 236.36,9.16 236.31,9.14 236.27,9.11 236.22,9.08 236.18,9.06 236.13,9.03 236.08,9 236.04,8.97 235.99,8.94 235.95,8.91 235.9,8.87 235.86,8.84 235.81,8.81 235.77,8.77 235.73,8.74 235.68,8.7 235.64,8.67 235.59,8.63 235.55,8.59 235.51,8.56 235.46,8.52 235.42,8.48 235.38,8.44 235.34,8.4 235.29,8.36 235.25,8.31 235.21,8.27 235.17,8.23 235.13,8.18 235.09,8.14 235.05,8.1 235.01,8.05 234.97,8 234.93,7.96 234.89,7.91 234.85,7.86 234.81,7.81 234.77,7.76 234.73,7.71 234.69,7.66 234.65,7.61 234.62,7.56 234.58,7.51 234.54,7.46 234.5,7.4 234.47,7.35 234.43,7.3 234.4,7.24 234.36,7.18 234.32,7.13 234.29,7.07 234.25,7.02 234.22,6.96 234.19,6.9 234.15,6.84 234.12,6.78 234.09,6.72 234.05,6.66 234.02,6.6 233.99,6.54 233.96,6.48 233.92,6.42 233.89,6.35 233.86,6.29 233.83,6.23 233.8,6.16 233.77,6.1 233.74,6.03 233.71,5.97 233.69,5.9 233.66,5.84 233.63,5.77 233.6,5.7 233.58,5.63 233.55,5.57 233.52,5.5 233.5,5.43 233.47,5.36 233.45,5.29 233.42,5.22 233.4,5.15 233.37,5.08 233.35,5.01 233.33,4.94 233.3,4.86 233.28,4.79 233.26,4.72 233.24,4.65 233.22,4.57 233.19,4.5 233.17,4.42 233.15,4.35 233.13,4.27 233.12,4.2 233.1,4.12 233.08,4.05 233.06,3.97 233.04,3.9 233.03,3.82 233.01,3.74 232.99,3.67 232.98,3.59 232.96,3.51 232.95,3.43 232.93,3.35 232.92,3.28 232.91,3.2 232.89,3.12 232.88,3.04 232.87,2.96 232.86,2.88 232.84,2.8 232.83,2.72 232.82,2.64 232.81,2.56 232.8,2.48 232.79,2.4 232.78,2.32 232.78,2.23 232.77,2.15 232.76,2.07 232.75,1.99 232.75,1.91 232.74,1.83 232.74,1.74 232.73,1.66 232.73,1.58 232.72,1.5 232.72,1.41 232.72,1.33 232.71,1.25 232.71,1.17 232.71,1.08 232.71,1 232.71,0.92 232.71,0.83 232.71,0.75 232.71,0.67 232.71,0.58 232.71,0.5 232.71,0.42 232.71,0.33 232.72,0.25 232.72,0.17 232.72,0.08 232.73,-0 232.73,-0.08 232.74,-0.17 232.74,-0.25 232.75,-0.33 232.75,-0.42 232.76,-0.5 232.77,-0.58 232.78,-0.67 232.78,-0.75 232.79,-0.83 232.8,-0.92 232.81,-1 232.82,-1.08 232.83,-1.17 232.84,-1.25 232.85,-1.33 232.87,-1.41 232.88,-1.5 232.89,-1.58 232.91,-1.66 232.92,-1.74 232.93,-1.82 232.95,-1.91 232.96,-1.99 232.98,-2.07 232.99,-2.15 233.01,-2.23 233.03,-2.31 233.05,-2.39 233.06,-2.47 233.08,-2.55 233.1,-2.63 233.12,-2.71 233.14,-2.79 233.16,-2.87 233.18,-2.95 233.2,-3.03 233.22,-3.11 233.24,-3.19 233.27,-3.27 233.29,-3.35 233.31,-3.42 233.34,-3.5 233.36,-3.58 233.38,-3.66 233.41,-3.73 233.43,-3.81 233.46,-3.88 233.49,-3.96 233.51,-4.04 233.54,-4.11 233.57,-4.19 233.59,-4.26 233.62,-4.34 233.65,-4.41 233.68,-4.48 233.71,-4.56 233.74,-4.63 233.77,-4.7 233.8,-4.77 233.83,-4.85 233.86,-4.92 233.89,-4.99 233.93,-5.06 233.96,-5.13 233.99,-5.2 234.02,-5.27 234.06,-5.34 234.09,-5.41 234.13,-5.47 234.16,-5.54 234.2,-5.61 234.23,-5.68 234.27,-5.74 234.3,-5.81 234.34,-5.88 234.38,-5.94 234.42,-6.01 234.45,-6.07 234.49,-6.13 234.53,-6.2 234.57,-6.26 234.61,-6.32 234.65,-6.38 234.69,-6.45 234.73,-6.51 234.77,-6.57 234.81,-6.63 234.85,-6.69 234.89,-6.74 234.93,-6.8 234.98,-6.86 235.02,-6.92 235.06,-6.98 235.1,-7.03 235.15,-7.09 235.19,-7.14 235.24,-7.2 235.28,-7.25 235.32,-7.3 235.37,-7.36 235.41,-7.41 235.46,-7.46 235.51,-7.51 235.55,-7.56 235.6,-7.61 235.64,-7.66 235.69,-7.71 235.74,-7.76 235.79,-7.81 235.83,-7.86 235.88,-7.9 235.93,-7.95 235.98,-7.99 236.03,-8.04 236.08,-8.08 236.13,-8.13 236.17,-8.17 236.22,-8.21 236.27,-8.25 236.32,-8.29 236.37,-8.33 236.43,-8.37 236.48,-8.41 236.53,-8.45 236.58,-8.49 236.63,-8.53 236.68,-8.56 236.73,-8.6 236.79,-8.63 236.84,-8.67 236.89,-8.7 236.94,-8.74 236.99,-8.77 237.05,-8.8 237.1,-8.83 237.15,-8.86 237.21,-8.89 237.26,-8.92 237.31,-8.95 237.37,-8.98 237.42,-9 237.48,-9.03 237.53,-9.06 237.59,-9.08 237.64,-9.11 237.7,-9.13 237.75,-9.15 237.81,-9.18 237.86,-9.2 237.92,-9.22 237.97,-9.24 238.03,-9.26 238.08,-9.28 238.14,-9.29 238.19,-9.31 238.25,-9.33 238.31,-9.34 238.36,-9.36 238.42,-9.37 238.47,-9.39 238.53,-9.4 238.59,-9.41 238.64,-9.42 238.7,-9.44 238.76,-9.45 238.81,-9.45 238.87,-9.46 238.93,-9.47 238.98,-9.48 239.04,-9.49 239.1,-9.49 239.15,-9.5 239.21,-9.5 239.27,-9.5 239.32,-9.51 239.38,-9.51 239.44,-9.51 239.49,-9.51 239.55,-9.51 239.61,-9.51 239.66,-9.51" stroke-width="1.35" stroke="#1a1a1a"/><path d="M241.15,9.41 241.1,9.41 241.05,9.41 241,9.41 240.95,9.41 240.91,9.4 240.86,9.4 240.81,9.4 240.76,9.39 240.71,9.39 240.67,9.38 240.62,9.38 240.57,9.37 240.52,9.36 240.48,9.35 240.43,9.34 240.38,9.33 240.33,9.32 240.29,9.31 240.24,9.3 240.19,9.29 240.14,9.27 240.1,9.26 240.05,9.24 240,9.23 239.96,9.21 239.91,9.19 239.86,9.18 239.82,9.16 239.77,9.14 239.72,9.12 239.68,9.1 239.63,9.08 239.58,9.06 239.54,9.03 239.49,9.01 239.45,8.99 239.4,8.96 239.36,8.94 239.31,8.91 239.27,8.88 239.22,8.86 239.18,8.83 239.13,8.8 239.09,8.77 239.04,8.74 239,8.71 238.95,8.68 238.91,8.65 238.87,8.61 238.82,8.58 238.78,8.55 238.74,8.51 238.69,8.48 238.65,8.44 238.61,8.4 238.57,8.37 238.53,8.33 238.48,8.29 238.44,8.25 238.4,8.21 238.36,8.17 238.32,8.13 238.28,8.09 238.24,8.05 238.2,8.01 238.16,7.96 238.12,7.92 238.08,7.87 238.04,7.83 238,7.78 237.96,7.74 237.92,7.69 237.88,7.64 237.85,7.59 237.81,7.54 237.77,7.5 237.73,7.45 237.7,7.4 237.66,7.34 237.62,7.29 237.59,7.24 237.55,7.19 237.52,7.14 237.48,7.08 237.45,7.03 237.41,6.97 237.38,6.92 237.35,6.86 237.31,6.81 237.28,6.75 237.25,6.69 237.21,6.63 237.18,6.57 237.15,6.52 237.12,6.46 237.09,6.4 237.05,6.34 237.02,6.28 236.99,6.21 236.96,6.15 236.93,6.09 236.9,6.03 236.88,5.96 236.85,5.9 236.82,5.84 236.79,5.77 236.76,5.71 236.74,5.64 236.71,5.58 236.68,5.51 236.66,5.44 236.63,5.38 236.61,5.31 236.58,5.24 236.56,5.17 236.53,5.11 236.51,5.04 236.49,4.97 236.46,4.9 236.44,4.83 236.42,4.76 236.4,4.69 236.37,4.61 236.35,4.54 236.33,4.47 236.31,4.4 236.29,4.33 236.27,4.25 236.25,4.18 236.24,4.11 236.22,4.03 236.2,3.96 236.18,3.89 236.17,3.81 236.15,3.74 236.13,3.66 236.12,3.58 236.1,3.51 236.09,3.43 236.07,3.36 236.06,3.28 236.04,3.2 236.03,3.13 236.02,3.05 236.01,2.97 235.99,2.89 235.98,2.82 235.97,2.74 235.96,2.66 235.95,2.58 235.94,2.5 235.93,2.42 235.92,2.34 235.91,2.27 235.91,2.19 235.9,2.11 235.89,2.03 235.89,1.95 235.88,1.87 235.87,1.79 235.87,1.71 235.86,1.63 235.86,1.54 235.85,1.46 235.85,1.38 235.85,1.3 235.85,1.22 235.84,1.14 235.84,1.06 235.84,0.98 235.84,0.9 235.84,0.82 235.84,0.73 235.84,0.65 235.84,0.57 235.84,0.49 235.84,0.41 235.85,0.33 235.85,0.24 235.85,0.16 235.86,0.08 235.86,-0 235.86,-0.08 235.87,-0.16 235.88,-0.24 235.88,-0.33 235.89,-0.41 235.89,-0.49 235.9,-0.57 235.91,-0.65 235.92,-0.73 235.93,-0.82 235.94,-0.9 235.94,-0.98 235.95,-1.06 235.97,-1.14 235.98,-1.22 235.99,-1.3 236,-1.38 236.01,-1.46 236.02,-1.54 236.04,-1.62 236.05,-1.7 236.06,-1.78 236.08,-1.86 236.09,-1.94 236.11,-2.02 236.13,-2.1 236.14,-2.18 236.16,-2.26 236.18,-2.34 236.19,-2.42 236.21,-2.5 236.23,-2.58 236.25,-2.65 236.27,-2.73 236.29,-2.81 236.31,-2.89 236.33,-2.96 236.35,-3.04 236.37,-3.12 236.39,-3.2 236.41,-3.27 236.44,-3.35 236.46,-3.42 236.48,-3.5 236.51,-3.57 236.53,-3.65 236.56,-3.72 236.58,-3.8 236.61,-3.87 236.63,-3.95 236.66,-4.02 236.69,-4.09 236.71,-4.17 236.74,-4.24 236.77,-4.31 236.8,-4.38 236.83,-4.46 236.86,-4.53 236.89,-4.6 236.92,-4.67 236.95,-4.74 236.98,-4.81 237.01,-4.88 237.04,-4.95 237.07,-5.02 237.1,-5.08 237.14,-5.15 237.17,-5.22 237.2,-5.29 237.24,-5.35 237.27,-5.42 237.31,-5.49 237.34,-5.55 237.38,-5.62 237.41,-5.68 237.45,-5.75 237.48,-5.81 237.52,-5.87 237.56,-5.94 237.59,-6 237.63,-6.06 237.67,-6.12 237.71,-6.18 237.75,-6.24 237.79,-6.3 237.83,-6.36 237.87,-6.42 237.91,-6.48 237.95,-6.54 237.99,-6.6 238.03,-6.65 238.07,-6.71 238.11,-6.77 238.15,-6.82 238.19,-6.88 238.24,-6.93 238.28,-6.98 238.32,-7.04 238.37,-7.09 238.41,-7.14 238.45,-7.2 238.5,-7.25 238.54,-7.3 238.59,-7.35 238.63,-7.4 238.68,-7.45 238.72,-7.49 238.77,-7.54 238.82,-7.59 238.86,-7.64 238.91,-7.68 238.96,-7.73 239,-7.77 239.05,-7.82 239.1,-7.86 239.15,-7.9 239.2,-7.95 239.24,-7.99 239.29,-8.03 239.34,-8.07 239.39,-8.11 239.44,-8.15 239.49,-8.19 239.54,-8.23 239.59,-8.27 239.64,-8.3 239.69,-8.34 239.74,-8.37 239.79,-8.41 239.84,-8.44 239.89,-8.48 239.94,-8.51 240,-8.54 240.05,-8.57 240.1,-8.61 240.15,-8.64 240.2,-8.67 240.26,-8.7 240.31,-8.72 240.36,-8.75 240.41,-8.78 240.47,-8.81 240.52,-8.83 240.57,-8.86 240.63,-8.88 240.68,-8.9 240.73,-8.93 240.79,-8.95 240.84,-8.97 240.89,-8.99 240.95,-9.01 241,-9.03 241.06,-9.05 241.11,-9.07 241.17,-9.09 241.22,-9.11 241.28,-9.12 241.33,-9.14 241.39,-9.15 241.44,-9.17 241.5,-9.18 241.55,-9.19 241.61,-9.2 241.66,-9.22 241.72,-9.23 241.77,-9.24 241.83,-9.25 241.88,-9.25 241.94,-9.26 241.99,-9.27 242.05,-9.28 242.1,-9.28 242.16,-9.29 242.22,-9.29 242.27,-9.29 242.33,-9.3 242.38,-9.3 242.44,-9.3 242.49,-9.3 242.55,-9.3 242.61,-9.3 242.66,-9.3" stroke-width="1.35" stroke="#1a1a1a"/>
<path d="M218.36,11.01 218.31,11.01 218.25,11.01 218.19,11.01 218.14,11 218.08,11 218.02,11 217.97,11 217.91,10.99 217.85,10.98 217.8,10.98 217.74,10.97 217.68,10.96 217.63,10.95 217.57,10.94 217.51,10.93 217.46,10.92 217.4,10.91 217.34,10.9 217.29,10.88 217.23,10.87 217.18,10.85 217.12,10.83 217.06,10.82 217.01,10.8 216.95,10.78 216.9,10.76 216.84,10.74 216.79,10.72 216.73,10.7 216.68,10.67 216.62,10.65 216.57,10.62 216.51,10.6 216.46,10.57 216.4,10.54 216.35,10.52 216.3,10.49 216.24,10.46 216.19,10.43 216.14,10.4 216.08,10.36 216.03,10.33 215.98,10.3 215.92,10.26 215.87,10.23 215.82,10.19 215.77,10.16 215.71,10.12 215.66,10.08 215.61,10.04 215.56,10 215.51,9.96 215.46,9.92 215.41,9.88 215.36,9.84 215.31,9.79 215.26,9.75 215.21,9.7 215.16,9.66 215.11,9.61 215.06,9.57 215.01,9.52 214.96,9.47 214.91,9.42 214.87,9.37 214.82,9.32 214.77,9.27 214.72,9.22 214.68,9.16 214.63,9.11 214.59,9.05 214.54,9 214.49,8.94 214.45,8.89 214.4,8.83 214.36,8.77 214.32,8.72 214.27,8.66 214.23,8.6 214.19,8.54 214.14,8.48 214.1,8.41 214.06,8.35 214.02,8.29 213.97,8.23 213.93,8.16 213.89,8.1 213.85,8.03 213.81,7.97 213.77,7.9 213.73,7.83 213.69,7.76 213.66,7.7 213.62,7.63 213.58,7.56 213.54,7.49 213.51,7.42 213.47,7.35 213.43,7.27 213.4,7.2 213.36,7.13 213.33,7.06 213.29,6.98 213.26,6.91 213.22,6.83 213.19,6.76 213.16,6.68 213.13,6.61 213.09,6.53 213.06,6.45 213.03,6.37 213,6.29 212.97,6.22 212.94,6.14 212.91,6.06 212.88,5.98 212.85,5.9 212.82,5.81 212.8,5.73 212.77,5.65 212.74,5.57 212.72,5.49 212.69,5.4 212.67,5.32 212.64,5.23 212.62,5.15 212.59,5.07 212.57,4.98 212.55,4.89 212.52,4.81 212.5,4.72 212.48,4.64 212.46,4.55 212.44,4.46 212.42,4.37 212.4,4.29 212.38,4.2 212.36,4.11 212.34,4.02 212.32,3.93 212.31,3.84 212.29,3.75 212.27,3.66 212.26,3.57 212.24,3.48 212.23,3.39 212.21,3.3 212.2,3.21 212.19,3.11 212.17,3.02 212.16,2.93 212.15,2.84 212.14,2.74 212.13,2.65 212.12,2.56 212.11,2.47 212.1,2.37 212.09,2.28 212.08,2.19 212.08,2.09 212.07,2 212.06,1.9 212.06,1.81 212.05,1.71 212.05,1.62 212.04,1.53 212.04,1.43 212.03,1.34 212.03,1.24 212.03,1.15 212.03,1.05 212.03,0.95 212.03,0.86 212.03,0.76 212.03,0.67 212.03,0.57 212.03,0.48 212.03,0.38 212.03,0.29 212.04,0.19 212.04,0.1 212.04,0 212.05,-0.1 212.05,-0.19 212.06,-0.29 212.07,-0.38 212.07,-0.48 212.08,-0.57 212.09,-0.67 212.1,-0.76 212.1,-0.86 212.11,-0.95 212.12,-1.05 212.13,-1.14 212.15,-1.24 212.16,-1.33 212.17,-1.43 212.18,-1.52 212.19,-1.62 212.21,-1.71 212.22,-1.81 212.24,-1.9 212.25,-2 212.27,-2.09 212.28,-2.18 212.3,-2.28 212.32,-2.37 212.34,-2.46 212.35,-2.56 212.37,-2.65 212.39,-2.74 212.41,-2.83 212.43,-2.93 212.45,-3.02 212.47,-3.11 212.5,-3.2 212.52,-3.29 212.54,-3.38 212.56,-3.47 212.59,-3.56 212.61,-3.65 212.64,-3.74 212.66,-3.83 212.69,-3.92 212.71,-4.01 212.74,-4.1 212.77,-4.19 212.8,-4.27 212.82,-4.36 212.85,-4.45 212.88,-4.54 212.91,-4.62 212.94,-4.71 212.97,-4.8 213,-4.88 213.04,-4.97 213.07,-5.05 213.1,-5.14 213.13,-5.22 213.17,-5.3 213.2,-5.39 213.24,-5.47 213.27,-5.55 213.31,-5.63 213.34,-5.71 213.38,-5.8 213.41,-5.88 213.45,-5.96 213.49,-6.04 213.53,-6.11 213.57,-6.19 213.6,-6.27 213.64,-6.35 213.68,-6.43 213.72,-6.5 213.76,-6.58 213.8,-6.66 213.85,-6.73 213.89,-6.81 213.93,-6.88 213.97,-6.95 214.02,-7.03 214.06,-7.1 214.1,-7.17 214.15,-7.24 214.19,-7.31 214.24,-7.38 214.28,-7.45 214.33,-7.52 214.37,-7.59 214.42,-7.66 214.47,-7.73 214.52,-7.79 214.56,-7.86 214.61,-7.93 214.66,-7.99 214.71,-8.06 214.76,-8.12 214.81,-8.18 214.86,-8.25 214.91,-8.31 214.96,-8.37 215.01,-8.43 215.06,-8.49 215.11,-8.55 215.16,-8.61 215.21,-8.67 215.27,-8.72 215.32,-8.78 215.37,-8.84 215.43,-8.89 215.48,-8.95 215.53,-9 215.59,-9.05 215.64,-9.11 215.7,-9.16 215.75,-9.21 215.81,-9.26 215.86,-9.31 215.92,-9.36 215.98,-9.41 216.03,-9.46 216.09,-9.5 216.15,-9.55 216.2,-9.6 216.26,-9.64 216.32,-9.68 216.38,-9.73 216.44,-9.77 216.49,-9.81 216.55,-9.85 216.61,-9.89 216.67,-9.93 216.73,-9.97 216.79,-10.01 216.85,-10.05 216.91,-10.08 216.97,-10.12 217.03,-10.15 217.09,-10.19 217.15,-10.22 217.21,-10.26 217.27,-10.29 217.34,-10.32 217.4,-10.35 217.46,-10.38 217.52,-10.41 217.58,-10.43 217.64,-10.46 217.71,-10.49 217.77,-10.51 217.83,-10.54 217.89,-10.56 217.96,-10.59 218.02,-10.61 218.08,-10.63 218.15,-10.65 218.21,-10.67 218.27,-10.69 218.34,-10.71 218.4,-10.73 218.46,-10.74 218.53,-10.76 218.59,-10.77 218.66,-10.79 218.72,-10.8 218.78,-10.81 218.85,-10.82 218.91,-10.84 218.98,-10.85 219.04,-10.85 219.1,-10.86 219.17,-10.87 219.23,-10.88 219.3,-10.88 219.36,-10.89 219.43,-10.89 219.49,-10.9 219.56,-10.9 219.62,-10.9 219.69,-10.9 219.75,-10.9 219.81,-10.9 219.88,-10.9" stroke-width="0.8" stroke="#2a2a2a"/><path d="M221.36,10.8 221.31,10.8 221.25,10.8 221.19,10.8 221.14,10.79 221.08,10.79 221.03,10.79 220.97,10.78 220.92,10.78 220.86,10.77 220.81,10.77 220.75,10.76 220.69,10.75 220.64,10.74 220.58,10.73 220.53,10.72 220.47,10.71 220.42,10.7 220.36,10.69 220.31,10.67 220.25,10.66 220.2,10.64 220.14,10.63 220.09,10.61 220.03,10.59 219.98,10.57 219.93,10.55 219.87,10.53 219.82,10.51 219.76,10.49 219.71,10.47 219.66,10.44 219.6,10.42 219.55,10.4 219.5,10.37 219.44,10.34 219.39,10.32 219.34,10.29 219.28,10.26 219.23,10.23 219.18,10.2 219.13,10.17 219.07,10.13 219.02,10.1 218.97,10.07 218.92,10.03 218.87,10 218.82,9.96 218.77,9.93 218.72,9.89 218.67,9.85 218.61,9.81 218.56,9.77 218.52,9.73 218.47,9.69 218.42,9.65 218.37,9.61 218.32,9.56 218.27,9.52 218.22,9.47 218.17,9.43 218.13,9.38 218.08,9.33 218.03,9.29 217.98,9.24 217.94,9.19 217.89,9.14 217.84,9.09 217.8,9.04 217.75,8.99 217.71,8.93 217.66,8.88 217.62,8.83 217.57,8.77 217.53,8.72 217.48,8.66 217.44,8.61 217.4,8.55 217.35,8.49 217.31,8.43 217.27,8.37 217.23,8.31 217.19,8.25 217.14,8.19 217.1,8.13 217.06,8.07 217.02,8.01 216.98,7.94 216.94,7.88 216.9,7.81 216.87,7.75 216.83,7.68 216.79,7.62 216.75,7.55 216.71,7.48 216.68,7.41 216.64,7.34 216.6,7.28 216.57,7.21 216.53,7.14 216.5,7.06 216.46,6.99 216.43,6.92 216.4,6.85 216.36,6.78 216.33,6.7 216.3,6.63 216.26,6.55 216.23,6.48 216.2,6.4 216.17,6.33 216.14,6.25 216.11,6.17 216.08,6.1 216.05,6.02 216.02,5.94 215.99,5.86 215.97,5.78 215.94,5.7 215.91,5.62 215.88,5.54 215.86,5.46 215.83,5.38 215.81,5.3 215.78,5.22 215.76,5.13 215.73,5.05 215.71,4.97 215.69,4.88 215.66,4.8 215.64,4.72 215.62,4.63 215.6,4.55 215.58,4.46 215.56,4.38 215.54,4.29 215.52,4.2 215.5,4.12 215.48,4.03 215.47,3.94 215.45,3.85 215.43,3.77 215.42,3.68 215.4,3.59 215.38,3.5 215.37,3.41 215.36,3.32 215.34,3.23 215.33,3.14 215.32,3.05 215.3,2.96 215.29,2.87 215.28,2.78 215.27,2.69 215.26,2.6 215.25,2.51 215.24,2.42 215.23,2.33 215.22,2.24 215.21,2.14 215.21,2.05 215.2,1.96 215.19,1.87 215.19,1.77 215.18,1.68 215.18,1.59 215.17,1.5 215.17,1.4 215.17,1.31 215.16,1.22 215.16,1.12 215.16,1.03 215.16,0.94 215.16,0.84 215.16,0.75 215.16,0.66 215.16,0.56 215.16,0.47 215.16,0.37 215.17,0.28 215.17,0.19 215.17,0.09 215.18,0 215.18,-0.09 215.19,-0.19 215.19,-0.28 215.2,-0.37 215.21,-0.47 215.21,-0.56 215.22,-0.66 215.23,-0.75 215.24,-0.84 215.25,-0.94 215.26,-1.03 215.27,-1.12 215.28,-1.22 215.29,-1.31 215.3,-1.4 215.31,-1.49 215.33,-1.59 215.34,-1.68 215.35,-1.77 215.37,-1.86 215.38,-1.96 215.4,-2.05 215.41,-2.14 215.43,-2.23 215.45,-2.32 215.47,-2.42 215.48,-2.51 215.5,-2.6 215.52,-2.69 215.54,-2.78 215.56,-2.87 215.58,-2.96 215.6,-3.05 215.62,-3.14 215.65,-3.23 215.67,-3.32 215.69,-3.41 215.71,-3.49 215.74,-3.58 215.76,-3.67 215.79,-3.76 215.81,-3.85 215.84,-3.93 215.87,-4.02 215.89,-4.11 215.92,-4.19 215.95,-4.28 215.98,-4.36 216,-4.45 216.03,-4.53 216.06,-4.62 216.09,-4.7 216.12,-4.79 216.16,-4.87 216.19,-4.95 216.22,-5.04 216.25,-5.12 216.28,-5.2 216.32,-5.28 216.35,-5.36 216.39,-5.44 216.42,-5.52 216.46,-5.6 216.49,-5.68 216.53,-5.76 216.56,-5.84 216.6,-5.92 216.64,-6 216.68,-6.07 216.71,-6.15 216.75,-6.23 216.79,-6.3 216.83,-6.38 216.87,-6.45 216.91,-6.53 216.95,-6.6 216.99,-6.67 217.03,-6.75 217.08,-6.82 217.12,-6.89 217.16,-6.96 217.2,-7.03 217.25,-7.1 217.29,-7.17 217.34,-7.24 217.38,-7.31 217.43,-7.38 217.47,-7.45 217.52,-7.51 217.56,-7.58 217.61,-7.64 217.66,-7.71 217.7,-7.77 217.75,-7.84 217.8,-7.9 217.85,-7.96 217.9,-8.03 217.94,-8.09 217.99,-8.15 218.04,-8.21 218.09,-8.27 218.14,-8.33 218.19,-8.38 218.24,-8.44 218.3,-8.5 218.35,-8.56 218.4,-8.61 218.45,-8.67 218.5,-8.72 218.56,-8.77 218.61,-8.83 218.66,-8.88 218.72,-8.93 218.77,-8.98 218.82,-9.03 218.88,-9.08 218.93,-9.13 218.99,-9.18 219.04,-9.23 219.1,-9.27 219.16,-9.32 219.21,-9.37 219.27,-9.41 219.32,-9.45 219.38,-9.5 219.44,-9.54 219.5,-9.58 219.55,-9.62 219.61,-9.66 219.67,-9.7 219.73,-9.74 219.79,-9.78 219.84,-9.82 219.9,-9.85 219.96,-9.89 220.02,-9.92 220.08,-9.96 220.14,-9.99 220.2,-10.03 220.26,-10.06 220.32,-10.09 220.38,-10.12 220.44,-10.15 220.5,-10.18 220.56,-10.21 220.62,-10.23 220.68,-10.26 220.74,-10.29 220.81,-10.31 220.87,-10.34 220.93,-10.36 220.99,-10.38 221.05,-10.4 221.11,-10.42 221.18,-10.44 221.24,-10.46 221.3,-10.48 221.36,-10.5 221.42,-10.52 221.49,-10.53 221.55,-10.55 221.61,-10.56 221.68,-10.58 221.74,-10.59 221.8,-10.6 221.86,-10.62 221.93,-10.63 221.99,-10.64 222.05,-10.65 222.12,-10.65 222.18,-10.66 222.24,-10.67 222.31,-10.67 222.37,-10.68 222.43,-10.68 222.5,-10.69 222.56,-10.69 222.62,-10.69 222.69,-10.69 222.75,-10.69 222.81,-10.69 222.88,-10.69" stroke-width="0.8" stroke="#2a2a2a"/><path d="M224.36,10.58 224.3,10.59 224.25,10.59 224.2,10.59 224.14,10.58 224.09,10.58 224.03,10.58 223.98,10.57 223.92,10.57 223.87,10.56 223.81,10.56 223.76,10.55 223.71,10.54 223.65,10.53 223.6,10.52 223.54,10.51 223.49,10.5 223.44,10.49 223.38,10.48 223.33,10.46 223.27,10.45 223.22,10.44 223.17,10.42 223.11,10.4 223.06,10.39 223.01,10.37 222.95,10.35 222.9,10.33 222.85,10.31 222.79,10.29 222.74,10.26 222.69,10.24 222.64,10.22 222.58,10.19 222.53,10.17 222.48,10.14 222.43,10.11 222.38,10.09 222.32,10.06 222.27,10.03 222.22,10 222.17,9.97 222.12,9.94 222.07,9.9 222.02,9.87 221.97,9.84 221.92,9.8 221.87,9.77 221.82,9.73 221.77,9.7 221.72,9.66 221.67,9.62 221.62,9.58 221.57,9.54 221.52,9.5 221.48,9.46 221.43,9.42 221.38,9.38 221.33,9.33 221.29,9.29 221.24,9.24 221.19,9.2 221.14,9.15 221.1,9.11 221.05,9.06 221.01,9.01 220.96,8.96 220.92,8.91 220.87,8.86 220.83,8.81 220.78,8.76 220.74,8.71 220.69,8.65 220.65,8.6 220.61,8.55 220.56,8.49 220.52,8.44 220.48,8.38 220.44,8.32 220.4,8.27 220.35,8.21 220.31,8.15 220.27,8.09 220.23,8.03 220.19,7.97 220.15,7.91 220.11,7.85 220.07,7.79 220.03,7.72 220,7.66 219.96,7.6 219.92,7.53 219.88,7.47 219.85,7.4 219.81,7.33 219.77,7.27 219.74,7.2 219.7,7.13 219.67,7.06 219.63,7 219.6,6.93 219.56,6.86 219.53,6.79 219.5,6.71 219.47,6.64 219.43,6.57 219.4,6.5 219.37,6.43 219.34,6.35 219.31,6.28 219.28,6.2 219.25,6.13 219.22,6.05 219.19,5.98 219.16,5.9 219.13,5.82 219.11,5.75 219.08,5.67 219.05,5.59 219.02,5.51 219,5.43 218.97,5.36 218.95,5.28 218.92,5.2 218.9,5.11 218.88,5.03 218.85,4.95 218.83,4.87 218.81,4.79 218.78,4.71 218.76,4.62 218.74,4.54 218.72,4.46 218.7,4.37 218.68,4.29 218.66,4.21 218.64,4.12 218.63,4.04 218.61,3.95 218.59,3.87 218.57,3.78 218.56,3.69 218.54,3.61 218.53,3.52 218.51,3.43 218.5,3.35 218.48,3.26 218.47,3.17 218.46,3.08 218.44,2.99 218.43,2.91 218.42,2.82 218.41,2.73 218.4,2.64 218.39,2.55 218.38,2.46 218.37,2.37 218.36,2.28 218.35,2.19 218.35,2.1 218.34,2.01 218.33,1.92 218.33,1.83 218.32,1.74 218.32,1.65 218.31,1.56 218.31,1.47 218.3,1.38 218.3,1.28 218.3,1.19 218.3,1.1 218.29,1.01 218.29,0.92 218.29,0.83 218.29,0.73 218.29,0.64 218.29,0.55 218.3,0.46 218.3,0.37 218.3,0.28 218.3,0.18 218.31,0.09 218.31,0 218.32,-0.09 218.32,-0.18 218.33,-0.28 218.33,-0.37 218.34,-0.46 218.35,-0.55 218.35,-0.64 218.36,-0.73 218.37,-0.83 218.38,-0.92 218.39,-1.01 218.4,-1.1 218.41,-1.19 218.42,-1.28 218.43,-1.37 218.45,-1.47 218.46,-1.56 218.47,-1.65 218.49,-1.74 218.5,-1.83 218.51,-1.92 218.53,-2.01 218.55,-2.1 218.56,-2.19 218.58,-2.28 218.6,-2.37 218.61,-2.46 218.63,-2.55 218.65,-2.64 218.67,-2.72 218.69,-2.81 218.71,-2.9 218.73,-2.99 218.75,-3.08 218.77,-3.16 218.8,-3.25 218.82,-3.34 218.84,-3.43 218.86,-3.51 218.89,-3.6 218.91,-3.68 218.94,-3.77 218.96,-3.86 218.99,-3.94 219.02,-4.03 219.04,-4.11 219.07,-4.19 219.1,-4.28 219.13,-4.36 219.15,-4.45 219.18,-4.53 219.21,-4.61 219.24,-4.69 219.27,-4.77 219.31,-4.86 219.34,-4.94 219.37,-5.02 219.4,-5.1 219.43,-5.18 219.47,-5.26 219.5,-5.34 219.53,-5.42 219.57,-5.49 219.6,-5.57 219.64,-5.65 219.68,-5.73 219.71,-5.8 219.75,-5.88 219.79,-5.95 219.82,-6.03 219.86,-6.1 219.9,-6.18 219.94,-6.25 219.98,-6.33 220.02,-6.4 220.06,-6.47 220.1,-6.54 220.14,-6.61 220.18,-6.69 220.22,-6.76 220.26,-6.83 220.31,-6.89 220.35,-6.96 220.39,-7.03 220.43,-7.1 220.48,-7.17 220.52,-7.23 220.57,-7.3 220.61,-7.36 220.66,-7.43 220.7,-7.49 220.75,-7.56 220.8,-7.62 220.84,-7.68 220.89,-7.75 220.94,-7.81 220.98,-7.87 221.03,-7.93 221.08,-7.99 221.13,-8.05 221.18,-8.1 221.23,-8.16 221.28,-8.22 221.33,-8.28 221.38,-8.33 221.43,-8.39 221.48,-8.44 221.53,-8.5 221.58,-8.55 221.63,-8.6 221.69,-8.65 221.74,-8.71 221.79,-8.76 221.84,-8.81 221.9,-8.86 221.95,-8.9 222,-8.95 222.06,-9 222.11,-9.05 222.17,-9.09 222.22,-9.14 222.28,-9.18 222.33,-9.23 222.39,-9.27 222.44,-9.31 222.5,-9.35 222.56,-9.39 222.61,-9.43 222.67,-9.47 222.73,-9.51 222.78,-9.55 222.84,-9.59 222.9,-9.62 222.95,-9.66 223.01,-9.7 223.07,-9.73 223.13,-9.76 223.19,-9.8 223.25,-9.83 223.3,-9.86 223.36,-9.89 223.42,-9.92 223.48,-9.95 223.54,-9.98 223.6,-10.01 223.66,-10.03 223.72,-10.06 223.78,-10.08 223.84,-10.11 223.9,-10.13 223.96,-10.16 224.02,-10.18 224.08,-10.2 224.14,-10.22 224.2,-10.24 224.27,-10.26 224.33,-10.28 224.39,-10.29 224.45,-10.31 224.51,-10.33 224.57,-10.34 224.63,-10.36 224.69,-10.37 224.76,-10.38 224.82,-10.4 224.88,-10.41 224.94,-10.42 225,-10.43 225.07,-10.44 225.13,-10.44 225.19,-10.45 225.25,-10.46 225.31,-10.46 225.38,-10.47 225.44,-10.47 225.5,-10.48 225.56,-10.48 225.63,-10.48 225.69,-10.48 225.75,-10.48 225.81,-10.48 225.87,-10.48" stroke-width="0.8" stroke="#2a2a2a"/><path d="M227.36,10.37 227.3,10.38 227.25,10.38 227.2,10.37 227.14,10.37 227.09,10.37 227.04,10.37 226.98,10.36 226.93,10.36 226.88,10.35 226.82,10.35 226.77,10.34 226.72,10.33 226.66,10.32 226.61,10.32 226.56,10.3 226.51,10.29 226.45,10.28 226.4,10.27 226.35,10.26 226.29,10.24 226.24,10.23 226.19,10.21 226.14,10.2 226.09,10.18 226.03,10.16 225.98,10.14 225.93,10.12 225.88,10.1 225.83,10.08 225.77,10.06 225.72,10.04 225.67,10.01 225.62,9.99 225.57,9.96 225.52,9.94 225.47,9.91 225.42,9.89 225.37,9.86 225.32,9.83 225.27,9.8 225.22,9.77 225.17,9.74 225.12,9.71 225.07,9.67 225.02,9.64 224.97,9.61 224.92,9.57 224.87,9.54 224.82,9.5 224.77,9.47 224.73,9.43 224.68,9.39 224.63,9.35 224.58,9.31 224.54,9.27 224.49,9.23 224.44,9.19 224.4,9.15 224.35,9.1 224.3,9.06 224.26,9.02 224.21,8.97 224.17,8.92 224.12,8.88 224.08,8.83 224.03,8.78 223.99,8.73 223.94,8.69 223.9,8.64 223.86,8.59 223.81,8.53 223.77,8.48 223.73,8.43 223.69,8.38 223.64,8.32 223.6,8.27 223.56,8.21 223.52,8.16 223.48,8.1 223.44,8.05 223.4,7.99 223.36,7.93 223.32,7.87 223.28,7.81 223.24,7.75 223.2,7.69 223.16,7.63 223.13,7.57 223.09,7.51 223.05,7.44 223.01,7.38 222.98,7.32 222.94,7.25 222.91,7.19 222.87,7.12 222.84,7.06 222.8,6.99 222.77,6.92 222.73,6.86 222.7,6.79 222.67,6.72 222.63,6.65 222.6,6.58 222.57,6.51 222.54,6.44 222.51,6.37 222.48,6.3 222.45,6.23 222.42,6.15 222.39,6.08 222.36,6.01 222.33,5.93 222.3,5.86 222.27,5.78 222.24,5.71 222.22,5.63 222.19,5.56 222.16,5.48 222.14,5.4 222.11,5.33 222.09,5.25 222.06,5.17 222.04,5.09 222.02,5.01 221.99,4.93 221.97,4.85 221.95,4.77 221.93,4.69 221.9,4.61 221.88,4.53 221.86,4.45 221.84,4.37 221.82,4.29 221.8,4.2 221.78,4.12 221.77,4.04 221.75,3.96 221.73,3.87 221.71,3.79 221.7,3.7 221.68,3.62 221.67,3.53 221.65,3.45 221.64,3.36 221.62,3.28 221.61,3.19 221.6,3.11 221.58,3.02 221.57,2.93 221.56,2.85 221.55,2.76 221.54,2.67 221.53,2.59 221.52,2.5 221.51,2.41 221.5,2.32 221.49,2.24 221.48,2.15 221.48,2.06 221.47,1.97 221.46,1.88 221.46,1.79 221.45,1.7 221.45,1.62 221.44,1.53 221.44,1.44 221.44,1.35 221.43,1.26 221.43,1.17 221.43,1.08 221.43,0.99 221.43,0.9 221.43,0.81 221.43,0.72 221.43,0.63 221.43,0.54 221.43,0.45 221.43,0.36 221.43,0.27 221.44,0.18 221.44,0.09 221.45,0 221.45,-0.09 221.45,-0.18 221.46,-0.27 221.47,-0.36 221.47,-0.45 221.48,-0.54 221.49,-0.63 221.5,-0.72 221.5,-0.81 221.51,-0.9 221.52,-0.99 221.53,-1.08 221.54,-1.17 221.55,-1.26 221.57,-1.35 221.58,-1.44 221.59,-1.53 221.6,-1.61 221.62,-1.7 221.63,-1.79 221.65,-1.88 221.66,-1.97 221.68,-2.06 221.69,-2.14 221.71,-2.23 221.73,-2.32 221.74,-2.41 221.76,-2.5 221.78,-2.58 221.8,-2.67 221.82,-2.76 221.84,-2.84 221.86,-2.93 221.88,-3.02 221.9,-3.1 221.92,-3.19 221.94,-3.27 221.97,-3.36 221.99,-3.44 222.01,-3.53 222.04,-3.61 222.06,-3.69 222.09,-3.78 222.11,-3.86 222.14,-3.95 222.17,-4.03 222.19,-4.11 222.22,-4.19 222.25,-4.27 222.28,-4.36 222.3,-4.44 222.33,-4.52 222.36,-4.6 222.39,-4.68 222.42,-4.76 222.45,-4.84 222.49,-4.92 222.52,-5 222.55,-5.07 222.58,-5.15 222.62,-5.23 222.65,-5.31 222.68,-5.38 222.72,-5.46 222.75,-5.54 222.79,-5.61 222.82,-5.69 222.86,-5.76 222.9,-5.84 222.93,-5.91 222.97,-5.98 223.01,-6.06 223.05,-6.13 223.08,-6.2 223.12,-6.27 223.16,-6.34 223.2,-6.41 223.24,-6.48 223.28,-6.55 223.32,-6.62 223.36,-6.69 223.41,-6.76 223.45,-6.82 223.49,-6.89 223.53,-6.96 223.58,-7.02 223.62,-7.09 223.66,-7.15 223.71,-7.22 223.75,-7.28 223.8,-7.34 223.84,-7.41 223.89,-7.47 223.93,-7.53 223.98,-7.59 224.03,-7.65 224.07,-7.71 224.12,-7.77 224.17,-7.83 224.22,-7.89 224.26,-7.94 224.31,-8 224.36,-8.06 224.41,-8.11 224.46,-8.17 224.51,-8.22 224.56,-8.27 224.61,-8.33 224.66,-8.38 224.71,-8.43 224.76,-8.48 224.81,-8.53 224.86,-8.58 224.92,-8.63 224.97,-8.68 225.02,-8.73 225.07,-8.77 225.13,-8.82 225.18,-8.86 225.23,-8.91 225.29,-8.95 225.34,-9 225.4,-9.04 225.45,-9.08 225.5,-9.12 225.56,-9.16 225.61,-9.21 225.67,-9.24 225.73,-9.28 225.78,-9.32 225.84,-9.36 225.89,-9.4 225.95,-9.43 226.01,-9.47 226.06,-9.5 226.12,-9.53 226.18,-9.57 226.24,-9.6 226.29,-9.63 226.35,-9.66 226.41,-9.69 226.47,-9.72 226.52,-9.75 226.58,-9.78 226.64,-9.8 226.7,-9.83 226.76,-9.86 226.82,-9.88 226.88,-9.91 226.94,-9.93 226.99,-9.95 227.05,-9.97 227.11,-9.99 227.17,-10.01 227.23,-10.03 227.29,-10.05 227.35,-10.07 227.41,-10.09 227.47,-10.1 227.53,-10.12 227.59,-10.13 227.65,-10.15 227.71,-10.16 227.78,-10.17 227.84,-10.19 227.9,-10.2 227.96,-10.21 228.02,-10.22 228.08,-10.23 228.14,-10.23 228.2,-10.24 228.26,-10.25 228.32,-10.25 228.38,-10.26 228.44,-10.26 228.51,-10.27 228.57,-10.27 228.63,-10.27 228.69,-10.27 228.75,-10.27 228.81,-10.27 228.87,-10.27" stroke-width="0.8" stroke="#2a2a2a"/><path d="M230.35,10.16 230.3,10.16 230.25,10.16 230.2,10.16 230.15,10.16 230.09,10.16 230.04,10.16 229.99,10.15 229.94,10.15 229.89,10.14 229.83,10.14 229.78,10.13 229.73,10.12 229.68,10.11 229.63,10.11 229.57,10.1 229.52,10.09 229.47,10.07 229.42,10.06 229.37,10.05 229.32,10.03 229.26,10.02 229.21,10 229.16,9.99 229.11,9.97 229.06,9.95 229.01,9.94 228.96,9.92 228.91,9.9 228.86,9.88 228.81,9.86 228.76,9.83 228.71,9.81 228.66,9.79 228.61,9.76 228.56,9.74 228.51,9.71 228.46,9.68 228.41,9.66 228.36,9.63 228.31,9.6 228.26,9.57 228.21,9.54 228.16,9.51 228.11,9.48 228.07,9.45 228.02,9.41 227.97,9.38 227.92,9.34 227.88,9.31 227.83,9.27 227.78,9.24 227.73,9.2 227.69,9.16 227.64,9.12 227.6,9.08 227.55,9.04 227.5,9 227.46,8.96 227.41,8.92 227.37,8.88 227.32,8.83 227.28,8.79 227.23,8.74 227.19,8.7 227.15,8.65 227.1,8.6 227.06,8.56 227.02,8.51 226.97,8.46 226.93,8.41 226.89,8.36 226.85,8.31 226.81,8.26 226.76,8.21 226.72,8.15 226.68,8.1 226.64,8.05 226.6,7.99 226.56,7.94 226.52,7.88 226.48,7.83 226.44,7.77 226.41,7.71 226.37,7.65 226.33,7.59 226.29,7.54 226.25,7.48 226.22,7.42 226.18,7.35 226.14,7.29 226.11,7.23 226.07,7.17 226.04,7.11 226,7.04 225.97,6.98 225.93,6.91 225.9,6.85 225.87,6.78 225.83,6.72 225.8,6.65 225.77,6.58 225.74,6.52 225.7,6.45 225.67,6.38 225.64,6.31 225.61,6.24 225.58,6.17 225.55,6.1 225.52,6.03 225.49,5.96 225.47,5.88 225.44,5.81 225.41,5.74 225.38,5.67 225.36,5.59 225.33,5.52 225.3,5.44 225.28,5.37 225.25,5.29 225.23,5.22 225.2,5.14 225.18,5.06 225.16,4.99 225.13,4.91 225.11,4.83 225.09,4.76 225.07,4.68 225.04,4.6 225.02,4.52 225,4.44 224.98,4.36 224.96,4.28 224.94,4.2 224.93,4.12 224.91,4.04 224.89,3.96 224.87,3.87 224.86,3.79 224.84,3.71 224.82,3.63 224.81,3.55 224.79,3.46 224.78,3.38 224.76,3.3 224.75,3.21 224.74,3.13 224.72,3.04 224.71,2.96 224.7,2.87 224.69,2.79 224.68,2.7 224.67,2.62 224.66,2.53 224.65,2.45 224.64,2.36 224.63,2.28 224.62,2.19 224.61,2.1 224.61,2.02 224.6,1.93 224.59,1.84 224.59,1.76 224.58,1.67 224.58,1.58 224.58,1.5 224.57,1.41 224.57,1.32 224.57,1.23 224.56,1.15 224.56,1.06 224.56,0.97 224.56,0.88 224.56,0.79 224.56,0.71 224.56,0.62 224.56,0.53 224.56,0.44 224.57,0.35 224.57,0.26 224.57,0.18 224.57,0.09 224.58,0 224.58,-0.09 224.59,-0.18 224.59,-0.26 224.6,-0.35 224.61,-0.44 224.61,-0.53 224.62,-0.62 224.63,-0.71 224.64,-0.79 224.65,-0.88 224.66,-0.97 224.67,-1.06 224.68,-1.14 224.69,-1.23 224.7,-1.32 224.71,-1.41 224.72,-1.49 224.74,-1.58 224.75,-1.67 224.76,-1.75 224.78,-1.84 224.79,-1.93 224.81,-2.01 224.82,-2.1 224.84,-2.19 224.86,-2.27 224.87,-2.36 224.89,-2.44 224.91,-2.53 224.93,-2.61 224.95,-2.7 224.97,-2.78 224.99,-2.87 225.01,-2.95 225.03,-3.04 225.05,-3.12 225.07,-3.21 225.09,-3.29 225.12,-3.37 225.14,-3.45 225.16,-3.54 225.19,-3.62 225.21,-3.7 225.24,-3.78 225.26,-3.86 225.29,-3.95 225.32,-4.03 225.34,-4.11 225.37,-4.19 225.4,-4.27 225.43,-4.35 225.45,-4.43 225.48,-4.51 225.51,-4.58 225.54,-4.66 225.57,-4.74 225.6,-4.82 225.63,-4.89 225.67,-4.97 225.7,-5.05 225.73,-5.12 225.76,-5.2 225.8,-5.27 225.83,-5.35 225.87,-5.42 225.9,-5.5 225.93,-5.57 225.97,-5.64 226.01,-5.72 226.04,-5.79 226.08,-5.86 226.12,-5.93 226.15,-6 226.19,-6.07 226.23,-6.14 226.27,-6.21 226.31,-6.28 226.35,-6.35 226.39,-6.42 226.43,-6.49 226.47,-6.55 226.51,-6.62 226.55,-6.68 226.59,-6.75 226.63,-6.81 226.67,-6.88 226.72,-6.94 226.76,-7.01 226.8,-7.07 226.85,-7.13 226.89,-7.19 226.93,-7.25 226.98,-7.32 227.02,-7.38 227.07,-7.44 227.12,-7.49 227.16,-7.55 227.21,-7.61 227.25,-7.67 227.3,-7.72 227.35,-7.78 227.4,-7.84 227.44,-7.89 227.49,-7.94 227.54,-8 227.59,-8.05 227.64,-8.1 227.69,-8.16 227.74,-8.21 227.79,-8.26 227.84,-8.31 227.89,-8.36 227.94,-8.4 227.99,-8.45 228.04,-8.5 228.09,-8.55 228.14,-8.59 228.2,-8.64 228.25,-8.68 228.3,-8.73 228.35,-8.77 228.41,-8.81 228.46,-8.86 228.51,-8.9 228.57,-8.94 228.62,-8.98 228.67,-9.02 228.73,-9.06 228.78,-9.09 228.84,-9.13 228.89,-9.17 228.95,-9.2 229,-9.24 229.06,-9.27 229.11,-9.31 229.17,-9.34 229.23,-9.37 229.28,-9.4 229.34,-9.43 229.4,-9.46 229.45,-9.49 229.51,-9.52 229.57,-9.55 229.62,-9.58 229.68,-9.6 229.74,-9.63 229.8,-9.65 229.85,-9.68 229.91,-9.7 229.97,-9.73 230.03,-9.75 230.09,-9.77 230.15,-9.79 230.2,-9.81 230.26,-9.83 230.32,-9.85 230.38,-9.86 230.44,-9.88 230.5,-9.9 230.56,-9.91 230.62,-9.93 230.68,-9.94 230.73,-9.95 230.79,-9.97 230.85,-9.98 230.91,-9.99 230.97,-10 231.03,-10.01 231.09,-10.02 231.15,-10.02 231.21,-10.03 231.27,-10.04 231.33,-10.04 231.39,-10.05 231.45,-10.05 231.51,-10.05 231.57,-10.06 231.63,-10.06 231.69,-10.06 231.75,-10.06 231.81,-10.06 231.87,-10.06" stroke-width="0.8" stroke="#2a2a2a"/><path d="M233.35,9.95 233.3,9.95 233.25,9.95 233.2,9.95 233.15,9.95 233.1,9.95 233.05,9.95 233,9.94 232.94,9.94 232.89,9.93 232.84,9.93 232.79,9.92 232.74,9.91 232.69,9.91 232.64,9.9 232.59,9.89 232.54,9.88 232.49,9.86 232.44,9.85 232.39,9.84 232.34,9.83 232.29,9.81 232.24,9.8 232.19,9.78 232.14,9.77 232.09,9.75 232.04,9.73 231.99,9.71 231.94,9.69 231.89,9.67 231.84,9.65 231.79,9.63 231.74,9.61 231.69,9.58 231.64,9.56 231.59,9.54 231.55,9.51 231.5,9.48 231.45,9.46 231.4,9.43 231.35,9.4 231.3,9.37 231.26,9.34 231.21,9.31 231.16,9.28 231.12,9.25 231.07,9.22 231.02,9.18 230.98,9.15 230.93,9.12 230.88,9.08 230.84,9.05 230.79,9.01 230.75,8.97 230.7,8.93 230.65,8.89 230.61,8.86 230.57,8.82 230.52,8.77 230.48,8.73 230.43,8.69 230.39,8.65 230.35,8.61 230.3,8.56 230.26,8.52 230.22,8.47 230.17,8.43 230.13,8.38 230.09,8.33 230.05,8.28 230.01,8.24 229.96,8.19 229.92,8.14 229.88,8.09 229.84,8.04 229.8,7.98 229.76,7.93 229.72,7.88 229.68,7.83 229.64,7.77 229.61,7.72 229.57,7.66 229.53,7.61 229.49,7.55 229.45,7.49 229.42,7.44 229.38,7.38 229.34,7.32 229.31,7.26 229.27,7.2 229.24,7.14 229.2,7.08 229.17,7.02 229.13,6.96 229.1,6.9 229.06,6.83 229.03,6.77 229,6.71 228.97,6.64 228.93,6.58 228.9,6.51 228.87,6.45 228.84,6.38 228.81,6.31 228.78,6.25 228.75,6.18 228.72,6.11 228.69,6.04 228.66,5.97 228.63,5.9 228.6,5.83 228.57,5.76 228.55,5.69 228.52,5.62 228.49,5.55 228.47,5.48 228.44,5.4 228.42,5.33 228.39,5.26 228.37,5.18 228.34,5.11 228.32,5.03 228.3,4.96 228.27,4.88 228.25,4.81 228.23,4.73 228.21,4.66 228.18,4.58 228.16,4.5 228.14,4.43 228.12,4.35 228.1,4.27 228.08,4.19 228.07,4.11 228.05,4.03 228.03,3.95 228.01,3.87 228,3.79 227.98,3.71 227.96,3.63 227.95,3.55 227.93,3.47 227.92,3.39 227.9,3.31 227.89,3.23 227.88,3.15 227.86,3.06 227.85,2.98 227.84,2.9 227.83,2.81 227.82,2.73 227.81,2.65 227.8,2.57 227.79,2.48 227.78,2.4 227.77,2.31 227.76,2.23 227.75,2.14 227.75,2.06 227.74,1.98 227.73,1.89 227.73,1.81 227.72,1.72 227.72,1.64 227.71,1.55 227.71,1.46 227.7,1.38 227.7,1.29 227.7,1.21 227.7,1.12 227.69,1.04 227.69,0.95 227.69,0.86 227.69,0.78 227.69,0.69 227.69,0.6 227.69,0.52 227.7,0.43 227.7,0.35 227.7,0.26 227.7,0.17 227.71,0.09 227.71,-0 227.72,-0.09 227.72,-0.17 227.73,-0.26 227.73,-0.35 227.74,-0.43 227.75,-0.52 227.75,-0.6 227.76,-0.69 227.77,-0.78 227.78,-0.86 227.79,-0.95 227.8,-1.03 227.81,-1.12 227.82,-1.21 227.83,-1.29 227.84,-1.38 227.86,-1.46 227.87,-1.55 227.88,-1.63 227.89,-1.72 227.91,-1.8 227.92,-1.89 227.94,-1.97 227.95,-2.06 227.97,-2.14 227.99,-2.23 228,-2.31 228.02,-2.39 228.04,-2.48 228.06,-2.56 228.08,-2.64 228.1,-2.73 228.11,-2.81 228.13,-2.89 228.16,-2.97 228.18,-3.06 228.2,-3.14 228.22,-3.22 228.24,-3.3 228.27,-3.38 228.29,-3.46 228.31,-3.54 228.34,-3.62 228.36,-3.7 228.39,-3.78 228.41,-3.86 228.44,-3.94 228.46,-4.02 228.49,-4.1 228.52,-4.18 228.55,-4.26 228.57,-4.33 228.6,-4.41 228.63,-4.49 228.66,-4.56 228.69,-4.64 228.72,-4.72 228.75,-4.79 228.78,-4.87 228.81,-4.94 228.85,-5.02 228.88,-5.09 228.91,-5.16 228.94,-5.24 228.98,-5.31 229.01,-5.38 229.05,-5.45 229.08,-5.53 229.12,-5.6 229.15,-5.67 229.19,-5.74 229.22,-5.81 229.26,-5.88 229.3,-5.95 229.34,-6.01 229.37,-6.08 229.41,-6.15 229.45,-6.22 229.49,-6.28 229.53,-6.35 229.57,-6.42 229.61,-6.48 229.65,-6.55 229.69,-6.61 229.73,-6.67 229.77,-6.74 229.81,-6.8 229.86,-6.86 229.9,-6.92 229.94,-6.98 229.98,-7.04 230.03,-7.1 230.07,-7.16 230.12,-7.22 230.16,-7.28 230.2,-7.34 230.25,-7.39 230.3,-7.45 230.34,-7.51 230.39,-7.56 230.43,-7.62 230.48,-7.67 230.53,-7.73 230.57,-7.78 230.62,-7.83 230.67,-7.88 230.72,-7.93 230.77,-7.99 230.81,-8.04 230.86,-8.08 230.91,-8.13 230.96,-8.18 231.01,-8.23 231.06,-8.28 231.11,-8.32 231.16,-8.37 231.21,-8.41 231.26,-8.46 231.32,-8.5 231.37,-8.54 231.42,-8.59 231.47,-8.63 231.52,-8.67 231.58,-8.71 231.63,-8.75 231.68,-8.79 231.73,-8.83 231.79,-8.87 231.84,-8.9 231.89,-8.94 231.95,-8.98 232,-9.01 232.06,-9.04 232.11,-9.08 232.17,-9.11 232.22,-9.14 232.28,-9.18 232.33,-9.21 232.39,-9.24 232.44,-9.27 232.5,-9.29 232.55,-9.32 232.61,-9.35 232.67,-9.38 232.72,-9.4 232.78,-9.43 232.83,-9.45 232.89,-9.48 232.95,-9.5 233,-9.52 233.06,-9.54 233.12,-9.56 233.18,-9.58 233.23,-9.6 233.29,-9.62 233.35,-9.64 233.41,-9.66 233.46,-9.67 233.52,-9.69 233.58,-9.71 233.64,-9.72 233.7,-9.73 233.75,-9.75 233.81,-9.76 233.87,-9.77 233.93,-9.78 233.99,-9.79 234.05,-9.8 234.1,-9.81 234.16,-9.81 234.22,-9.82 234.28,-9.83 234.34,-9.83 234.4,-9.84 234.46,-9.84 234.52,-9.84 234.57,-9.85 234.63,-9.85 234.69,-9.85 234.75,-9.85 234.81,-9.85 234.87,-9.85" stroke-width="0.8" stroke="#2a2a2a"/><path d="M236.35,9.74 236.3,9.74 236.25,9.74 236.2,9.74 236.15,9.74 236.1,9.74 236.05,9.74 236,9.73 235.95,9.73 235.9,9.72 235.85,9.72 235.8,9.71 235.75,9.7 235.7,9.7 235.65,9.69 235.6,9.68 235.55,9.67 235.51,9.66 235.46,9.64 235.41,9.63 235.36,9.62 235.31,9.6 235.26,9.59 235.21,9.57 235.16,9.56 235.11,9.54 235.06,9.52 235.02,9.51 234.97,9.49 234.92,9.47 234.87,9.45 234.82,9.43 234.78,9.4 234.73,9.38 234.68,9.36 234.63,9.33 234.58,9.31 234.54,9.28 234.49,9.26 234.44,9.23 234.4,9.2 234.35,9.17 234.3,9.15 234.26,9.12 234.21,9.09 234.16,9.05 234.12,9.02 234.07,8.99 234.03,8.96 233.98,8.92 233.94,8.89 233.89,8.85 233.85,8.82 233.8,8.78 233.76,8.74 233.71,8.71 233.67,8.67 233.63,8.63 233.58,8.59 233.54,8.55 233.5,8.51 233.45,8.47 233.41,8.42 233.37,8.38 233.33,8.34 233.29,8.29 233.24,8.25 233.2,8.2 233.16,8.16 233.12,8.11 233.08,8.06 233.04,8.01 233,7.96 232.96,7.92 232.92,7.87 232.88,7.82 232.84,7.76 232.8,7.71 232.77,7.66 232.73,7.61 232.69,7.55 232.65,7.5 232.62,7.45 232.58,7.39 232.54,7.34 232.51,7.28 232.47,7.22 232.43,7.17 232.4,7.11 232.36,7.05 232.33,6.99 232.3,6.93 232.26,6.87 232.23,6.81 232.19,6.75 232.16,6.69 232.13,6.63 232.1,6.56 232.07,6.5 232.03,6.44 232,6.37 231.97,6.31 231.94,6.24 231.91,6.18 231.88,6.11 231.85,6.05 231.82,5.98 231.79,5.91 231.77,5.85 231.74,5.78 231.71,5.71 231.68,5.64 231.66,5.57 231.63,5.5 231.6,5.43 231.58,5.36 231.55,5.29 231.53,5.22 231.5,5.15 231.48,5.07 231.46,5 231.43,4.93 231.41,4.85 231.39,4.78 231.37,4.71 231.35,4.63 231.32,4.56 231.3,4.48 231.28,4.41 231.26,4.33 231.24,4.26 231.22,4.18 231.21,4.1 231.19,4.02 231.17,3.95 231.15,3.87 231.14,3.79 231.12,3.71 231.1,3.64 231.09,3.56 231.07,3.48 231.06,3.4 231.04,3.32 231.03,3.24 231.02,3.16 231,3.08 230.99,3 230.98,2.92 230.97,2.84 230.96,2.76 230.95,2.67 230.94,2.59 230.93,2.51 230.92,2.43 230.91,2.35 230.9,2.26 230.89,2.18 230.88,2.1 230.88,2.02 230.87,1.93 230.86,1.85 230.86,1.77 230.85,1.68 230.85,1.6 230.84,1.52 230.84,1.43 230.84,1.35 230.83,1.27 230.83,1.18 230.83,1.1 230.83,1.01 230.83,0.93 230.83,0.84 230.83,0.76 230.83,0.68 230.83,0.59 230.83,0.51 230.83,0.42 230.83,0.34 230.84,0.25 230.84,0.17 230.84,0.08 230.85,-0 230.85,-0.08 230.86,-0.17 230.86,-0.25 230.87,-0.34 230.87,-0.42 230.88,-0.51 230.89,-0.59 230.9,-0.68 230.9,-0.76 230.91,-0.84 230.92,-0.93 230.93,-1.01 230.94,-1.1 230.95,-1.18 230.96,-1.26 230.98,-1.35 230.99,-1.43 231,-1.52 231.01,-1.6 231.03,-1.68 231.04,-1.76 231.05,-1.85 231.07,-1.93 231.08,-2.01 231.1,-2.1 231.12,-2.18 231.13,-2.26 231.15,-2.34 231.17,-2.42 231.19,-2.51 231.2,-2.59 231.22,-2.67 231.24,-2.75 231.26,-2.83 231.28,-2.91 231.3,-2.99 231.32,-3.07 231.35,-3.15 231.37,-3.23 231.39,-3.31 231.41,-3.39 231.44,-3.47 231.46,-3.55 231.49,-3.63 231.51,-3.7 231.53,-3.78 231.56,-3.86 231.59,-3.94 231.61,-4.01 231.64,-4.09 231.67,-4.17 231.69,-4.24 231.72,-4.32 231.75,-4.39 231.78,-4.47 231.81,-4.54 231.84,-4.62 231.87,-4.69 231.9,-4.76 231.93,-4.84 231.96,-4.91 231.99,-4.98 232.03,-5.05 232.06,-5.13 232.09,-5.2 232.12,-5.27 232.16,-5.34 232.19,-5.41 232.23,-5.48 232.26,-5.55 232.3,-5.62 232.33,-5.68 232.37,-5.75 232.4,-5.82 232.44,-5.89 232.48,-5.95 232.52,-6.02 232.55,-6.08 232.59,-6.15 232.63,-6.21 232.67,-6.28 232.71,-6.34 232.75,-6.41 232.79,-6.47 232.83,-6.53 232.87,-6.59 232.91,-6.65 232.95,-6.71 232.99,-6.77 233.04,-6.83 233.08,-6.89 233.12,-6.95 233.16,-7.01 233.21,-7.07 233.25,-7.12 233.29,-7.18 233.34,-7.24 233.38,-7.29 233.43,-7.35 233.47,-7.4 233.52,-7.46 233.56,-7.51 233.61,-7.56 233.66,-7.61 233.7,-7.66 233.75,-7.72 233.8,-7.77 233.84,-7.81 233.89,-7.86 233.94,-7.91 233.99,-7.96 234.04,-8.01 234.09,-8.05 234.13,-8.1 234.18,-8.15 234.23,-8.19 234.28,-8.23 234.33,-8.28 234.38,-8.32 234.43,-8.36 234.48,-8.4 234.54,-8.44 234.59,-8.49 234.64,-8.52 234.69,-8.56 234.74,-8.6 234.79,-8.64 234.85,-8.68 234.9,-8.71 234.95,-8.75 235,-8.78 235.06,-8.82 235.11,-8.85 235.16,-8.88 235.22,-8.92 235.27,-8.95 235.32,-8.98 235.38,-9.01 235.43,-9.04 235.49,-9.07 235.54,-9.1 235.6,-9.12 235.65,-9.15 235.71,-9.18 235.76,-9.2 235.82,-9.23 235.87,-9.25 235.93,-9.27 235.98,-9.3 236.04,-9.32 236.1,-9.34 236.15,-9.36 236.21,-9.38 236.26,-9.4 236.32,-9.42 236.38,-9.43 236.43,-9.45 236.49,-9.47 236.55,-9.48 236.6,-9.5 236.66,-9.51 236.72,-9.53 236.77,-9.54 236.83,-9.55 236.89,-9.56 236.95,-9.57 237,-9.58 237.06,-9.59 237.12,-9.6 237.17,-9.6 237.23,-9.61 237.29,-9.62 237.35,-9.62 237.4,-9.63 237.46,-9.63 237.52,-9.63 237.58,-9.64 237.63,-9.64 237.69,-9.64 237.75,-9.64 237.81,-9.64 237.87,-9.64" stroke-width="0.8" stroke="#2a2a2a"/><path d="M239.35,9.53 239.3,9.53 239.25,9.53 239.2,9.53 239.15,9.53 239.1,9.53 239.06,9.53 239.01,9.52 238.96,9.52 238.91,9.51 238.86,9.51 238.81,9.5 238.76,9.49 238.72,9.49 238.67,9.48 238.62,9.47 238.57,9.46 238.52,9.45 238.47,9.44 238.43,9.42 238.38,9.41 238.33,9.4 238.28,9.38 238.24,9.37 238.19,9.35 238.14,9.34 238.09,9.32 238.04,9.3 238,9.28 237.95,9.26 237.9,9.24 237.86,9.22 237.81,9.2 237.76,9.18 237.72,9.16 237.67,9.13 237.62,9.11 237.58,9.08 237.53,9.06 237.49,9.03 237.44,9 237.39,8.98 237.35,8.95 237.3,8.92 237.26,8.89 237.21,8.86 237.17,8.83 237.12,8.8 237.08,8.76 237.04,8.73 236.99,8.7 236.95,8.66 236.9,8.63 236.86,8.59 236.82,8.55 236.77,8.52 236.73,8.48 236.69,8.44 236.65,8.4 236.6,8.36 236.56,8.32 236.52,8.28 236.48,8.24 236.44,8.2 236.4,8.16 236.36,8.11 236.32,8.07 236.27,8.02 236.23,7.98 236.19,7.93 236.16,7.89 236.12,7.84 236.08,7.79 236.04,7.74 236,7.7 235.96,7.65 235.92,7.6 235.89,7.55 235.85,7.49 235.81,7.44 235.77,7.39 235.74,7.34 235.7,7.29 235.67,7.23 235.63,7.18 235.59,7.12 235.56,7.07 235.53,7.01 235.49,6.95 235.46,6.9 235.42,6.84 235.39,6.78 235.36,6.72 235.32,6.66 235.29,6.6 235.26,6.54 235.23,6.48 235.2,6.42 235.16,6.36 235.13,6.3 235.1,6.24 235.07,6.17 235.04,6.11 235.01,6.05 234.99,5.98 234.96,5.92 234.93,5.85 234.9,5.78 234.87,5.72 234.85,5.65 234.82,5.58 234.79,5.52 234.77,5.45 234.74,5.38 234.72,5.31 234.69,5.24 234.67,5.17 234.64,5.1 234.62,5.03 234.59,4.96 234.57,4.89 234.55,4.82 234.53,4.75 234.5,4.68 234.48,4.6 234.46,4.53 234.44,4.46 234.42,4.39 234.4,4.31 234.38,4.24 234.36,4.16 234.35,4.09 234.33,4.01 234.31,3.94 234.29,3.86 234.28,3.79 234.26,3.71 234.24,3.63 234.23,3.56 234.21,3.48 234.2,3.4 234.18,3.32 234.17,3.25 234.16,3.17 234.14,3.09 234.13,3.01 234.12,2.93 234.11,2.85 234.1,2.77 234.08,2.7 234.07,2.62 234.06,2.54 234.05,2.46 234.05,2.38 234.04,2.3 234.03,2.22 234.02,2.13 234.01,2.05 234.01,1.97 234,1.89 233.99,1.81 233.99,1.73 233.98,1.65 233.98,1.57 233.98,1.48 233.97,1.4 233.97,1.32 233.97,1.24 233.96,1.16 233.96,1.07 233.96,0.99 233.96,0.91 233.96,0.83 233.96,0.74 233.96,0.66 233.96,0.58 233.96,0.5 233.96,0.41 233.97,0.33 233.97,0.25 233.97,0.17 233.98,0.08 233.98,-0 233.98,-0.08 233.99,-0.17 233.99,-0.25 234,-0.33 234.01,-0.41 234.01,-0.5 234.02,-0.58 234.03,-0.66 234.04,-0.74 234.05,-0.83 234.06,-0.91 234.06,-0.99 234.08,-1.07 234.09,-1.15 234.1,-1.24 234.11,-1.32 234.12,-1.4 234.13,-1.48 234.14,-1.56 234.16,-1.65 234.17,-1.73 234.19,-1.81 234.2,-1.89 234.22,-1.97 234.23,-2.05 234.25,-2.13 234.26,-2.21 234.28,-2.29 234.3,-2.37 234.32,-2.45 234.33,-2.53 234.35,-2.61 234.37,-2.69 234.39,-2.77 234.41,-2.85 234.43,-2.93 234.45,-3 234.47,-3.08 234.49,-3.16 234.52,-3.24 234.54,-3.32 234.56,-3.39 234.59,-3.47 234.61,-3.55 234.63,-3.62 234.66,-3.7 234.68,-3.77 234.71,-3.85 234.73,-3.93 234.76,-4 234.79,-4.08 234.81,-4.15 234.84,-4.22 234.87,-4.3 234.9,-4.37 234.93,-4.44 234.96,-4.52 234.99,-4.59 235.02,-4.66 235.05,-4.73 235.08,-4.8 235.11,-4.87 235.14,-4.94 235.17,-5.01 235.2,-5.08 235.24,-5.15 235.27,-5.22 235.3,-5.29 235.34,-5.36 235.37,-5.43 235.41,-5.49 235.44,-5.56 235.48,-5.63 235.51,-5.69 235.55,-5.76 235.58,-5.82 235.62,-5.89 235.66,-5.95 235.7,-6.02 235.73,-6.08 235.77,-6.14 235.81,-6.2 235.85,-6.27 235.89,-6.33 235.93,-6.39 235.97,-6.45 236.01,-6.51 236.05,-6.57 236.09,-6.63 236.13,-6.69 236.17,-6.74 236.21,-6.8 236.26,-6.86 236.3,-6.91 236.34,-6.97 236.38,-7.02 236.43,-7.08 236.47,-7.13 236.51,-7.19 236.56,-7.24 236.6,-7.29 236.65,-7.34 236.69,-7.4 236.74,-7.45 236.78,-7.5 236.83,-7.55 236.88,-7.6 236.92,-7.64 236.97,-7.69 237.02,-7.74 237.06,-7.79 237.11,-7.83 237.16,-7.88 237.21,-7.92 237.26,-7.97 237.3,-8.01 237.35,-8.05 237.4,-8.1 237.45,-8.14 237.5,-8.18 237.55,-8.22 237.6,-8.26 237.65,-8.3 237.7,-8.34 237.75,-8.38 237.8,-8.41 237.85,-8.45 237.9,-8.49 237.96,-8.52 238.01,-8.56 238.06,-8.59 238.11,-8.63 238.16,-8.66 238.22,-8.69 238.27,-8.72 238.32,-8.75 238.37,-8.78 238.43,-8.81 238.48,-8.84 238.53,-8.87 238.59,-8.9 238.64,-8.92 238.69,-8.95 238.75,-8.98 238.8,-9 238.86,-9.03 238.91,-9.05 238.96,-9.07 239.02,-9.09 239.07,-9.12 239.13,-9.14 239.18,-9.16 239.24,-9.18 239.29,-9.19 239.35,-9.21 239.4,-9.23 239.46,-9.25 239.52,-9.26 239.57,-9.28 239.63,-9.29 239.68,-9.3 239.74,-9.32 239.79,-9.33 239.85,-9.34 239.91,-9.35 239.96,-9.36 240.02,-9.37 240.07,-9.38 240.13,-9.39 240.19,-9.4 240.24,-9.4 240.3,-9.41 240.36,-9.41 240.41,-9.42 240.47,-9.42 240.52,-9.42 240.58,-9.43 240.64,-9.43 240.69,-9.43 240.75,-9.43 240.81,-9.43 240.86,-9.43" stroke-width="0.8" stroke="#2a2a2a"/><path d="M242.34,9.32 242.3,9.32 242.25,9.32 242.2,9.32 242.16,9.32 242.11,9.32 242.06,9.32 242.01,9.31 241.97,9.31 241.92,9.3 241.87,9.3 241.82,9.29 241.78,9.28 241.73,9.28 241.68,9.27 241.63,9.26 241.59,9.25 241.54,9.24 241.49,9.23 241.45,9.22 241.4,9.2 241.35,9.19 241.31,9.18 241.26,9.16 241.21,9.15 241.17,9.13 241.12,9.11 241.07,9.09 241.03,9.08 240.98,9.06 240.94,9.04 240.89,9.02 240.84,9 240.8,8.98 240.75,8.95 240.71,8.93 240.66,8.91 240.62,8.88 240.57,8.86 240.53,8.83 240.48,8.8 240.44,8.78 240.39,8.75 240.35,8.72 240.31,8.69 240.26,8.66 240.22,8.63 240.18,8.6 240.13,8.57 240.09,8.54 240.05,8.5 240,8.47 239.96,8.44 239.92,8.4 239.88,8.37 239.83,8.33 239.79,8.29 239.75,8.26 239.71,8.22 239.67,8.18 239.63,8.14 239.59,8.1 239.55,8.06 239.51,8.02 239.47,7.98 239.43,7.93 239.39,7.89 239.35,7.85 239.31,7.8 239.27,7.76 239.23,7.71 239.19,7.67 239.15,7.62 239.12,7.57 239.08,7.53 239.04,7.48 239,7.43 238.97,7.38 238.93,7.33 238.89,7.28 238.86,7.23 238.82,7.18 238.79,7.12 238.75,7.07 238.72,7.02 238.68,6.96 238.65,6.91 238.62,6.86 238.58,6.8 238.55,6.74 238.52,6.69 238.48,6.63 238.45,6.57 238.42,6.52 238.39,6.46 238.36,6.4 238.32,6.34 238.29,6.28 238.26,6.22 238.23,6.16 238.2,6.1 238.17,6.04 238.15,5.97 238.12,5.91 238.09,5.85 238.06,5.78 238.03,5.72 238.01,5.66 237.98,5.59 237.95,5.53 237.93,5.46 237.9,5.4 237.88,5.33 237.85,5.26 237.83,5.19 237.8,5.13 237.78,5.06 237.75,4.99 237.73,4.92 237.71,4.85 237.69,4.78 237.66,4.71 237.64,4.64 237.62,4.57 237.6,4.5 237.58,4.43 237.56,4.36 237.54,4.29 237.52,4.22 237.5,4.14 237.48,4.07 237.47,4 237.45,3.92 237.43,3.85 237.41,3.78 237.4,3.7 237.38,3.63 237.37,3.55 237.35,3.48 237.34,3.4 237.32,3.33 237.31,3.25 237.29,3.17 237.28,3.1 237.27,3.02 237.26,2.94 237.25,2.87 237.23,2.79 237.22,2.71 237.21,2.64 237.2,2.56 237.19,2.48 237.18,2.4 237.17,2.32 237.17,2.24 237.16,2.17 237.15,2.09 237.14,2.01 237.14,1.93 237.13,1.85 237.13,1.77 237.12,1.69 237.12,1.61 237.11,1.53 237.11,1.45 237.1,1.37 237.1,1.29 237.1,1.21 237.1,1.13 237.09,1.05 237.09,0.97 237.09,0.89 237.09,0.81 237.09,0.73 237.09,0.65 237.09,0.57 237.1,0.49 237.1,0.4 237.1,0.32 237.1,0.24 237.11,0.16 237.11,0.08 237.11,-0 237.12,-0.08 237.12,-0.16 237.13,-0.24 237.13,-0.32 237.14,-0.4 237.15,-0.49 237.15,-0.57 237.16,-0.65 237.17,-0.73 237.18,-0.81 237.19,-0.89 237.2,-0.97 237.21,-1.05 237.22,-1.13 237.23,-1.21 237.24,-1.29 237.25,-1.37 237.26,-1.45 237.28,-1.53 237.29,-1.61 237.3,-1.69 237.32,-1.77 237.33,-1.85 237.35,-1.93 237.36,-2 237.38,-2.08 237.39,-2.16 237.41,-2.24 237.43,-2.32 237.44,-2.4 237.46,-2.47 237.48,-2.55 237.5,-2.63 237.52,-2.71 237.54,-2.78 237.56,-2.86 237.58,-2.94 237.6,-3.01 237.62,-3.09 237.64,-3.17 237.66,-3.24 237.69,-3.32 237.71,-3.39 237.73,-3.47 237.76,-3.54 237.78,-3.62 237.81,-3.69 237.83,-3.76 237.86,-3.84 237.88,-3.91 237.91,-3.98 237.93,-4.06 237.96,-4.13 237.99,-4.2 238.02,-4.27 238.04,-4.34 238.07,-4.42 238.1,-4.49 238.13,-4.56 238.16,-4.63 238.19,-4.7 238.22,-4.77 238.25,-4.83 238.28,-4.9 238.32,-4.97 238.35,-5.04 238.38,-5.11 238.41,-5.17 238.45,-5.24 238.48,-5.31 238.51,-5.37 238.55,-5.44 238.58,-5.5 238.62,-5.57 238.65,-5.63 238.69,-5.69 238.73,-5.76 238.76,-5.82 238.8,-5.88 238.84,-5.94 238.87,-6.01 238.91,-6.07 238.95,-6.13 238.99,-6.19 239.03,-6.25 239.06,-6.31 239.1,-6.36 239.14,-6.42 239.18,-6.48 239.22,-6.54 239.27,-6.59 239.31,-6.65 239.35,-6.7 239.39,-6.76 239.43,-6.81 239.47,-6.87 239.52,-6.92 239.56,-6.97 239.6,-7.03 239.64,-7.08 239.69,-7.13 239.73,-7.18 239.78,-7.23 239.82,-7.28 239.87,-7.33 239.91,-7.38 239.96,-7.43 240,-7.47 240.05,-7.52 240.09,-7.57 240.14,-7.61 240.19,-7.66 240.23,-7.7 240.28,-7.75 240.33,-7.79 240.38,-7.83 240.42,-7.87 240.47,-7.92 240.52,-7.96 240.57,-8" stroke-width="0.8" stroke="#2a2a2a"/>
<ellipse cx="244" cy="0" rx="5.84" ry="9.2" stroke-width="1.3" />
<ellipse cx="243.6" cy="0" rx="4.32" ry="6.81" stroke-width="1.4" fill="#2e2e2e"/>
<ellipse cx="243" cy="0" rx="2.92" ry="4.6" stroke-width="0.7" fill="#555" stroke="#999"/>
<path d="M213,-10.4 Q214,-14.2 219.5,-13.6 L222,-10.2" stroke-width="1.4"/>
<path d="M263.5,7.4 262.28,7.15 261.15,6.41 260.18,5.23 259.43,3.7 258.96,1.92 258.8,0 258.96,-1.92 259.43,-3.7 260.18,-5.23 261.15,-6.41 262.28,-7.15 263.5,-7.4 273.8,-8.3 273.8,-8.3 275.16,-8.02 276.44,-7.19 277.53,-5.87 278.36,-4.15 278.89,-2.15 279.07,0 278.89,2.15 278.36,4.15 277.53,5.87 276.44,7.19 275.16,8.02 273.8,8.3 263.5,7.4Z" fill="#fff" stroke-width="1.3"/>
<path d="M266.8,7.6 265.55,7.34 264.39,6.58 263.39,5.37 262.62,3.8 262.14,1.97 261.97,0 262.14,-1.97 262.62,-3.8 263.39,-5.37 264.39,-6.58 265.55,-7.34 266.8,-7.6" stroke-width="1.1" />
<path d="M268.4,7.8 267.12,7.53 265.92,6.75 264.9,5.52 264.11,3.9 263.62,2.02 263.45,0 263.62,-2.02 264.11,-3.9 264.9,-5.52 265.92,-6.75 267.12,-7.53 268.4,-7.8" stroke-width="1.0" />
<path d="M270.8,8.1 269.47,7.82 268.23,7.01 267.16,5.73 266.35,4.05 265.83,2.1 265.66,0 265.83,-2.1 266.35,-4.05 267.16,-5.73 268.23,-7.01 269.47,-7.82 270.8,-8.1" stroke-width="1.3" />
<ellipse cx="273.8" cy="0" rx="5.27" ry="8.3" stroke-width="1.3" />
<ellipse cx="273.5" cy="0" rx="3.94" ry="6.2" stroke-width="1.5" />
<path d="M270.8,-4 L276.3,1 L270.8,4 Z" stroke-width="1.0" fill="#fff"/>
<path d="M272.8,-6 L272.8,6" stroke-width="1.2"/>
</g>
<circle cx="397.3" cy="407.8" r="27.8" fill="none" stroke="#1e1e1e" stroke-width="1"/>
<line x1="203.6" y1="184.7" x2="168.3" y2="221.2" stroke="#333" stroke-width="0.9"/><circle cx="168.3" cy="221.2" r="1.6" fill="#111"/>
<circle cx="212.9" cy="175.25" r="12.6" fill="#fff" stroke="#333" stroke-width="1"/><text x="212.9" y="179.45" text-anchor="middle" font-size="11.7" fill="#333">3</text>
<line x1="279.8" y1="228.4" x2="252.4" y2="274.6" stroke="#333" stroke-width="0.9"/><circle cx="252.4" cy="274.6" r="1.6" fill="#111"/>
<circle cx="286.5" cy="216.9" r="12.6" fill="#fff" stroke="#333" stroke-width="1"/><text x="286.5" y="221.1" text-anchor="middle" font-size="11.7" fill="#333">9</text>
<line x1="349.7" y1="283.4" x2="318.8" y2="347.5" stroke="#333" stroke-width="0.9"/>
<circle cx="355.45" cy="271.65" r="12.6" fill="#fff" stroke="#333" stroke-width="1"/><text x="355.45" y="275.85" text-anchor="middle" font-size="11.7" fill="#333">1</text>
<line x1="400.6" y1="311.7" x2="361.5" y2="374.5" stroke="#333" stroke-width="0.9"/>
<circle cx="406.7" cy="300.6" r="12.6" fill="#fff" stroke="#333" stroke-width="1"/><text x="406.7" y="304.8" text-anchor="middle" font-size="11.7" fill="#333">6</text>
<line x1="445.7" y1="350.5" x2="398.7" y2="400.6" stroke="#333" stroke-width="0.9"/><circle cx="398.7" cy="400.6" r="1.6" fill="#111"/>
<circle cx="455.4" cy="339.9" r="12.6" fill="#fff" stroke="#333" stroke-width="1"/><text x="455.4" y="344.1" text-anchor="middle" font-size="11.7" fill="#333">5</text>
<line x1="92.7" y1="531.3" x2="130.5" y2="510.5" stroke="#333" stroke-width="0.9"/>
<path d="M134.8,508.2 L128.6,510.5 L130.3,513.2 Z" fill="#111"/>
<circle cx="80.8" cy="537.9" r="12.6" fill="#fff" stroke="#333" stroke-width="1"/><text x="80.8" y="542.1" text-anchor="middle" font-size="11.7" fill="#333">4</text>
<line x1="141.6" y1="574.9" x2="188.7" y2="539.2" stroke="#333" stroke-width="0.9"/><circle cx="188.7" cy="539.2" r="1.6" fill="#111"/>
<circle cx="131.65" cy="582.5" r="12.6" fill="#fff" stroke="#333" stroke-width="1"/><text x="131.65" y="586.7" text-anchor="middle" font-size="11.7" fill="#333">7</text>
<line x1="193" y1="613" x2="230.4" y2="576.2" stroke="#333" stroke-width="0.9"/><circle cx="230.4" cy="576.2" r="1.6" fill="#111"/>
<circle cx="184" cy="622.9" r="12.6" fill="#fff" stroke="#333" stroke-width="1"/><text x="184" y="627.1" text-anchor="middle" font-size="11.7" fill="#333">2</text>
<line x1="260.9" y1="667.2" x2="299.9" y2="627.5" stroke="#333" stroke-width="0.9"/><circle cx="299.9" cy="627.5" r="1.6" fill="#111"/>
<circle cx="251.9" cy="676.4" r="12.6" fill="#fff" stroke="#333" stroke-width="1"/><text x="251.9" y="680.6" text-anchor="middle" font-size="11.7" fill="#333">8</text>
<path d="M316.3,207 L305.8,224.8 L326.8,224.8 Z" fill="none" stroke="#8a8a8a" stroke-width="0.9"/>
<line x1="305.8" y1="224.9" x2="326.8" y2="224.9" stroke="#aaa" stroke-width="1.1"/>
<path d="M320.1,216 A5,5 0 1 0 321.1,220.1 L316.9,220.1" fill="none" stroke="#2a2a2a" stroke-width="1.1"/>
<rect x="298.2" y="229.3" width="36.6" height="11.4" fill="#fff" stroke="#6a6a6a" stroke-width="1"/>
<text x="316.3" y="238.3" text-anchor="middle" font-size="9.6" fill="#2a2a2a" textLength="31.2" lengthAdjust="spacingAndGlyphs">120 Nm</text>
</svg></body></html>
